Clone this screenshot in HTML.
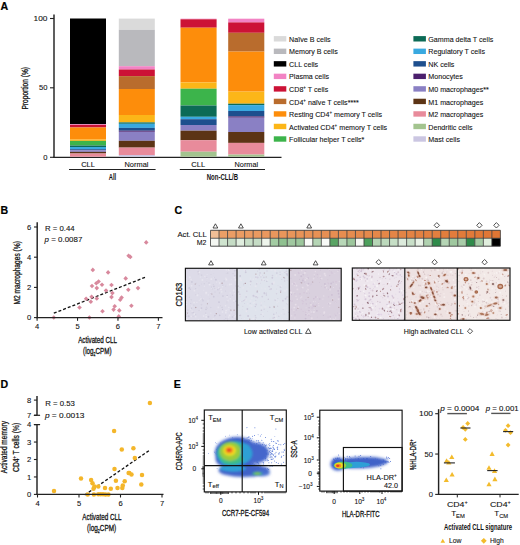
<!DOCTYPE html>
<html><head><meta charset="utf-8"><style>
html,body{margin:0;padding:0;background:#fff;width:520px;height:545px;overflow:hidden}
svg{display:block;font-family:"Liberation Sans", sans-serif}
</style></head><body>
<svg width="520" height="545" viewBox="0 0 520 545">
<rect width="520" height="545" fill="#fff"/>
<text x="0.6" y="9.6" font-size="10.6" font-weight="bold" fill="#000" stroke="#000" stroke-width="0.2">A</text><line x1="54" y1="14.4" x2="54" y2="157.8" stroke="#222" stroke-width="1.45"/><line x1="53.3" y1="157.3" x2="281.5" y2="157.3" stroke="#222" stroke-width="1.3"/><line x1="50" y1="18.5" x2="54" y2="18.5" stroke="#222" stroke-width="1.1"/><text x="47.4" y="21.1" font-size="7.6" text-anchor="end" textLength="13.9" lengthAdjust="spacingAndGlyphs" fill="#111" stroke="#111" stroke-width="0.1">100</text><line x1="50" y1="87.8" x2="54" y2="87.8" stroke="#222" stroke-width="1.1"/><text x="47.4" y="90.39999999999999" font-size="7.6" text-anchor="end" fill="#111" stroke="#111" stroke-width="0.1">50</text><line x1="50" y1="157.3" x2="54" y2="157.3" stroke="#222" stroke-width="1.1"/><text x="47.4" y="159.9" font-size="7.6" text-anchor="end" fill="#111" stroke="#111" stroke-width="0.1">0</text><text x="0" y="0" font-size="8.6" text-anchor="middle" textLength="42.6" lengthAdjust="spacingAndGlyphs" transform="translate(27.6 88.25) rotate(-90)" fill="#111" stroke="#111" stroke-width="0.28">Proportion (%)</text><rect x="70.00" y="18.50" width="36.00" height="105.70" fill="#000000"/><rect x="70.00" y="124.20" width="36.00" height="0.70" fill="#f283c4"/><rect x="70.00" y="124.90" width="36.00" height="2.60" fill="#cc1236"/><rect x="70.00" y="127.50" width="36.00" height="12.10" fill="#fd8d0b"/><rect x="70.00" y="139.60" width="36.00" height="1.30" fill="#fcb618"/><rect x="70.00" y="140.90" width="36.00" height="4.60" fill="#3cb44b"/><rect x="70.00" y="145.50" width="36.00" height="1.50" fill="#0c6b56"/><rect x="70.00" y="147.00" width="36.00" height="2.20" fill="#39a9e0"/><rect x="70.00" y="149.20" width="36.00" height="1.00" fill="#1d4f8e"/><rect x="70.00" y="150.20" width="36.00" height="1.70" fill="#8a80c4"/><rect x="70.00" y="151.90" width="36.00" height="1.60" fill="#5c3415"/><rect x="70.00" y="153.50" width="36.00" height="3.20" fill="#e88b9b"/><rect x="118.80" y="18.60" width="36.00" height="11.20" fill="#dadada"/><rect x="118.80" y="29.80" width="36.00" height="36.40" fill="#b9b9bd"/><rect x="118.80" y="66.20" width="36.00" height="3.30" fill="#f283c4"/><rect x="118.80" y="69.50" width="36.00" height="6.60" fill="#cc1236"/><rect x="118.80" y="76.10" width="36.00" height="12.90" fill="#b96c2d"/><rect x="118.80" y="89.00" width="36.00" height="26.00" fill="#fd8d0b"/><rect x="118.80" y="115.00" width="36.00" height="7.40" fill="#fcb618"/><rect x="118.80" y="122.40" width="36.00" height="1.40" fill="#0c6b56"/><rect x="118.80" y="123.80" width="36.00" height="4.10" fill="#39a9e0"/><rect x="118.80" y="127.90" width="36.00" height="2.80" fill="#1d4f8e"/><rect x="118.80" y="130.70" width="36.00" height="1.10" fill="#4b1f6d"/><rect x="118.80" y="131.80" width="36.00" height="9.00" fill="#8a80c4"/><rect x="118.80" y="140.80" width="36.00" height="6.80" fill="#5c3415"/><rect x="118.80" y="147.60" width="36.00" height="7.40" fill="#e88b9b"/><rect x="118.80" y="155.00" width="36.00" height="1.70" fill="#cbc6e2"/><rect x="180.50" y="18.70" width="36.10" height="0.60" fill="#f283c4"/><rect x="180.50" y="19.30" width="36.10" height="8.40" fill="#cc1236"/><rect x="180.50" y="27.70" width="36.10" height="54.70" fill="#fd8d0b"/><rect x="180.50" y="82.40" width="36.10" height="6.30" fill="#fcb618"/><rect x="180.50" y="88.70" width="36.10" height="16.80" fill="#3cb44b"/><rect x="180.50" y="105.50" width="36.10" height="11.30" fill="#0c6b56"/><rect x="180.50" y="116.80" width="36.10" height="2.40" fill="#39a9e0"/><rect x="180.50" y="119.20" width="36.10" height="5.80" fill="#1d4f8e"/><rect x="180.50" y="125.00" width="36.10" height="5.70" fill="#8a80c4"/><rect x="180.50" y="130.70" width="36.10" height="9.50" fill="#5c3415"/><rect x="180.50" y="140.20" width="36.10" height="11.50" fill="#e88b9b"/><rect x="180.50" y="151.70" width="36.10" height="5.00" fill="#a3c48f"/><rect x="228.20" y="18.70" width="36.10" height="3.70" fill="#f283c4"/><rect x="228.20" y="22.40" width="36.10" height="10.40" fill="#cc1236"/><rect x="228.20" y="32.80" width="36.10" height="18.80" fill="#b96c2d"/><rect x="228.20" y="51.60" width="36.10" height="40.00" fill="#fd8d0b"/><rect x="228.20" y="91.60" width="36.10" height="12.10" fill="#fcb618"/><rect x="228.20" y="103.70" width="36.10" height="1.40" fill="#0c6b56"/><rect x="228.20" y="105.10" width="36.10" height="5.90" fill="#39a9e0"/><rect x="228.20" y="111.00" width="36.10" height="5.40" fill="#1d4f8e"/><rect x="228.20" y="116.40" width="36.10" height="1.30" fill="#4b1f6d"/><rect x="228.20" y="117.70" width="36.10" height="14.30" fill="#8a80c4"/><rect x="228.20" y="132.00" width="36.10" height="10.90" fill="#5c3415"/><rect x="228.20" y="142.90" width="36.10" height="11.70" fill="#e88b9b"/><rect x="228.20" y="154.60" width="36.10" height="2.10" fill="#a3c48f"/><text x="81.2" y="166.6" font-size="7.3" textLength="13.7" lengthAdjust="spacingAndGlyphs" fill="#111" stroke="#111" stroke-width="0.1">CLL</text><text x="124.5" y="166.6" font-size="7.3" textLength="23.9" lengthAdjust="spacingAndGlyphs" fill="#111" stroke="#111" stroke-width="0.1">Normal</text><text x="191.3" y="166.6" font-size="7.3" textLength="13.9" lengthAdjust="spacingAndGlyphs" fill="#111" stroke="#111" stroke-width="0.1">CLL</text><text x="234.6" y="166.6" font-size="7.3" textLength="23.5" lengthAdjust="spacingAndGlyphs" fill="#111" stroke="#111" stroke-width="0.1">Normal</text><line x1="69" y1="169.5" x2="155.6" y2="169.5" stroke="#222" stroke-width="1.1"/><line x1="179.8" y1="169.5" x2="265" y2="169.5" stroke="#222" stroke-width="1.1"/><text x="108.8" y="179.6" font-size="8.6" font-weight="bold" textLength="7.4" lengthAdjust="spacingAndGlyphs" fill="#111">All</text><text x="206.7" y="180" font-size="8.6" font-weight="bold" textLength="31.4" lengthAdjust="spacingAndGlyphs" fill="#111">Non-CLL/B</text><rect x="273.80" y="36.10" width="12.50" height="5.40" fill="#dadada"/><text x="0" y="0" font-size="7.6" transform="translate(289.1 41.9) scale(0.937 1)" fill="#111" stroke="#111" stroke-width="0.1">Naïve B cells</text><rect x="273.80" y="48.62" width="12.50" height="5.40" fill="#b9b9bd"/><text x="0" y="0" font-size="7.6" transform="translate(289.1 54.425) scale(0.937 1)" fill="#111" stroke="#111" stroke-width="0.1">Memory B cells</text><rect x="273.80" y="61.15" width="12.50" height="5.40" fill="#000000"/><text x="0" y="0" font-size="7.6" transform="translate(289.1 66.94999999999999) scale(0.937 1)" fill="#111" stroke="#111" stroke-width="0.1">CLL cells</text><rect x="273.80" y="73.67" width="12.50" height="5.40" fill="#f283c4"/><text x="0" y="0" font-size="7.6" transform="translate(289.1 79.475) scale(0.937 1)" fill="#111" stroke="#111" stroke-width="0.1">Plasma cells</text><rect x="273.80" y="86.20" width="12.50" height="5.40" fill="#cc1236"/><text x="0" y="0" font-size="7.6" transform="translate(289.1 92.0) scale(0.937 1)" fill="#111" stroke="#111" stroke-width="0.1">CD8<tspan font-size="4.8" dy="-2.8">+</tspan><tspan dy="2.8"> T cells</tspan></text><rect x="273.80" y="98.72" width="12.50" height="5.40" fill="#b96c2d"/><text x="0" y="0" font-size="7.6" transform="translate(289.1 104.52499999999999) scale(0.937 1)" fill="#111" stroke="#111" stroke-width="0.1">CD4<tspan font-size="4.8" dy="-2.8">+</tspan><tspan dy="2.8"> naïve T cells****</tspan></text><rect x="273.80" y="111.25" width="12.50" height="5.40" fill="#fd8d0b"/><text x="0" y="0" font-size="7.6" transform="translate(289.1 117.05) scale(0.937 1)" fill="#111" stroke="#111" stroke-width="0.1">Resting CD4<tspan font-size="4.8" dy="-2.8">+</tspan><tspan dy="2.8"> memory T cells</tspan></text><rect x="273.80" y="123.77" width="12.50" height="5.40" fill="#fcb618"/><text x="0" y="0" font-size="7.6" transform="translate(289.1 129.575) scale(0.937 1)" fill="#111" stroke="#111" stroke-width="0.1">Activated CD4<tspan font-size="4.8" dy="-2.8">+</tspan><tspan dy="2.8"> memory T cells</tspan></text><rect x="273.80" y="136.30" width="12.50" height="5.40" fill="#3cb44b"/><text x="0" y="0" font-size="7.6" transform="translate(289.1 142.1) scale(0.937 1)" fill="#111" stroke="#111" stroke-width="0.1">Follicular helper T cells*</text><rect x="413.40" y="36.10" width="12.50" height="5.40" fill="#0c6b56"/><text x="0" y="0" font-size="7.6" transform="translate(428.3 41.9) scale(0.937 1)" fill="#111" stroke="#111" stroke-width="0.1">Gamma delta T cells</text><rect x="413.40" y="48.62" width="12.50" height="5.40" fill="#39a9e0"/><text x="0" y="0" font-size="7.6" transform="translate(428.3 54.425) scale(0.937 1)" fill="#111" stroke="#111" stroke-width="0.1">Regulatory T cells</text><rect x="413.40" y="61.15" width="12.50" height="5.40" fill="#1d4f8e"/><text x="0" y="0" font-size="7.6" transform="translate(428.3 66.94999999999999) scale(0.937 1)" fill="#111" stroke="#111" stroke-width="0.1">NK cells</text><rect x="413.40" y="73.67" width="12.50" height="5.40" fill="#4b1f6d"/><text x="0" y="0" font-size="7.6" transform="translate(428.3 79.475) scale(0.937 1)" fill="#111" stroke="#111" stroke-width="0.1">Monocytes</text><rect x="413.40" y="86.20" width="12.50" height="5.40" fill="#8a80c4"/><text x="0" y="0" font-size="7.6" transform="translate(428.3 92.0) scale(0.937 1)" fill="#111" stroke="#111" stroke-width="0.1">M0 macrophages**</text><rect x="413.40" y="98.72" width="12.50" height="5.40" fill="#5c3415"/><text x="0" y="0" font-size="7.6" transform="translate(428.3 104.52499999999999) scale(0.937 1)" fill="#111" stroke="#111" stroke-width="0.1">M1 macrophages</text><rect x="413.40" y="111.25" width="12.50" height="5.40" fill="#e88b9b"/><text x="0" y="0" font-size="7.6" transform="translate(428.3 117.05) scale(0.937 1)" fill="#111" stroke="#111" stroke-width="0.1">M2 macrophages</text><rect x="413.40" y="123.77" width="12.50" height="5.40" fill="#a3c48f"/><text x="0" y="0" font-size="7.6" transform="translate(428.3 129.575) scale(0.937 1)" fill="#111" stroke="#111" stroke-width="0.1">Dendritic cells</text><rect x="413.40" y="136.30" width="12.50" height="5.40" fill="#cbc6e2"/><text x="0" y="0" font-size="7.6" transform="translate(428.3 142.1) scale(0.937 1)" fill="#111" stroke="#111" stroke-width="0.1">Mast cells</text><text x="0.6" y="213.6" font-size="10.6" font-weight="bold" fill="#000" stroke="#000" stroke-width="0.2">B</text><text x="45" y="231.2" font-size="7" textLength="29.6" lengthAdjust="spacingAndGlyphs" fill="#111" stroke="#111" stroke-width="0.1">R = 0.44</text><text x="44.6" y="242" font-size="7" textLength="37.7" lengthAdjust="spacingAndGlyphs" fill="#111" stroke="#111" stroke-width="0.1"><tspan font-style="italic">p</tspan> = 0.0087</text><text x="78.2" y="342.6" font-size="8.6" textLength="38.7" lengthAdjust="spacingAndGlyphs" fill="#111" stroke="#111" stroke-width="0.28">Activated CLL</text><text x="83.1" y="354" font-size="8.6" textLength="28.4" lengthAdjust="spacingAndGlyphs" fill="#111" stroke="#111" stroke-width="0.28">(log<tspan font-size="4.8" dy="1.7">2</tspan><tspan dy="-1.7">CPM)</tspan></text><text x="0" y="0" font-size="8.6" text-anchor="middle" textLength="63.3" lengthAdjust="spacingAndGlyphs" transform="translate(20.3 272.8) rotate(-90)" fill="#111" stroke="#111" stroke-width="0.28">M2 macrophages (%)</text><line x1="53.8" y1="313.2" x2="146.2" y2="276.9" stroke="#111" stroke-width="1.3" stroke-dasharray="3 2"/><path d="M146.2 240.1L148.5 242.4L146.2 244.7L143.9 242.4Z" fill="#d8899d"/><path d="M128.6 253.5L130.9 255.8L128.6 258.1L126.3 255.8Z" fill="#d8899d"/><path d="M130.3 254.6L132.6 256.9L130.3 259.2L128.0 256.9Z" fill="#d8899d"/><path d="M92.8 267.6L95.1 269.9L92.8 272.2L90.5 269.9Z" fill="#d8899d"/><path d="M108.1 270.1L110.4 272.4L108.1 274.7L105.8 272.4Z" fill="#d8899d"/><path d="M125.7 276.1L128.0 278.4L125.7 280.7L123.4 278.4Z" fill="#d8899d"/><path d="M98.6 279.2L100.9 281.5L98.6 283.8L96.3 281.5Z" fill="#d8899d"/><path d="M96.3 281.0L98.6 283.3L96.3 285.6L94.0 283.3Z" fill="#d8899d"/><path d="M92.0 283.7L94.3 286.0L92.0 288.3L89.7 286.0Z" fill="#d8899d"/><path d="M102.0 282.4L104.3 284.7L102.0 287.0L99.7 284.7Z" fill="#d8899d"/><path d="M111.5 282.7L113.8 285.0L111.5 287.3L109.2 285.0Z" fill="#d8899d"/><path d="M96.8 285.8L99.1 288.1L96.8 290.4L94.5 288.1Z" fill="#d8899d"/><path d="M128.3 287.4L130.6 289.7L128.3 292.0L126.0 289.7Z" fill="#d8899d"/><path d="M138.0 285.8L140.3 288.1L138.0 290.4L135.7 288.1Z" fill="#d8899d"/><path d="M106.0 288.2L108.3 290.5L106.0 292.8L103.7 290.5Z" fill="#d8899d"/><path d="M112.4 290.8L114.7 293.1L112.4 295.4L110.1 293.1Z" fill="#d8899d"/><path d="M91.6 294.5L93.9 296.8L91.6 299.1L89.3 296.8Z" fill="#d8899d"/><path d="M86.1 296.5L88.4 298.8L86.1 301.1L83.8 298.8Z" fill="#d8899d"/><path d="M96.8 296.2L99.1 298.5L96.8 300.8L94.5 298.5Z" fill="#d8899d"/><path d="M111.5 294.8L113.8 297.1L111.5 299.4L109.2 297.1Z" fill="#d8899d"/><path d="M121.6 295.3L123.9 297.6L121.6 299.9L119.3 297.6Z" fill="#d8899d"/><path d="M120.2 297.4L122.5 299.7L120.2 302.0L117.9 299.7Z" fill="#d8899d"/><path d="M90.8 299.5L93.1 301.8L90.8 304.1L88.5 301.8Z" fill="#d8899d"/><path d="M79.5 305.2L81.8 307.5L79.5 309.8L77.2 307.5Z" fill="#d8899d"/><path d="M131.4 303.5L133.7 305.8L131.4 308.1L129.1 305.8Z" fill="#d8899d"/><path d="M114.7 304.0L117.0 306.3L114.7 308.6L112.4 306.3Z" fill="#d8899d"/><path d="M113.6 307.3L115.9 309.6L113.6 311.9L111.3 309.6Z" fill="#d8899d"/><path d="M119.3 308.1L121.6 310.4L119.3 312.7L117.0 310.4Z" fill="#d8899d"/><path d="M102.5 309.0L104.8 311.3L102.5 313.6L100.2 311.3Z" fill="#d8899d"/><path d="M89.4 315.2L91.7 317.5L89.4 319.8L87.1 317.5Z" fill="#d8899d"/><path d="M118.8 314.1L121.1 316.4L118.8 318.7L116.5 316.4Z" fill="#d8899d"/><path d="M53.8 315.2L56.1 317.5L53.8 319.8L51.5 317.5Z" fill="#d8899d"/><line x1="37.2" y1="222.3" x2="37.2" y2="318.2" stroke="#222" stroke-width="1.45"/><line x1="36.5" y1="317.6" x2="162.5" y2="317.6" stroke="#222" stroke-width="1.35"/><line x1="34" y1="317.6" x2="37.2" y2="317.6" stroke="#222" stroke-width="1.1"/><text x="29" y="320.3" font-size="7.6" text-anchor="middle" fill="#111" stroke="#111" stroke-width="0.1">0</text><line x1="34" y1="287.40000000000003" x2="37.2" y2="287.40000000000003" stroke="#222" stroke-width="1.1"/><text x="29" y="290.1" font-size="7.6" text-anchor="middle" fill="#111" stroke="#111" stroke-width="0.1">2</text><line x1="34" y1="257.20000000000005" x2="37.2" y2="257.20000000000005" stroke="#222" stroke-width="1.1"/><text x="29" y="259.90000000000003" font-size="7.6" text-anchor="middle" fill="#111" stroke="#111" stroke-width="0.1">4</text><line x1="34" y1="227.00000000000003" x2="37.2" y2="227.00000000000003" stroke="#222" stroke-width="1.1"/><text x="29" y="229.70000000000002" font-size="7.6" text-anchor="middle" fill="#111" stroke="#111" stroke-width="0.1">6</text><line x1="37.1" y1="317.6" x2="37.1" y2="320.8" stroke="#222" stroke-width="1.1"/><text x="37.1" y="329.1" font-size="7.6" text-anchor="middle" fill="#111" stroke="#111" stroke-width="0.1">4</text><line x1="77.53" y1="317.6" x2="77.53" y2="320.8" stroke="#222" stroke-width="1.1"/><text x="77.53" y="329.1" font-size="7.6" text-anchor="middle" fill="#111" stroke="#111" stroke-width="0.1">5</text><line x1="117.96000000000001" y1="317.6" x2="117.96000000000001" y2="320.8" stroke="#222" stroke-width="1.1"/><text x="117.96000000000001" y="329.1" font-size="7.6" text-anchor="middle" fill="#111" stroke="#111" stroke-width="0.1">6</text><line x1="158.39" y1="317.6" x2="158.39" y2="320.8" stroke="#222" stroke-width="1.1"/><text x="158.39" y="329.1" font-size="7.6" text-anchor="middle" fill="#111" stroke="#111" stroke-width="0.1">7</text><text x="174.4" y="213.5" font-size="10.6" font-weight="bold" fill="#000" stroke="#000" stroke-width="0.2">C</text><rect x="210.50" y="230.30" width="8.53" height="7.95" fill="#f0be96"/><rect x="210.50" y="238.25" width="8.53" height="7.95" fill="#f4f7f2"/><rect x="219.03" y="230.30" width="8.53" height="7.95" fill="#ec9f66"/><rect x="219.03" y="238.25" width="8.53" height="7.95" fill="#cfe4cf"/><rect x="227.55" y="230.30" width="8.53" height="7.95" fill="#eb9d65"/><rect x="227.55" y="238.25" width="8.53" height="7.95" fill="#c5dcc5"/><rect x="236.08" y="230.30" width="8.53" height="7.95" fill="#eb9c63"/><rect x="236.08" y="238.25" width="8.53" height="7.95" fill="#e0eedf"/><rect x="244.61" y="230.30" width="8.53" height="7.95" fill="#eb9b62"/><rect x="244.61" y="238.25" width="8.53" height="7.95" fill="#c8dfc8"/><rect x="253.13" y="230.30" width="8.53" height="7.95" fill="#ea9a60"/><rect x="253.13" y="238.25" width="8.53" height="7.95" fill="#c5dcc5"/><rect x="261.66" y="230.30" width="8.53" height="7.95" fill="#ea985f"/><rect x="261.66" y="238.25" width="8.53" height="7.95" fill="#eef5ec"/><rect x="270.19" y="230.30" width="8.53" height="7.95" fill="#e9975d"/><rect x="270.19" y="238.25" width="8.53" height="7.95" fill="#a3cca3"/><rect x="278.71" y="230.30" width="8.53" height="7.95" fill="#e9965b"/><rect x="278.71" y="238.25" width="8.53" height="7.95" fill="#8fc190"/><rect x="287.24" y="230.30" width="8.53" height="7.95" fill="#e9955a"/><rect x="287.24" y="238.25" width="8.53" height="7.95" fill="#a0c8a0"/><rect x="295.76" y="230.30" width="8.53" height="7.95" fill="#e89358"/><rect x="295.76" y="238.25" width="8.53" height="7.95" fill="#9cc69c"/><rect x="304.29" y="230.30" width="8.53" height="7.95" fill="#e89257"/><rect x="304.29" y="238.25" width="8.53" height="7.95" fill="#f8faf7"/><rect x="312.82" y="230.30" width="8.53" height="7.95" fill="#e89155"/><rect x="312.82" y="238.25" width="8.53" height="7.95" fill="#b5d5b5"/><rect x="321.34" y="230.30" width="8.53" height="7.95" fill="#e78f54"/><rect x="321.34" y="238.25" width="8.53" height="7.95" fill="#f8faf7"/><rect x="329.87" y="230.30" width="8.53" height="7.95" fill="#e78e52"/><rect x="329.87" y="238.25" width="8.53" height="7.95" fill="#5aa565"/><rect x="338.40" y="230.30" width="8.53" height="7.95" fill="#e78d50"/><rect x="338.40" y="238.25" width="8.53" height="7.95" fill="#b8d8b8"/><rect x="346.92" y="230.30" width="8.53" height="7.95" fill="#e68c4f"/><rect x="346.92" y="238.25" width="8.53" height="7.95" fill="#9cc69c"/><rect x="355.45" y="230.30" width="8.53" height="7.95" fill="#e68a4d"/><rect x="355.45" y="238.25" width="8.53" height="7.95" fill="#f3f6f1"/><rect x="363.98" y="230.30" width="8.53" height="7.95" fill="#e5894c"/><rect x="363.98" y="238.25" width="8.53" height="7.95" fill="#4da05c"/><rect x="372.50" y="230.30" width="8.53" height="7.95" fill="#e5884a"/><rect x="372.50" y="238.25" width="8.53" height="7.95" fill="#b5d5b5"/><rect x="381.03" y="230.30" width="8.53" height="7.95" fill="#e58748"/><rect x="381.03" y="238.25" width="8.53" height="7.95" fill="#bcd9bc"/><rect x="389.56" y="230.30" width="8.53" height="7.95" fill="#e48547"/><rect x="389.56" y="238.25" width="8.53" height="7.95" fill="#c6dfc6"/><rect x="398.08" y="230.30" width="8.53" height="7.95" fill="#e48445"/><rect x="398.08" y="238.25" width="8.53" height="7.95" fill="#dcebdc"/><rect x="406.61" y="230.30" width="8.53" height="7.95" fill="#e48344"/><rect x="406.61" y="238.25" width="8.53" height="7.95" fill="#c8dfc8"/><rect x="415.14" y="230.30" width="8.53" height="7.95" fill="#e38142"/><rect x="415.14" y="238.25" width="8.53" height="7.95" fill="#e8f2e6"/><rect x="423.66" y="230.30" width="8.53" height="7.95" fill="#e38041"/><rect x="423.66" y="238.25" width="8.53" height="7.95" fill="#b0d2b0"/><rect x="432.19" y="230.30" width="8.53" height="7.95" fill="#e37f3f"/><rect x="432.19" y="238.25" width="8.53" height="7.95" fill="#2e8b4a"/><rect x="440.71" y="230.30" width="8.53" height="7.95" fill="#e27e3d"/><rect x="440.71" y="238.25" width="8.53" height="7.95" fill="#b5d5b5"/><rect x="449.24" y="230.30" width="8.53" height="7.95" fill="#e27c3c"/><rect x="449.24" y="238.25" width="8.53" height="7.95" fill="#9fc89f"/><rect x="457.77" y="230.30" width="8.53" height="7.95" fill="#e17b3a"/><rect x="457.77" y="238.25" width="8.53" height="7.95" fill="#a8cca8"/><rect x="466.29" y="230.30" width="8.53" height="7.95" fill="#e17a39"/><rect x="466.29" y="238.25" width="8.53" height="7.95" fill="#2e8b4a"/><rect x="474.82" y="230.30" width="8.53" height="7.95" fill="#e17937"/><rect x="474.82" y="238.25" width="8.53" height="7.95" fill="#a5cba5"/><rect x="483.35" y="230.30" width="8.53" height="7.95" fill="#e07736"/><rect x="483.35" y="238.25" width="8.53" height="7.95" fill="#e0eedd"/><rect x="491.87" y="230.30" width="8.53" height="7.95" fill="#e07634"/><rect x="491.87" y="238.25" width="8.53" height="7.95" fill="#000000"/><line x1="210.50" y1="230.3" x2="210.50" y2="246.2" stroke="#3a3a3a" stroke-width="0.8"/><line x1="219.03" y1="230.3" x2="219.03" y2="246.2" stroke="#3a3a3a" stroke-width="0.8"/><line x1="227.55" y1="230.3" x2="227.55" y2="246.2" stroke="#3a3a3a" stroke-width="0.8"/><line x1="236.08" y1="230.3" x2="236.08" y2="246.2" stroke="#3a3a3a" stroke-width="0.8"/><line x1="244.61" y1="230.3" x2="244.61" y2="246.2" stroke="#3a3a3a" stroke-width="0.8"/><line x1="253.13" y1="230.3" x2="253.13" y2="246.2" stroke="#3a3a3a" stroke-width="0.8"/><line x1="261.66" y1="230.3" x2="261.66" y2="246.2" stroke="#3a3a3a" stroke-width="0.8"/><line x1="270.19" y1="230.3" x2="270.19" y2="246.2" stroke="#3a3a3a" stroke-width="0.8"/><line x1="278.71" y1="230.3" x2="278.71" y2="246.2" stroke="#3a3a3a" stroke-width="0.8"/><line x1="287.24" y1="230.3" x2="287.24" y2="246.2" stroke="#3a3a3a" stroke-width="0.8"/><line x1="295.76" y1="230.3" x2="295.76" y2="246.2" stroke="#3a3a3a" stroke-width="0.8"/><line x1="304.29" y1="230.3" x2="304.29" y2="246.2" stroke="#3a3a3a" stroke-width="0.8"/><line x1="312.82" y1="230.3" x2="312.82" y2="246.2" stroke="#3a3a3a" stroke-width="0.8"/><line x1="321.34" y1="230.3" x2="321.34" y2="246.2" stroke="#3a3a3a" stroke-width="0.8"/><line x1="329.87" y1="230.3" x2="329.87" y2="246.2" stroke="#3a3a3a" stroke-width="0.8"/><line x1="338.40" y1="230.3" x2="338.40" y2="246.2" stroke="#3a3a3a" stroke-width="0.8"/><line x1="346.92" y1="230.3" x2="346.92" y2="246.2" stroke="#3a3a3a" stroke-width="0.8"/><line x1="355.45" y1="230.3" x2="355.45" y2="246.2" stroke="#3a3a3a" stroke-width="0.8"/><line x1="363.98" y1="230.3" x2="363.98" y2="246.2" stroke="#3a3a3a" stroke-width="0.8"/><line x1="372.50" y1="230.3" x2="372.50" y2="246.2" stroke="#3a3a3a" stroke-width="0.8"/><line x1="381.03" y1="230.3" x2="381.03" y2="246.2" stroke="#3a3a3a" stroke-width="0.8"/><line x1="389.56" y1="230.3" x2="389.56" y2="246.2" stroke="#3a3a3a" stroke-width="0.8"/><line x1="398.08" y1="230.3" x2="398.08" y2="246.2" stroke="#3a3a3a" stroke-width="0.8"/><line x1="406.61" y1="230.3" x2="406.61" y2="246.2" stroke="#3a3a3a" stroke-width="0.8"/><line x1="415.14" y1="230.3" x2="415.14" y2="246.2" stroke="#3a3a3a" stroke-width="0.8"/><line x1="423.66" y1="230.3" x2="423.66" y2="246.2" stroke="#3a3a3a" stroke-width="0.8"/><line x1="432.19" y1="230.3" x2="432.19" y2="246.2" stroke="#3a3a3a" stroke-width="0.8"/><line x1="440.71" y1="230.3" x2="440.71" y2="246.2" stroke="#3a3a3a" stroke-width="0.8"/><line x1="449.24" y1="230.3" x2="449.24" y2="246.2" stroke="#3a3a3a" stroke-width="0.8"/><line x1="457.77" y1="230.3" x2="457.77" y2="246.2" stroke="#3a3a3a" stroke-width="0.8"/><line x1="466.29" y1="230.3" x2="466.29" y2="246.2" stroke="#3a3a3a" stroke-width="0.8"/><line x1="474.82" y1="230.3" x2="474.82" y2="246.2" stroke="#3a3a3a" stroke-width="0.8"/><line x1="483.35" y1="230.3" x2="483.35" y2="246.2" stroke="#3a3a3a" stroke-width="0.8"/><line x1="491.87" y1="230.3" x2="491.87" y2="246.2" stroke="#3a3a3a" stroke-width="0.8"/><line x1="500.40" y1="230.3" x2="500.40" y2="246.2" stroke="#3a3a3a" stroke-width="0.8"/><line x1="210.5" y1="230.3" x2="500.4" y2="230.3" stroke="#3a3a3a" stroke-width="0.9"/><line x1="210.5" y1="238.25" x2="500.4" y2="238.25" stroke="#3a3a3a" stroke-width="0.8"/><line x1="210.5" y1="246.2" x2="500.4" y2="246.2" stroke="#3a3a3a" stroke-width="0.9"/><path d="M215.4 223.8L217.8 228.0L213.0 228.0Z" fill="none" stroke="#333" stroke-width="0.85"/><path d="M240.9 223.8L243.3 228.0L238.5 228.0Z" fill="none" stroke="#333" stroke-width="0.85"/><path d="M309.2 223.8L311.6 228.0L306.8 228.0Z" fill="none" stroke="#333" stroke-width="0.85"/><path d="M436.8 222.6L439.5 225.3L436.8 228.0L434.1 225.3Z" fill="none" stroke="#333" stroke-width="0.85"/><path d="M479.4 222.6L482.1 225.3L479.4 228.0L476.7 225.3Z" fill="none" stroke="#333" stroke-width="0.85"/><path d="M496.4 222.6L499.1 225.3L496.4 228.0L493.7 225.3Z" fill="none" stroke="#333" stroke-width="0.85"/><text x="206.9" y="237" font-size="7" text-anchor="end" textLength="29.4" lengthAdjust="spacingAndGlyphs" fill="#111" stroke="#111" stroke-width="0.1">Act. CLL</text><text x="206.3" y="245" font-size="7" text-anchor="end" textLength="9.6" lengthAdjust="spacingAndGlyphs" fill="#111" stroke="#111" stroke-width="0.1">M2</text><defs><filter id="bl" x="-50%" y="-50%" width="200%" height="200%"><feGaussianBlur stdDeviation="0.5"/></filter><filter id="bl2" x="-50%" y="-50%" width="200%" height="200%"><feGaussianBlur stdDeviation="0.35"/></filter></defs><svg x="185.4" y="268.3" width="51.6" height="52.5" overflow="hidden"><rect width="51.6" height="52.5" fill="#dddbe8"/><g filter="url(#bl2)"><circle cx="6.9" cy="44.5" r="0.86" fill="#d5d2e1"/><circle cx="6.1" cy="40.0" r="0.68" fill="#cdcadb"/><circle cx="40.7" cy="4.9" r="0.42" fill="#cdcadb"/><circle cx="22.3" cy="40.0" r="0.40" fill="#cdcadb"/><circle cx="13.7" cy="42.1" r="0.75" fill="#d2d0df"/><circle cx="46.5" cy="1.6" r="0.42" fill="#e8e6ef"/><circle cx="0.5" cy="46.3" r="0.81" fill="#cdcadb"/><circle cx="37.5" cy="27.7" r="0.86" fill="#cdcadb"/><circle cx="28.5" cy="18.1" r="0.81" fill="#cdcadb"/><circle cx="49.1" cy="48.6" r="0.65" fill="#e8e6ef"/><circle cx="47.6" cy="5.3" r="0.78" fill="#d5d2e1"/><circle cx="6.2" cy="17.5" r="0.83" fill="#e8e6ef"/><circle cx="48.3" cy="22.2" r="0.90" fill="#e6e5ee"/><circle cx="15.7" cy="30.8" r="0.93" fill="#e8e6ef"/><circle cx="20.3" cy="44.8" r="0.69" fill="#cdcadb"/><circle cx="21.4" cy="9.1" r="0.73" fill="#d5d2e1"/><circle cx="4.5" cy="34.8" r="0.46" fill="#e6e5ee"/><circle cx="26.9" cy="20.6" r="0.69" fill="#d2d0df"/><circle cx="24.2" cy="16.2" r="0.91" fill="#e8e6ef"/><circle cx="30.6" cy="20.7" r="0.50" fill="#e8e6ef"/><circle cx="11.7" cy="0.6" r="0.52" fill="#e8e6ef"/><circle cx="12.0" cy="27.0" r="0.97" fill="#e8e6ef"/><circle cx="18.2" cy="47.8" r="0.80" fill="#e8e6ef"/><circle cx="49.4" cy="0.3" r="0.87" fill="#e8e6ef"/><circle cx="41.8" cy="27.2" r="0.74" fill="#cdcadb"/><circle cx="49.0" cy="25.3" r="0.62" fill="#e8e6ef"/><circle cx="10.3" cy="26.5" r="0.69" fill="#d5d2e1"/><circle cx="21.4" cy="0.1" r="0.72" fill="#e8e6ef"/><circle cx="17.1" cy="31.5" r="0.88" fill="#e6e5ee"/><circle cx="28.4" cy="9.5" r="0.45" fill="#e8e6ef"/><circle cx="41.1" cy="42.9" r="0.55" fill="#d2d0df"/><circle cx="4.3" cy="0.9" r="0.41" fill="#d5d2e1"/><circle cx="12.9" cy="5.7" r="0.77" fill="#d5d2e1"/><circle cx="15.0" cy="8.8" r="0.55" fill="#e6e5ee"/><circle cx="33.9" cy="34.0" r="0.58" fill="#d5d2e1"/><circle cx="25.6" cy="6.0" r="0.59" fill="#d5d2e1"/><circle cx="21.7" cy="9.9" r="0.47" fill="#e8e6ef"/><circle cx="50.4" cy="50.7" r="0.66" fill="#d2d0df"/><circle cx="11.6" cy="20.9" r="0.42" fill="#e6e5ee"/><circle cx="23.0" cy="26.6" r="0.66" fill="#e6e5ee"/><circle cx="50.4" cy="33.1" r="0.82" fill="#cdcadb"/><circle cx="11.5" cy="34.0" r="0.64" fill="#e8e6ef"/><circle cx="41.5" cy="34.6" r="0.66" fill="#d5d2e1"/><circle cx="6.5" cy="11.1" r="0.43" fill="#d2d0df"/><circle cx="44.3" cy="16.3" r="0.96" fill="#e6e5ee"/><circle cx="21.5" cy="13.2" r="0.41" fill="#d2d0df"/><circle cx="30.5" cy="11.4" r="0.94" fill="#cdcadb"/><circle cx="8.9" cy="45.6" r="0.98" fill="#e8e6ef"/><circle cx="26.3" cy="19.8" r="0.61" fill="#e6e5ee"/><circle cx="29.6" cy="47.1" r="0.75" fill="#cdcadb"/><circle cx="5.4" cy="35.0" r="0.58" fill="#cdcadb"/><circle cx="0.9" cy="32.1" r="0.64" fill="#d5d2e1"/><circle cx="0.9" cy="10.5" r="0.60" fill="#e8e6ef"/><circle cx="40.4" cy="17.8" r="0.53" fill="#d2d0df"/><circle cx="43.2" cy="48.9" r="0.61" fill="#e8e6ef"/><circle cx="25.0" cy="51.7" r="0.54" fill="#d2d0df"/><circle cx="4.4" cy="8.9" r="0.95" fill="#e6e5ee"/><circle cx="13.8" cy="17.4" r="0.70" fill="#d5d2e1"/><circle cx="19.0" cy="17.9" r="0.57" fill="#e8e6ef"/><circle cx="40.2" cy="37.5" r="0.69" fill="#e8e6ef"/><circle cx="28.4" cy="5.5" r="0.42" fill="#d2d0df"/><circle cx="19.6" cy="52.0" r="0.49" fill="#e6e5ee"/><circle cx="17.6" cy="32.3" r="0.87" fill="#cdcadb"/><circle cx="4.0" cy="28.9" r="0.74" fill="#d5d2e1"/><circle cx="18.8" cy="15.5" r="0.72" fill="#d2d0df"/><circle cx="23.6" cy="14.6" r="0.87" fill="#d5d2e1"/><circle cx="0.6" cy="35.2" r="0.46" fill="#d2d0df"/><circle cx="42.6" cy="41.5" r="0.51" fill="#e8e6ef"/><circle cx="21.7" cy="6.1" r="0.50" fill="#e6e5ee"/><circle cx="8.2" cy="44.4" r="0.66" fill="#cdcadb"/><circle cx="41.6" cy="28.5" r="0.89" fill="#e8e6ef"/><circle cx="13.1" cy="25.0" r="0.46" fill="#d5d2e1"/><circle cx="2.0" cy="0.6" r="0.99" fill="#d5d2e1"/><circle cx="37.5" cy="16.8" r="0.63" fill="#cdcadb"/><circle cx="3.2" cy="48.0" r="0.98" fill="#cdcadb"/><circle cx="5.7" cy="11.3" r="0.77" fill="#e8e6ef"/><circle cx="44.8" cy="24.6" r="0.61" fill="#e6e5ee"/><circle cx="27.9" cy="16.1" r="0.55" fill="#d2d0df"/><circle cx="42.3" cy="4.7" r="0.85" fill="#d2d0df"/><circle cx="33.6" cy="33.8" r="0.96" fill="#cdcadb"/><circle cx="49.9" cy="2.2" r="0.51" fill="#e8e6ef"/><circle cx="46.1" cy="15.9" r="0.60" fill="#e8e6ef"/><circle cx="31.5" cy="42.4" r="0.46" fill="#e6e5ee"/><circle cx="1.1" cy="12.8" r="0.44" fill="#e8e6ef"/><circle cx="44.8" cy="38.3" r="0.41" fill="#d2d0df"/><circle cx="15.0" cy="41.6" r="0.70" fill="#e6e5ee"/><circle cx="5.2" cy="40.8" r="0.60" fill="#e8e6ef"/><circle cx="49.0" cy="9.1" r="0.87" fill="#e6e5ee"/><circle cx="42.4" cy="16.8" r="0.46" fill="#e8e6ef"/><circle cx="43.1" cy="31.6" r="0.48" fill="#e6e5ee"/><circle cx="7.3" cy="47.8" r="0.42" fill="#d5d2e1"/><circle cx="42.4" cy="32.7" r="0.80" fill="#e8e6ef"/><circle cx="43.4" cy="39.2" r="0.81" fill="#e6e5ee"/><circle cx="15.4" cy="28.2" r="0.43" fill="#e6e5ee"/><circle cx="13.0" cy="3.4" r="0.98" fill="#cdcadb"/><circle cx="28.3" cy="28.4" r="0.91" fill="#cdcadb"/><circle cx="0.6" cy="43.9" r="0.50" fill="#cdcadb"/><circle cx="1.3" cy="33.9" r="0.65" fill="#e8e6ef"/><circle cx="1.0" cy="36.3" r="0.75" fill="#e8e6ef"/><circle cx="6.5" cy="13.6" r="0.90" fill="#cdcadb"/><circle cx="29.1" cy="9.0" r="0.45" fill="#cdcadb"/><circle cx="0.4" cy="27.8" r="0.70" fill="#cdcadb"/><circle cx="48.0" cy="33.6" r="0.54" fill="#d5d2e1"/><circle cx="25.5" cy="25.1" r="0.54" fill="#cdcadb"/><circle cx="17.4" cy="32.1" r="0.84" fill="#d5d2e1"/><circle cx="50.2" cy="11.5" r="0.95" fill="#e8e6ef"/><circle cx="33.3" cy="19.4" r="0.71" fill="#e6e5ee"/><circle cx="16.1" cy="36.4" r="0.91" fill="#d5d2e1"/><circle cx="8.5" cy="36.8" r="0.68" fill="#d2d0df"/><circle cx="44.2" cy="47.1" r="0.98" fill="#e8e6ef"/><circle cx="19.5" cy="8.2" r="0.66" fill="#e8e6ef"/><circle cx="37.1" cy="41.1" r="0.70" fill="#cdcadb"/><circle cx="37.0" cy="18.3" r="0.71" fill="#e6e5ee"/><circle cx="28.1" cy="52.2" r="0.71" fill="#d2d0df"/><circle cx="41.7" cy="33.0" r="0.56" fill="#d2d0df"/><circle cx="49.5" cy="7.3" r="0.87" fill="#d2d0df"/><circle cx="23.0" cy="48.5" r="0.98" fill="#cdcadb"/><circle cx="48.5" cy="47.4" r="0.64" fill="#d5d2e1"/><circle cx="22.6" cy="32.7" r="0.69" fill="#e6e5ee"/><circle cx="6.2" cy="31.5" r="0.64" fill="#d2d0df"/><circle cx="34.1" cy="14.6" r="0.63" fill="#e8e6ef"/><circle cx="0.2" cy="10.0" r="0.66" fill="#d2d0df"/><circle cx="1.6" cy="51.1" r="0.55" fill="#d5d2e1"/><circle cx="10.7" cy="15.0" r="0.73" fill="#d5d2e1"/><circle cx="16.1" cy="39.8" r="0.90" fill="#cdcadb"/><circle cx="40.8" cy="42.5" r="0.98" fill="#e8e6ef"/><circle cx="18.4" cy="22.0" r="0.47" fill="#e6e5ee"/><circle cx="29.4" cy="20.1" r="0.57" fill="#d2d0df"/><circle cx="46.6" cy="1.3" r="0.74" fill="#d2d0df"/><circle cx="28.1" cy="50.7" r="0.86" fill="#e6e5ee"/><circle cx="3.9" cy="19.6" r="0.88" fill="#cdcadb"/><circle cx="26.0" cy="18.7" r="0.72" fill="#d2d0df"/><circle cx="6.4" cy="37.7" r="0.61" fill="#e8e6ef"/><circle cx="20.6" cy="41.1" r="0.81" fill="#cdcadb"/><circle cx="5.8" cy="48.2" r="0.63" fill="#e8e6ef"/><circle cx="0.2" cy="14.6" r="0.76" fill="#e8e6ef"/><circle cx="10.3" cy="48.5" r="0.76" fill="#e8e6ef"/><circle cx="21.1" cy="39.1" r="0.99" fill="#d5d2e1"/><circle cx="36.3" cy="23.6" r="0.80" fill="#e6e5ee"/><circle cx="18.5" cy="0.2" r="0.63" fill="#cdcadb"/><circle cx="50.1" cy="17.6" r="0.77" fill="#d2d0df"/><circle cx="25.4" cy="39.2" r="0.78" fill="#d5d2e1"/><circle cx="32.5" cy="21.4" r="0.78" fill="#cdcadb"/><circle cx="40.4" cy="44.4" r="0.86" fill="#e8e6ef"/><circle cx="0.5" cy="47.9" r="0.88" fill="#cdcadb"/><circle cx="45.1" cy="28.6" r="0.49" fill="#d5d2e1"/><circle cx="25.0" cy="24.5" r="0.43" fill="#e8e6ef"/><circle cx="5.1" cy="31.0" r="0.44" fill="#d2d0df"/><circle cx="33.9" cy="1.0" r="0.70" fill="#e6e5ee"/><circle cx="35.6" cy="21.1" r="0.81" fill="#e8e6ef"/><circle cx="15.7" cy="27.7" r="0.54" fill="#d5d2e1"/><circle cx="13.9" cy="3.9" r="0.90" fill="#e8e6ef"/><circle cx="34.0" cy="24.6" r="0.73" fill="#d2d0df"/><circle cx="8.7" cy="34.3" r="0.83" fill="#e8e6ef"/><circle cx="13.9" cy="32.0" r="0.54" fill="#e8e6ef"/><circle cx="20.6" cy="25.4" r="0.56" fill="#e8e6ef"/><circle cx="17.0" cy="11.7" r="0.98" fill="#e6e5ee"/><circle cx="43.5" cy="1.6" r="0.94" fill="#e8e6ef"/><circle cx="20.8" cy="48.7" r="0.96" fill="#e6e5ee"/><circle cx="40.5" cy="10.0" r="0.78" fill="#e6e5ee"/><circle cx="44.9" cy="30.4" r="0.75" fill="#e6e5ee"/><circle cx="31.3" cy="13.8" r="0.72" fill="#e6e5ee"/><circle cx="40.2" cy="46.9" r="0.66" fill="#d5d2e1"/><circle cx="38.8" cy="12.6" r="0.83" fill="#d5d2e1"/><circle cx="3.5" cy="12.0" r="0.59" fill="#d2d0df"/><circle cx="49.3" cy="2.4" r="0.89" fill="#d2d0df"/><circle cx="45.9" cy="11.4" r="0.42" fill="#e8e6ef"/><circle cx="42.0" cy="50.6" r="0.77" fill="#d5d2e1"/><circle cx="34.2" cy="14.4" r="0.77" fill="#e6e5ee"/><circle cx="4.9" cy="21.0" r="0.70" fill="#cdcadb"/><circle cx="38.7" cy="51.1" r="0.54" fill="#d5d2e1"/><circle cx="23.9" cy="30.4" r="0.53" fill="#d5d2e1"/><circle cx="17.0" cy="31.2" r="0.95" fill="#d2d0df"/><circle cx="2.4" cy="41.9" r="0.91" fill="#d5d2e1"/><circle cx="45.9" cy="44.5" r="0.57" fill="#e6e5ee"/><circle cx="20.6" cy="46.2" r="0.86" fill="#e6e5ee"/><circle cx="41.0" cy="1.6" r="0.63" fill="#e8e6ef"/><circle cx="2.9" cy="19.9" r="0.48" fill="#cdcadb"/><circle cx="33.7" cy="15.9" r="0.41" fill="#e8e6ef"/><circle cx="3.1" cy="44.1" r="0.43" fill="#d5d2e1"/><circle cx="40.3" cy="22.7" r="0.51" fill="#cdcadb"/><circle cx="32.9" cy="39.1" r="0.81" fill="#e6e5ee"/><circle cx="34.2" cy="20.5" r="0.78" fill="#d5d2e1"/><circle cx="33.1" cy="12.8" r="0.44" fill="#e8e6ef"/><circle cx="9.0" cy="22.5" r="0.82" fill="#e8e6ef"/><circle cx="50.0" cy="47.5" r="0.73" fill="#e8e6ef"/><circle cx="10.3" cy="46.2" r="0.65" fill="#d2d0df"/><circle cx="36.8" cy="39.0" r="0.83" fill="#d2d0df"/><circle cx="13.0" cy="51.3" r="0.49" fill="#e6e5ee"/><circle cx="44.1" cy="44.7" r="0.43" fill="#d2d0df"/><circle cx="47.1" cy="26.9" r="0.70" fill="#d2d0df"/><circle cx="50.8" cy="2.1" r="0.72" fill="#cdcadb"/><circle cx="34.3" cy="47.0" r="0.86" fill="#cdcadb"/><circle cx="1.3" cy="27.5" r="0.45" fill="#d5d2e1"/><circle cx="4.4" cy="1.8" r="0.63" fill="#d5d2e1"/><circle cx="16.2" cy="6.8" r="0.88" fill="#d2d0df"/><circle cx="44.2" cy="15.9" r="0.65" fill="#e6e5ee"/><circle cx="25.9" cy="10.8" r="0.95" fill="#e8e6ef"/><circle cx="40.4" cy="50.2" r="0.75" fill="#d2d0df"/><circle cx="6.7" cy="42.8" r="0.71" fill="#e8e6ef"/><circle cx="37.1" cy="43.8" r="0.82" fill="#e8e6ef"/><circle cx="1.6" cy="51.4" r="0.99" fill="#e6e5ee"/><circle cx="10.3" cy="20.4" r="0.59" fill="#cdcadb"/><circle cx="17.8" cy="30.2" r="0.43" fill="#e8e6ef"/><circle cx="16.2" cy="15.7" r="0.61" fill="#d5d2e1"/><circle cx="38.6" cy="27.3" r="0.41" fill="#d2d0df"/><circle cx="7.7" cy="48.0" r="0.60" fill="#d5d2e1"/><circle cx="29.6" cy="23.7" r="0.57" fill="#cdcadb"/><circle cx="47.1" cy="48.7" r="0.98" fill="#d2d0df"/><circle cx="47.6" cy="42.1" r="0.48" fill="#e8e6ef"/><circle cx="25.4" cy="44.8" r="0.55" fill="#e6e5ee"/><circle cx="36.3" cy="39.2" r="0.62" fill="#d5d2e1"/><circle cx="20.8" cy="24.4" r="0.99" fill="#e8e6ef"/><circle cx="26.2" cy="1.5" r="0.55" fill="#e6e5ee"/><circle cx="29.0" cy="47.6" r="0.51" fill="#cdcadb"/><circle cx="48.5" cy="32.5" r="0.89" fill="#e8e6ef"/><circle cx="35.2" cy="37.5" r="0.52" fill="#d2d0df"/><circle cx="32.6" cy="27.6" r="0.45" fill="#d2d0df"/><circle cx="41.0" cy="11.4" r="0.90" fill="#e8e6ef"/><circle cx="44.5" cy="1.1" r="0.62" fill="#cdcadb"/></g><g filter="url(#bl)"><circle cx="36.7" cy="14.9" r="0.67" fill="#b09aa2"/><circle cx="30.9" cy="45.4" r="0.67" fill="#b09aa2"/><circle cx="22.0" cy="35.5" r="0.56" fill="#b09aa2"/><circle cx="48.7" cy="41.9" r="0.62" fill="#b09aa2"/><circle cx="42.0" cy="52.4" r="0.48" fill="#b09aa2"/><circle cx="10.4" cy="39.2" r="0.63" fill="#b09aa2"/><circle cx="26.5" cy="25.6" r="0.52" fill="#b09aa2"/><circle cx="45.5" cy="41.8" r="0.58" fill="#b09aa2"/><circle cx="2.1" cy="44.7" r="0.54" fill="#b09aa2"/><circle cx="9.8" cy="15.7" r="0.61" fill="#b09aa2"/></g></svg><svg x="237" y="268.3" width="52.3" height="52.5" overflow="hidden"><rect width="52.3" height="52.5" fill="#dfe3ec"/><g filter="url(#bl2)"><circle cx="50.0" cy="49.8" r="0.43" fill="#d2d0df"/><circle cx="18.9" cy="8.9" r="0.89" fill="#d5d2e1"/><circle cx="13.2" cy="11.1" r="0.42" fill="#e6e5ee"/><circle cx="52.3" cy="33.5" r="0.88" fill="#e8e6ef"/><circle cx="49.7" cy="28.6" r="0.67" fill="#d5d2e1"/><circle cx="47.1" cy="45.7" r="0.62" fill="#d5d2e1"/><circle cx="47.5" cy="22.2" r="0.93" fill="#e6e5ee"/><circle cx="29.3" cy="12.4" r="0.41" fill="#d5d2e1"/><circle cx="9.1" cy="26.8" r="0.62" fill="#e8e6ef"/><circle cx="35.3" cy="9.5" r="0.94" fill="#cdcadb"/><circle cx="38.4" cy="47.6" r="0.86" fill="#e8e6ef"/><circle cx="18.5" cy="51.5" r="0.98" fill="#e6e5ee"/><circle cx="49.9" cy="21.0" r="0.84" fill="#e8e6ef"/><circle cx="13.1" cy="14.7" r="0.70" fill="#e8e6ef"/><circle cx="43.5" cy="18.6" r="0.93" fill="#cdcadb"/><circle cx="18.3" cy="38.1" r="0.73" fill="#cdcadb"/><circle cx="25.4" cy="11.6" r="0.59" fill="#e6e5ee"/><circle cx="45.9" cy="32.4" r="0.86" fill="#cdcadb"/><circle cx="16.2" cy="50.3" r="0.82" fill="#e8e6ef"/><circle cx="29.4" cy="26.6" r="0.77" fill="#cdcadb"/><circle cx="16.3" cy="10.9" r="0.71" fill="#e8e6ef"/><circle cx="46.1" cy="41.2" r="0.60" fill="#d2d0df"/><circle cx="47.5" cy="10.0" r="0.85" fill="#d2d0df"/><circle cx="30.0" cy="2.6" r="0.76" fill="#d2d0df"/><circle cx="39.5" cy="7.2" r="0.56" fill="#e6e5ee"/><circle cx="49.3" cy="3.2" r="0.94" fill="#d2d0df"/><circle cx="3.0" cy="18.9" r="0.55" fill="#d2d0df"/><circle cx="4.3" cy="50.1" r="0.42" fill="#d2d0df"/><circle cx="19.5" cy="6.7" r="0.96" fill="#e6e5ee"/><circle cx="27.4" cy="0.1" r="0.75" fill="#e6e5ee"/><circle cx="7.9" cy="1.9" r="0.61" fill="#e8e6ef"/><circle cx="32.8" cy="39.3" r="0.57" fill="#cdcadb"/><circle cx="1.6" cy="23.6" r="0.86" fill="#d2d0df"/><circle cx="47.2" cy="39.7" r="0.92" fill="#e6e5ee"/><circle cx="24.7" cy="11.8" r="0.80" fill="#d5d2e1"/><circle cx="43.8" cy="1.3" r="0.87" fill="#e6e5ee"/><circle cx="27.1" cy="41.0" r="0.69" fill="#d5d2e1"/><circle cx="7.5" cy="50.4" r="0.56" fill="#e8e6ef"/><circle cx="50.8" cy="34.3" r="0.82" fill="#e6e5ee"/><circle cx="35.1" cy="13.3" r="0.48" fill="#e6e5ee"/><circle cx="5.0" cy="33.3" r="0.70" fill="#d2d0df"/><circle cx="52.0" cy="12.2" r="0.67" fill="#d5d2e1"/><circle cx="4.2" cy="12.0" r="0.87" fill="#e8e6ef"/><circle cx="37.1" cy="13.5" r="0.65" fill="#e8e6ef"/><circle cx="39.3" cy="7.9" r="0.63" fill="#e6e5ee"/><circle cx="5.8" cy="38.0" r="0.54" fill="#d2d0df"/><circle cx="1.0" cy="39.4" r="0.46" fill="#d2d0df"/><circle cx="27.2" cy="24.4" r="0.59" fill="#cdcadb"/><circle cx="11.1" cy="47.6" r="0.98" fill="#cdcadb"/><circle cx="22.3" cy="1.1" r="0.75" fill="#cdcadb"/><circle cx="48.6" cy="30.5" r="0.95" fill="#cdcadb"/><circle cx="19.2" cy="27.3" r="0.95" fill="#e8e6ef"/><circle cx="19.2" cy="36.2" r="0.96" fill="#d5d2e1"/><circle cx="1.0" cy="36.0" r="0.46" fill="#d5d2e1"/><circle cx="10.4" cy="40.7" r="0.90" fill="#cdcadb"/><circle cx="3.1" cy="33.5" r="0.68" fill="#e8e6ef"/><circle cx="32.1" cy="0.3" r="0.41" fill="#d5d2e1"/><circle cx="48.9" cy="4.0" r="0.85" fill="#e6e5ee"/><circle cx="6.1" cy="19.6" r="0.83" fill="#e6e5ee"/><circle cx="39.4" cy="20.7" r="0.47" fill="#d2d0df"/><circle cx="6.4" cy="32.4" r="0.60" fill="#cdcadb"/><circle cx="50.2" cy="36.4" r="0.41" fill="#cdcadb"/><circle cx="40.6" cy="38.0" r="0.70" fill="#d5d2e1"/><circle cx="50.2" cy="7.4" r="0.62" fill="#cdcadb"/><circle cx="27.5" cy="25.1" r="0.97" fill="#cdcadb"/><circle cx="48.7" cy="43.9" r="0.58" fill="#e6e5ee"/><circle cx="8.2" cy="31.3" r="0.73" fill="#d2d0df"/><circle cx="30.6" cy="42.9" r="0.46" fill="#d5d2e1"/><circle cx="9.2" cy="28.6" r="0.88" fill="#d2d0df"/><circle cx="41.8" cy="47.8" r="0.81" fill="#d2d0df"/><circle cx="6.7" cy="15.6" r="0.54" fill="#d5d2e1"/><circle cx="23.0" cy="27.5" r="0.47" fill="#e8e6ef"/><circle cx="51.6" cy="50.9" r="0.65" fill="#d5d2e1"/><circle cx="27.0" cy="37.6" r="0.55" fill="#e6e5ee"/><circle cx="24.1" cy="36.9" r="0.64" fill="#d5d2e1"/><circle cx="40.9" cy="30.1" r="0.49" fill="#cdcadb"/><circle cx="37.6" cy="42.5" r="0.63" fill="#e6e5ee"/><circle cx="20.5" cy="2.8" r="0.56" fill="#d5d2e1"/><circle cx="37.2" cy="49.2" r="0.82" fill="#cdcadb"/><circle cx="18.8" cy="28.7" r="0.83" fill="#d2d0df"/><circle cx="39.8" cy="44.7" r="0.53" fill="#e8e6ef"/><circle cx="9.8" cy="42.9" r="0.63" fill="#d2d0df"/><circle cx="16.4" cy="27.5" r="0.94" fill="#cdcadb"/><circle cx="34.0" cy="42.8" r="0.41" fill="#e6e5ee"/><circle cx="38.2" cy="31.8" r="0.94" fill="#d2d0df"/><circle cx="20.4" cy="29.3" r="0.88" fill="#d5d2e1"/><circle cx="38.9" cy="30.8" r="0.51" fill="#e8e6ef"/><circle cx="7.2" cy="32.1" r="0.66" fill="#d5d2e1"/><circle cx="26.9" cy="9.1" r="0.83" fill="#d2d0df"/><circle cx="18.3" cy="47.5" r="0.72" fill="#d2d0df"/><circle cx="39.5" cy="25.5" r="0.80" fill="#d5d2e1"/><circle cx="24.0" cy="46.1" r="0.68" fill="#d2d0df"/><circle cx="32.1" cy="18.3" r="0.86" fill="#cdcadb"/><circle cx="13.4" cy="32.8" r="0.90" fill="#e6e5ee"/><circle cx="2.8" cy="26.2" r="1.00" fill="#d5d2e1"/><circle cx="8.2" cy="14.8" r="0.68" fill="#d2d0df"/><circle cx="19.2" cy="28.2" r="0.63" fill="#cdcadb"/><circle cx="10.7" cy="35.5" r="0.70" fill="#e6e5ee"/><circle cx="25.3" cy="28.3" r="0.95" fill="#d2d0df"/><circle cx="13.5" cy="16.4" r="0.60" fill="#d5d2e1"/><circle cx="34.2" cy="20.6" r="0.90" fill="#d2d0df"/><circle cx="26.6" cy="11.1" r="0.76" fill="#e6e5ee"/><circle cx="41.7" cy="33.0" r="0.58" fill="#e6e5ee"/><circle cx="49.7" cy="29.5" r="0.71" fill="#d2d0df"/><circle cx="50.1" cy="5.9" r="0.89" fill="#cdcadb"/><circle cx="44.8" cy="11.2" r="0.61" fill="#d5d2e1"/><circle cx="23.9" cy="8.7" r="0.67" fill="#d5d2e1"/><circle cx="24.1" cy="7.0" r="0.83" fill="#e6e5ee"/><circle cx="48.6" cy="17.1" r="0.46" fill="#e6e5ee"/><circle cx="24.5" cy="39.5" r="0.91" fill="#e6e5ee"/><circle cx="18.6" cy="41.7" r="0.54" fill="#e8e6ef"/><circle cx="33.1" cy="21.0" r="0.89" fill="#d5d2e1"/><circle cx="14.7" cy="37.8" r="0.76" fill="#e8e6ef"/><circle cx="36.1" cy="49.8" r="0.85" fill="#d5d2e1"/><circle cx="27.8" cy="33.4" r="0.44" fill="#d5d2e1"/><circle cx="20.7" cy="9.2" r="0.97" fill="#d5d2e1"/><circle cx="23.1" cy="4.6" r="0.95" fill="#d5d2e1"/><circle cx="50.2" cy="6.7" r="0.42" fill="#d5d2e1"/><circle cx="8.7" cy="4.0" r="0.93" fill="#cdcadb"/><circle cx="0.4" cy="16.8" r="0.90" fill="#e8e6ef"/><circle cx="20.4" cy="14.9" r="0.78" fill="#e6e5ee"/><circle cx="18.8" cy="10.6" r="0.70" fill="#e6e5ee"/><circle cx="41.0" cy="17.4" r="0.48" fill="#d5d2e1"/><circle cx="13.1" cy="18.0" r="0.55" fill="#e6e5ee"/><circle cx="38.1" cy="2.5" r="0.96" fill="#e8e6ef"/><circle cx="3.2" cy="7.6" r="0.91" fill="#cdcadb"/><circle cx="23.2" cy="14.3" r="0.59" fill="#e8e6ef"/><circle cx="44.2" cy="17.7" r="0.86" fill="#e8e6ef"/><circle cx="50.1" cy="12.0" r="0.43" fill="#cdcadb"/><circle cx="25.6" cy="45.7" r="0.73" fill="#e8e6ef"/><circle cx="31.3" cy="30.9" r="0.72" fill="#cdcadb"/><circle cx="51.7" cy="44.1" r="0.67" fill="#cdcadb"/><circle cx="20.2" cy="23.8" r="0.93" fill="#cdcadb"/><circle cx="52.1" cy="6.7" r="0.96" fill="#e8e6ef"/><circle cx="47.9" cy="4.1" r="0.58" fill="#d2d0df"/><circle cx="13.2" cy="35.1" r="0.53" fill="#d2d0df"/><circle cx="7.7" cy="35.2" r="0.46" fill="#cdcadb"/><circle cx="2.6" cy="47.2" r="0.54" fill="#cdcadb"/><circle cx="7.3" cy="1.6" r="0.82" fill="#e8e6ef"/><circle cx="3.2" cy="10.5" r="0.95" fill="#e8e6ef"/><circle cx="17.7" cy="27.7" r="0.54" fill="#d5d2e1"/><circle cx="25.7" cy="6.9" r="0.47" fill="#d2d0df"/><circle cx="24.4" cy="41.9" r="0.77" fill="#cdcadb"/><circle cx="17.6" cy="34.0" r="0.64" fill="#e8e6ef"/><circle cx="26.5" cy="48.1" r="0.50" fill="#d2d0df"/><circle cx="43.6" cy="7.9" r="0.97" fill="#e6e5ee"/><circle cx="19.7" cy="15.6" r="0.66" fill="#cdcadb"/><circle cx="6.8" cy="16.5" r="0.58" fill="#d2d0df"/><circle cx="29.4" cy="24.8" r="0.57" fill="#cdcadb"/><circle cx="51.6" cy="12.0" r="0.82" fill="#e8e6ef"/><circle cx="34.4" cy="1.6" r="0.73" fill="#e6e5ee"/><circle cx="11.1" cy="20.6" r="0.42" fill="#e6e5ee"/><circle cx="32.7" cy="39.0" r="0.82" fill="#cdcadb"/><circle cx="28.2" cy="38.7" r="0.92" fill="#e6e5ee"/><circle cx="43.7" cy="31.4" r="0.42" fill="#e6e5ee"/><circle cx="52.2" cy="7.4" r="0.82" fill="#e6e5ee"/><circle cx="39.9" cy="4.8" r="0.81" fill="#cdcadb"/><circle cx="32.9" cy="50.6" r="0.49" fill="#d5d2e1"/><circle cx="36.7" cy="14.6" r="0.94" fill="#e8e6ef"/><circle cx="3.5" cy="47.1" r="0.80" fill="#d2d0df"/><circle cx="23.8" cy="34.6" r="0.47" fill="#d5d2e1"/><circle cx="49.4" cy="0.8" r="0.65" fill="#d5d2e1"/><circle cx="28.1" cy="20.6" r="0.72" fill="#e6e5ee"/><circle cx="22.5" cy="6.8" r="0.50" fill="#cdcadb"/><circle cx="45.6" cy="51.0" r="0.63" fill="#e8e6ef"/><circle cx="13.3" cy="10.0" r="0.69" fill="#e6e5ee"/><circle cx="39.5" cy="44.6" r="0.60" fill="#d2d0df"/><circle cx="8.9" cy="31.8" r="0.92" fill="#e6e5ee"/><circle cx="40.2" cy="34.3" r="0.75" fill="#e6e5ee"/><circle cx="35.7" cy="16.2" r="0.52" fill="#d5d2e1"/><circle cx="5.1" cy="41.4" r="0.42" fill="#d5d2e1"/><circle cx="3.1" cy="28.0" r="0.88" fill="#d5d2e1"/><circle cx="43.0" cy="3.8" r="0.68" fill="#d2d0df"/><circle cx="14.8" cy="30.1" r="0.53" fill="#e6e5ee"/><circle cx="31.7" cy="19.7" r="0.44" fill="#e8e6ef"/><circle cx="23.4" cy="14.7" r="0.45" fill="#cdcadb"/><circle cx="41.9" cy="48.1" r="0.49" fill="#d5d2e1"/><circle cx="44.4" cy="45.0" r="0.54" fill="#e8e6ef"/><circle cx="36.8" cy="45.9" r="0.75" fill="#cdcadb"/><circle cx="27.4" cy="12.3" r="0.53" fill="#d2d0df"/><circle cx="13.7" cy="13.1" r="0.97" fill="#cdcadb"/><circle cx="43.1" cy="6.3" r="0.67" fill="#cdcadb"/><circle cx="24.8" cy="19.9" r="0.53" fill="#e6e5ee"/><circle cx="2.9" cy="27.6" r="0.93" fill="#e8e6ef"/><circle cx="49.5" cy="35.4" r="0.43" fill="#cdcadb"/><circle cx="21.0" cy="27.0" r="0.46" fill="#e8e6ef"/><circle cx="18.9" cy="49.5" r="0.70" fill="#d2d0df"/><circle cx="36.9" cy="38.6" r="0.53" fill="#d2d0df"/><circle cx="1.5" cy="2.2" r="0.79" fill="#e6e5ee"/><circle cx="16.8" cy="28.2" r="0.77" fill="#d5d2e1"/><circle cx="49.3" cy="5.4" r="0.73" fill="#d2d0df"/><circle cx="35.5" cy="7.2" r="0.82" fill="#d2d0df"/><circle cx="16.2" cy="34.7" r="0.68" fill="#e8e6ef"/><circle cx="18.6" cy="17.9" r="0.95" fill="#e8e6ef"/><circle cx="18.8" cy="32.0" r="0.61" fill="#d5d2e1"/><circle cx="42.1" cy="47.0" r="0.71" fill="#e6e5ee"/><circle cx="1.3" cy="17.9" r="0.90" fill="#d2d0df"/><circle cx="18.3" cy="51.2" r="0.72" fill="#d2d0df"/><circle cx="45.1" cy="4.0" r="0.72" fill="#e8e6ef"/><circle cx="40.3" cy="22.5" r="0.54" fill="#e6e5ee"/><circle cx="8.5" cy="2.4" r="0.76" fill="#d5d2e1"/><circle cx="35.2" cy="15.5" r="0.94" fill="#d2d0df"/><circle cx="50.6" cy="29.7" r="0.96" fill="#e6e5ee"/><circle cx="21.1" cy="47.7" r="0.47" fill="#e8e6ef"/><circle cx="47.7" cy="12.7" r="0.73" fill="#d2d0df"/><circle cx="0.3" cy="21.3" r="0.70" fill="#d5d2e1"/><circle cx="30.4" cy="11.6" r="0.72" fill="#e8e6ef"/><circle cx="48.2" cy="22.4" r="0.87" fill="#e6e5ee"/><circle cx="22.3" cy="24.1" r="0.62" fill="#e8e6ef"/><circle cx="9.6" cy="42.9" r="0.97" fill="#e8e6ef"/><circle cx="49.7" cy="42.0" r="0.79" fill="#e6e5ee"/><circle cx="25.9" cy="52.0" r="0.91" fill="#e6e5ee"/><circle cx="1.2" cy="37.0" r="0.99" fill="#cdcadb"/><circle cx="29.8" cy="13.1" r="0.67" fill="#cdcadb"/><circle cx="9.8" cy="22.9" r="0.86" fill="#d5d2e1"/><circle cx="39.3" cy="50.0" r="0.89" fill="#e8e6ef"/><circle cx="43.7" cy="22.4" r="0.96" fill="#d2d0df"/><circle cx="50.9" cy="28.8" r="0.74" fill="#d5d2e1"/><circle cx="12.9" cy="37.4" r="0.62" fill="#e8e6ef"/><circle cx="24.1" cy="34.8" r="0.73" fill="#e8e6ef"/></g><g filter="url(#bl)"><circle cx="8.3" cy="15.1" r="0.68" fill="#b09aa2"/><circle cx="18.9" cy="5.8" r="0.61" fill="#b09aa2"/><circle cx="12.8" cy="50.9" r="0.60" fill="#b09aa2"/><circle cx="20.2" cy="22.7" r="0.54" fill="#b09aa2"/><circle cx="27.3" cy="4.7" r="0.62" fill="#b09aa2"/><circle cx="43.6" cy="23.8" r="0.68" fill="#b09aa2"/><circle cx="37.2" cy="38.8" r="0.67" fill="#b09aa2"/><circle cx="29.1" cy="8.7" r="0.47" fill="#b09aa2"/><circle cx="46.9" cy="9.1" r="0.54" fill="#b09aa2"/><circle cx="37.0" cy="37.9" r="0.45" fill="#b09aa2"/></g></svg><svg x="289.3" y="268.3" width="51.9" height="52.5" overflow="hidden"><rect width="51.9" height="52.5" fill="#d9d0de"/><g filter="url(#bl2)"><circle cx="12.4" cy="28.6" r="0.62" fill="#e6dee8"/><circle cx="24.6" cy="30.5" r="0.76" fill="#ccbfd3"/><circle cx="13.5" cy="12.3" r="1.00" fill="#ccbfd3"/><circle cx="28.1" cy="28.9" r="0.64" fill="#e4dbe6"/><circle cx="12.0" cy="8.0" r="0.96" fill="#ccbfd3"/><circle cx="38.5" cy="35.2" r="0.44" fill="#e6dee8"/><circle cx="2.2" cy="41.0" r="0.89" fill="#d5c8da"/><circle cx="24.5" cy="37.7" r="0.93" fill="#ccbfd3"/><circle cx="20.5" cy="42.0" r="0.67" fill="#e4dbe6"/><circle cx="45.6" cy="5.1" r="0.48" fill="#e4dbe6"/><circle cx="13.4" cy="35.3" r="0.87" fill="#d5c8da"/><circle cx="21.9" cy="43.8" r="0.74" fill="#e6dee8"/><circle cx="30.4" cy="30.7" r="0.94" fill="#d2c6d8"/><circle cx="44.4" cy="52.0" r="0.80" fill="#e4dbe6"/><circle cx="36.3" cy="17.1" r="0.73" fill="#e6dee8"/><circle cx="29.5" cy="37.5" r="0.53" fill="#e6dee8"/><circle cx="13.9" cy="6.5" r="0.69" fill="#ccbfd3"/><circle cx="4.6" cy="42.0" r="0.65" fill="#e4dbe6"/><circle cx="1.0" cy="22.4" r="0.65" fill="#d2c6d8"/><circle cx="2.3" cy="32.3" r="0.43" fill="#e6dee8"/><circle cx="17.2" cy="46.2" r="0.99" fill="#e6dee8"/><circle cx="12.2" cy="1.9" r="0.40" fill="#d2c6d8"/><circle cx="31.1" cy="1.6" r="0.52" fill="#ccbfd3"/><circle cx="15.1" cy="13.8" r="0.81" fill="#d5c8da"/><circle cx="16.3" cy="50.3" r="0.94" fill="#ccbfd3"/><circle cx="19.6" cy="45.7" r="0.63" fill="#e6dee8"/><circle cx="35.3" cy="5.4" r="0.98" fill="#e6dee8"/><circle cx="14.1" cy="33.3" r="0.83" fill="#d5c8da"/><circle cx="22.7" cy="13.6" r="0.58" fill="#d5c8da"/><circle cx="0.6" cy="21.8" r="0.75" fill="#d2c6d8"/><circle cx="19.5" cy="30.9" r="0.48" fill="#d5c8da"/><circle cx="24.2" cy="35.7" r="0.61" fill="#d5c8da"/><circle cx="38.3" cy="1.2" r="0.44" fill="#d2c6d8"/><circle cx="50.0" cy="13.2" r="0.67" fill="#e6dee8"/><circle cx="31.2" cy="9.3" r="0.51" fill="#d5c8da"/><circle cx="43.8" cy="13.9" r="0.87" fill="#d2c6d8"/><circle cx="40.1" cy="1.4" r="0.74" fill="#e4dbe6"/><circle cx="16.1" cy="11.7" r="0.88" fill="#e4dbe6"/><circle cx="17.0" cy="35.6" r="0.79" fill="#d2c6d8"/><circle cx="5.3" cy="16.9" r="0.60" fill="#e4dbe6"/><circle cx="22.8" cy="44.9" r="0.50" fill="#d5c8da"/><circle cx="38.5" cy="11.4" r="0.74" fill="#d5c8da"/><circle cx="11.7" cy="6.3" r="0.72" fill="#e4dbe6"/><circle cx="16.4" cy="43.9" r="0.74" fill="#d5c8da"/><circle cx="17.7" cy="43.5" r="0.45" fill="#e6dee8"/><circle cx="17.9" cy="6.8" r="0.58" fill="#d5c8da"/><circle cx="24.1" cy="33.3" r="0.57" fill="#e6dee8"/><circle cx="21.3" cy="48.3" r="0.49" fill="#d2c6d8"/><circle cx="24.8" cy="43.7" r="0.77" fill="#e6dee8"/><circle cx="22.5" cy="49.9" r="0.96" fill="#e4dbe6"/><circle cx="1.7" cy="24.0" r="0.85" fill="#e6dee8"/><circle cx="50.0" cy="28.6" r="0.93" fill="#d2c6d8"/><circle cx="44.5" cy="51.0" r="0.47" fill="#e4dbe6"/><circle cx="2.3" cy="47.4" r="0.82" fill="#e4dbe6"/><circle cx="46.5" cy="47.2" r="0.75" fill="#d2c6d8"/><circle cx="25.0" cy="6.3" r="0.70" fill="#e4dbe6"/><circle cx="34.4" cy="27.6" r="0.65" fill="#e6dee8"/><circle cx="5.9" cy="6.6" r="0.98" fill="#e6dee8"/><circle cx="24.8" cy="41.1" r="0.61" fill="#e4dbe6"/><circle cx="6.3" cy="46.6" r="0.47" fill="#e4dbe6"/><circle cx="41.1" cy="48.4" r="0.88" fill="#d2c6d8"/><circle cx="25.3" cy="30.0" r="0.64" fill="#d5c8da"/><circle cx="12.9" cy="32.4" r="0.71" fill="#d2c6d8"/><circle cx="24.5" cy="40.8" r="0.40" fill="#d2c6d8"/><circle cx="40.2" cy="2.4" r="0.43" fill="#ccbfd3"/><circle cx="50.6" cy="44.9" r="0.45" fill="#e6dee8"/><circle cx="25.4" cy="8.2" r="0.44" fill="#ccbfd3"/><circle cx="33.6" cy="30.8" r="0.62" fill="#e4dbe6"/><circle cx="51.3" cy="22.5" r="0.48" fill="#d2c6d8"/><circle cx="37.2" cy="20.0" r="0.45" fill="#e4dbe6"/><circle cx="2.2" cy="24.2" r="0.79" fill="#e6dee8"/><circle cx="19.7" cy="42.1" r="0.77" fill="#ccbfd3"/><circle cx="2.8" cy="32.9" r="0.86" fill="#d5c8da"/><circle cx="21.8" cy="36.4" r="0.68" fill="#e4dbe6"/><circle cx="11.3" cy="14.2" r="0.75" fill="#ccbfd3"/><circle cx="11.6" cy="6.8" r="0.42" fill="#d5c8da"/><circle cx="19.4" cy="47.1" r="0.87" fill="#d5c8da"/><circle cx="6.3" cy="36.3" r="0.96" fill="#e6dee8"/><circle cx="41.1" cy="35.0" r="0.84" fill="#e6dee8"/><circle cx="27.6" cy="42.6" r="0.83" fill="#ccbfd3"/><circle cx="7.4" cy="40.7" r="0.43" fill="#d2c6d8"/><circle cx="29.3" cy="34.6" r="0.63" fill="#d2c6d8"/><circle cx="17.7" cy="44.7" r="0.42" fill="#d2c6d8"/><circle cx="35.0" cy="43.9" r="0.97" fill="#e6dee8"/><circle cx="15.5" cy="4.7" r="1.00" fill="#e6dee8"/><circle cx="26.5" cy="37.5" r="0.46" fill="#d2c6d8"/><circle cx="48.5" cy="3.2" r="0.59" fill="#e6dee8"/><circle cx="9.4" cy="4.1" r="1.00" fill="#e4dbe6"/><circle cx="23.6" cy="36.8" r="0.97" fill="#d5c8da"/><circle cx="19.1" cy="20.8" r="0.61" fill="#ccbfd3"/><circle cx="50.2" cy="19.7" r="0.54" fill="#ccbfd3"/><circle cx="43.8" cy="50.8" r="0.65" fill="#e6dee8"/><circle cx="39.2" cy="35.4" r="0.71" fill="#ccbfd3"/><circle cx="8.1" cy="21.1" r="0.93" fill="#e4dbe6"/><circle cx="5.0" cy="39.3" r="0.95" fill="#e6dee8"/><circle cx="49.3" cy="30.8" r="0.91" fill="#e4dbe6"/><circle cx="13.9" cy="10.5" r="0.75" fill="#d5c8da"/><circle cx="48.5" cy="44.7" r="0.72" fill="#d5c8da"/><circle cx="34.8" cy="44.9" r="0.76" fill="#e6dee8"/><circle cx="30.3" cy="14.0" r="0.53" fill="#d2c6d8"/><circle cx="13.9" cy="42.2" r="0.52" fill="#e6dee8"/><circle cx="18.7" cy="16.9" r="0.86" fill="#e4dbe6"/><circle cx="21.7" cy="36.6" r="0.82" fill="#e4dbe6"/><circle cx="24.3" cy="43.8" r="0.89" fill="#e6dee8"/><circle cx="1.4" cy="52.1" r="0.44" fill="#ccbfd3"/><circle cx="40.6" cy="46.3" r="0.43" fill="#e4dbe6"/><circle cx="46.2" cy="34.0" r="0.87" fill="#d2c6d8"/><circle cx="49.8" cy="44.8" r="0.55" fill="#e4dbe6"/><circle cx="40.3" cy="7.2" r="0.77" fill="#d2c6d8"/><circle cx="46.7" cy="13.4" r="0.92" fill="#d5c8da"/><circle cx="9.5" cy="4.8" r="0.88" fill="#d2c6d8"/><circle cx="4.8" cy="43.8" r="0.58" fill="#d5c8da"/><circle cx="23.5" cy="38.5" r="0.60" fill="#d2c6d8"/><circle cx="17.4" cy="22.9" r="0.69" fill="#e4dbe6"/><circle cx="33.4" cy="39.0" r="0.69" fill="#e4dbe6"/><circle cx="28.3" cy="6.3" r="0.56" fill="#ccbfd3"/><circle cx="5.8" cy="46.6" r="0.95" fill="#d2c6d8"/><circle cx="27.4" cy="36.8" r="0.81" fill="#d5c8da"/><circle cx="39.3" cy="15.5" r="0.81" fill="#d5c8da"/><circle cx="5.6" cy="49.6" r="0.60" fill="#e6dee8"/><circle cx="27.8" cy="5.9" r="0.70" fill="#d5c8da"/><circle cx="3.1" cy="15.5" r="0.84" fill="#e4dbe6"/><circle cx="33.5" cy="38.3" r="0.49" fill="#d5c8da"/><circle cx="46.2" cy="34.4" r="0.47" fill="#e6dee8"/><circle cx="7.3" cy="17.4" r="0.83" fill="#e6dee8"/><circle cx="21.8" cy="15.8" r="0.51" fill="#ccbfd3"/><circle cx="16.2" cy="9.3" r="0.44" fill="#e4dbe6"/><circle cx="39.2" cy="28.5" r="0.84" fill="#d5c8da"/><circle cx="5.2" cy="14.2" r="0.43" fill="#e4dbe6"/><circle cx="2.2" cy="26.5" r="0.55" fill="#e6dee8"/><circle cx="18.4" cy="17.5" r="0.64" fill="#e6dee8"/><circle cx="42.0" cy="3.6" r="0.70" fill="#d2c6d8"/><circle cx="7.9" cy="31.0" r="0.81" fill="#e6dee8"/><circle cx="40.4" cy="38.2" r="0.51" fill="#e4dbe6"/><circle cx="29.4" cy="35.2" r="0.63" fill="#e4dbe6"/><circle cx="30.7" cy="7.7" r="0.64" fill="#e4dbe6"/><circle cx="28.3" cy="8.9" r="0.51" fill="#d5c8da"/><circle cx="19.2" cy="15.4" r="0.91" fill="#ccbfd3"/><circle cx="46.3" cy="49.8" r="0.63" fill="#e6dee8"/><circle cx="47.0" cy="16.3" r="0.70" fill="#e6dee8"/><circle cx="35.6" cy="15.7" r="0.92" fill="#ccbfd3"/><circle cx="1.6" cy="10.0" r="0.78" fill="#d2c6d8"/><circle cx="40.0" cy="34.8" r="0.70" fill="#e6dee8"/><circle cx="32.4" cy="10.4" r="0.87" fill="#e4dbe6"/><circle cx="1.9" cy="26.3" r="0.79" fill="#ccbfd3"/><circle cx="5.8" cy="14.9" r="0.79" fill="#e4dbe6"/><circle cx="7.0" cy="41.6" r="0.77" fill="#d2c6d8"/><circle cx="1.3" cy="32.5" r="0.70" fill="#ccbfd3"/><circle cx="28.0" cy="48.8" r="0.59" fill="#d5c8da"/><circle cx="36.1" cy="7.1" r="0.91" fill="#e6dee8"/><circle cx="40.2" cy="1.8" r="0.45" fill="#d5c8da"/><circle cx="51.8" cy="10.8" r="0.44" fill="#e4dbe6"/><circle cx="22.7" cy="39.7" r="0.69" fill="#d2c6d8"/><circle cx="40.8" cy="21.4" r="0.91" fill="#e4dbe6"/><circle cx="20.3" cy="24.8" r="0.44" fill="#ccbfd3"/><circle cx="10.8" cy="25.7" r="0.41" fill="#ccbfd3"/><circle cx="39.3" cy="21.1" r="0.51" fill="#d2c6d8"/><circle cx="37.4" cy="19.3" r="0.62" fill="#e6dee8"/><circle cx="18.8" cy="21.1" r="0.98" fill="#e4dbe6"/><circle cx="13.4" cy="19.4" r="0.91" fill="#e6dee8"/><circle cx="10.1" cy="11.0" r="0.50" fill="#ccbfd3"/><circle cx="26.1" cy="33.4" r="0.48" fill="#e6dee8"/><circle cx="8.7" cy="25.7" r="0.44" fill="#d2c6d8"/><circle cx="20.9" cy="16.7" r="0.42" fill="#d2c6d8"/><circle cx="12.4" cy="2.1" r="0.70" fill="#e4dbe6"/><circle cx="12.5" cy="20.4" r="0.51" fill="#d5c8da"/><circle cx="32.3" cy="18.2" r="0.47" fill="#d2c6d8"/><circle cx="41.9" cy="15.3" r="0.99" fill="#ccbfd3"/><circle cx="41.0" cy="50.5" r="0.69" fill="#e6dee8"/><circle cx="13.8" cy="42.8" r="0.78" fill="#d5c8da"/><circle cx="16.5" cy="3.0" r="0.66" fill="#d2c6d8"/><circle cx="30.7" cy="0.2" r="0.42" fill="#d2c6d8"/><circle cx="1.0" cy="26.4" r="0.69" fill="#e4dbe6"/><circle cx="34.0" cy="47.3" r="0.52" fill="#ccbfd3"/><circle cx="17.6" cy="25.1" r="0.61" fill="#d2c6d8"/><circle cx="19.8" cy="39.5" r="0.78" fill="#ccbfd3"/><circle cx="4.6" cy="15.4" r="0.91" fill="#d2c6d8"/><circle cx="26.3" cy="28.7" r="0.72" fill="#ccbfd3"/><circle cx="9.1" cy="38.8" r="0.84" fill="#e6dee8"/><circle cx="18.6" cy="9.7" r="0.88" fill="#ccbfd3"/><circle cx="11.9" cy="40.9" r="0.69" fill="#d5c8da"/><circle cx="42.6" cy="26.6" r="0.85" fill="#ccbfd3"/><circle cx="49.3" cy="2.2" r="0.50" fill="#d2c6d8"/><circle cx="42.7" cy="4.8" r="0.82" fill="#d2c6d8"/><circle cx="16.6" cy="31.5" r="0.88" fill="#d2c6d8"/><circle cx="45.6" cy="45.8" r="0.67" fill="#d5c8da"/><circle cx="51.7" cy="0.1" r="0.52" fill="#d2c6d8"/><circle cx="17.6" cy="16.3" r="0.67" fill="#e4dbe6"/><circle cx="12.5" cy="2.6" r="0.49" fill="#e4dbe6"/><circle cx="30.4" cy="0.6" r="0.54" fill="#e4dbe6"/><circle cx="11.4" cy="29.5" r="0.65" fill="#e6dee8"/><circle cx="16.6" cy="46.4" r="0.87" fill="#ccbfd3"/><circle cx="9.2" cy="4.2" r="0.90" fill="#d2c6d8"/><circle cx="31.0" cy="45.1" r="0.46" fill="#d5c8da"/><circle cx="4.5" cy="24.4" r="0.53" fill="#e6dee8"/><circle cx="5.6" cy="25.5" r="0.80" fill="#d5c8da"/><circle cx="20.9" cy="34.7" r="0.87" fill="#d5c8da"/><circle cx="43.4" cy="31.2" r="0.89" fill="#e4dbe6"/><circle cx="6.1" cy="0.4" r="0.58" fill="#d2c6d8"/><circle cx="17.7" cy="10.1" r="0.85" fill="#e6dee8"/><circle cx="35.6" cy="19.1" r="0.87" fill="#d2c6d8"/><circle cx="31.4" cy="11.2" r="0.61" fill="#d2c6d8"/><circle cx="17.4" cy="22.6" r="0.45" fill="#e4dbe6"/><circle cx="16.8" cy="39.4" r="0.52" fill="#e4dbe6"/><circle cx="45.4" cy="51.8" r="0.77" fill="#e6dee8"/><circle cx="44.2" cy="19.3" r="0.51" fill="#e6dee8"/><circle cx="49.3" cy="25.4" r="0.86" fill="#ccbfd3"/><circle cx="24.4" cy="30.8" r="0.42" fill="#d2c6d8"/><circle cx="9.6" cy="5.0" r="0.83" fill="#d5c8da"/><circle cx="26.1" cy="3.2" r="0.68" fill="#e4dbe6"/><circle cx="38.7" cy="14.5" r="0.66" fill="#d5c8da"/><circle cx="24.3" cy="10.3" r="0.87" fill="#e4dbe6"/><circle cx="5.4" cy="15.7" r="0.65" fill="#d2c6d8"/><circle cx="10.7" cy="25.6" r="0.89" fill="#d5c8da"/><circle cx="50.7" cy="51.4" r="0.93" fill="#d5c8da"/><circle cx="48.9" cy="22.6" r="0.96" fill="#ccbfd3"/><circle cx="27.3" cy="28.5" r="0.62" fill="#d5c8da"/><circle cx="14.8" cy="24.3" r="0.93" fill="#d5c8da"/><circle cx="38.8" cy="48.8" r="0.71" fill="#d2c6d8"/><circle cx="6.8" cy="27.9" r="0.72" fill="#e4dbe6"/></g><g filter="url(#bl)"><circle cx="49.3" cy="0.1" r="0.70" fill="#b09aa2"/><circle cx="41.2" cy="18.6" r="0.69" fill="#b09aa2"/><circle cx="18.8" cy="29.0" r="0.55" fill="#b09aa2"/><circle cx="12.4" cy="14.5" r="0.67" fill="#b09aa2"/><circle cx="43.4" cy="31.7" r="0.64" fill="#b09aa2"/><circle cx="23.4" cy="13.7" r="0.60" fill="#b09aa2"/><circle cx="25.9" cy="38.0" r="0.50" fill="#b09aa2"/><circle cx="1.5" cy="2.0" r="0.70" fill="#b09aa2"/><circle cx="8.6" cy="40.0" r="0.57" fill="#b09aa2"/><circle cx="49.5" cy="39.0" r="0.65" fill="#b09aa2"/></g></svg><svg x="352.3" y="268" width="52.5" height="52.3" overflow="hidden"><rect width="52.5" height="52.3" fill="#ede6ed"/><g filter="url(#bl2)"><circle cx="12.4" cy="5.4" r="0.64" fill="#f6f2f6"/><circle cx="4.7" cy="1.0" r="0.73" fill="#d4c6d8"/><circle cx="42.0" cy="40.0" r="0.53" fill="#d8c8d4"/><circle cx="18.9" cy="40.8" r="0.90" fill="#d4c6d8"/><circle cx="11.3" cy="48.5" r="0.90" fill="#d4c6d8"/><circle cx="42.0" cy="10.1" r="0.59" fill="#e2d6e6"/><circle cx="45.5" cy="50.3" r="0.91" fill="#d4c6d8"/><circle cx="4.6" cy="31.7" r="0.80" fill="#d8c8d4"/><circle cx="13.1" cy="12.9" r="0.57" fill="#d8c8d4"/><circle cx="44.1" cy="0.4" r="0.58" fill="#e2d6e6"/><circle cx="46.3" cy="44.4" r="0.71" fill="#f8f5f8"/><circle cx="22.2" cy="15.1" r="0.67" fill="#f6f2f6"/><circle cx="16.0" cy="42.5" r="0.43" fill="#dccfe0"/><circle cx="24.3" cy="52.2" r="0.71" fill="#e2d6e6"/><circle cx="24.7" cy="17.9" r="1.00" fill="#f6f2f6"/><circle cx="3.5" cy="47.8" r="0.78" fill="#f8f5f8"/><circle cx="14.5" cy="18.6" r="0.85" fill="#d4c6d8"/><circle cx="33.3" cy="10.4" r="0.59" fill="#dccfe0"/><circle cx="37.2" cy="14.5" r="0.75" fill="#f6f2f6"/><circle cx="6.4" cy="48.9" r="0.57" fill="#dccfe0"/><circle cx="2.2" cy="36.5" r="0.94" fill="#d4c6d8"/><circle cx="38.6" cy="50.2" r="0.41" fill="#d4c6d8"/><circle cx="16.9" cy="8.0" r="0.79" fill="#d8c8d4"/><circle cx="35.7" cy="4.1" r="0.77" fill="#f8f5f8"/><circle cx="15.3" cy="13.1" r="0.76" fill="#f6f2f6"/><circle cx="17.4" cy="0.5" r="0.43" fill="#f6f2f6"/><circle cx="19.2" cy="42.1" r="1.00" fill="#d8c8d4"/><circle cx="5.1" cy="51.3" r="0.65" fill="#f6f2f6"/><circle cx="6.0" cy="3.3" r="0.84" fill="#d8c8d4"/><circle cx="35.5" cy="7.8" r="0.42" fill="#f8f5f8"/><circle cx="30.6" cy="16.8" r="0.42" fill="#d8c8d4"/><circle cx="15.4" cy="52.1" r="0.79" fill="#f6f2f6"/><circle cx="25.1" cy="12.6" r="0.65" fill="#dccfe0"/><circle cx="11.5" cy="23.2" r="0.79" fill="#f8f5f8"/><circle cx="43.6" cy="26.1" r="0.42" fill="#d4c6d8"/><circle cx="13.3" cy="27.5" r="0.86" fill="#f8f5f8"/><circle cx="45.7" cy="7.4" r="0.43" fill="#d4c6d8"/><circle cx="29.7" cy="51.8" r="0.64" fill="#e2d6e6"/><circle cx="34.3" cy="41.4" r="0.85" fill="#f8f5f8"/><circle cx="20.3" cy="22.5" r="0.96" fill="#d8c8d4"/><circle cx="47.2" cy="48.4" r="0.60" fill="#e2d6e6"/><circle cx="24.7" cy="47.1" r="0.59" fill="#f8f5f8"/><circle cx="27.7" cy="34.2" r="0.81" fill="#d4c6d8"/><circle cx="17.8" cy="20.5" r="0.70" fill="#d4c6d8"/><circle cx="50.5" cy="35.0" r="0.43" fill="#d8c8d4"/><circle cx="6.7" cy="50.7" r="0.80" fill="#dccfe0"/><circle cx="45.7" cy="36.0" r="0.68" fill="#f8f5f8"/><circle cx="39.2" cy="48.5" r="0.53" fill="#dccfe0"/><circle cx="11.1" cy="8.2" r="0.77" fill="#d4c6d8"/><circle cx="6.1" cy="42.4" r="0.87" fill="#f6f2f6"/><circle cx="28.9" cy="46.0" r="0.52" fill="#e2d6e6"/><circle cx="31.9" cy="42.8" r="0.74" fill="#f8f5f8"/><circle cx="48.0" cy="23.0" r="0.45" fill="#e2d6e6"/><circle cx="31.2" cy="25.6" r="0.92" fill="#d8c8d4"/><circle cx="40.6" cy="2.2" r="0.45" fill="#d8c8d4"/><circle cx="47.5" cy="15.5" r="0.61" fill="#dccfe0"/><circle cx="4.5" cy="28.4" r="0.63" fill="#d4c6d8"/><circle cx="20.4" cy="39.7" r="0.91" fill="#f8f5f8"/><circle cx="5.0" cy="6.0" r="0.77" fill="#d4c6d8"/><circle cx="26.9" cy="22.7" r="0.91" fill="#f8f5f8"/><circle cx="3.5" cy="46.1" r="0.52" fill="#d4c6d8"/><circle cx="48.8" cy="25.0" r="0.47" fill="#d8c8d4"/><circle cx="8.8" cy="45.7" r="0.51" fill="#f6f2f6"/><circle cx="17.1" cy="45.0" r="0.56" fill="#dccfe0"/><circle cx="37.3" cy="0.3" r="0.59" fill="#d8c8d4"/><circle cx="5.8" cy="41.1" r="0.76" fill="#d8c8d4"/><circle cx="4.0" cy="12.8" r="0.91" fill="#d4c6d8"/><circle cx="12.0" cy="9.4" r="0.92" fill="#dccfe0"/><circle cx="35.5" cy="31.9" r="0.59" fill="#f8f5f8"/><circle cx="41.1" cy="29.7" r="0.96" fill="#d8c8d4"/><circle cx="41.3" cy="32.1" r="0.67" fill="#f6f2f6"/><circle cx="13.2" cy="31.2" r="0.99" fill="#d4c6d8"/><circle cx="7.0" cy="4.3" r="0.49" fill="#d8c8d4"/><circle cx="9.3" cy="47.2" r="0.62" fill="#d8c8d4"/><circle cx="41.7" cy="35.3" r="0.93" fill="#dccfe0"/><circle cx="21.1" cy="49.0" r="0.51" fill="#e2d6e6"/><circle cx="19.5" cy="9.1" r="0.93" fill="#d8c8d4"/><circle cx="1.1" cy="49.7" r="0.90" fill="#d4c6d8"/><circle cx="42.4" cy="49.9" r="0.50" fill="#d8c8d4"/><circle cx="51.8" cy="34.6" r="1.00" fill="#dccfe0"/><circle cx="39.9" cy="50.7" r="0.47" fill="#e2d6e6"/><circle cx="25.2" cy="46.4" r="0.53" fill="#e2d6e6"/><circle cx="15.9" cy="48.5" r="0.64" fill="#d8c8d4"/><circle cx="12.5" cy="25.6" r="0.53" fill="#d4c6d8"/><circle cx="12.1" cy="17.1" r="0.78" fill="#f8f5f8"/><circle cx="47.2" cy="20.9" r="0.64" fill="#d4c6d8"/><circle cx="14.9" cy="21.5" r="0.41" fill="#f6f2f6"/><circle cx="47.1" cy="24.0" r="0.74" fill="#d4c6d8"/><circle cx="21.2" cy="20.3" r="0.42" fill="#d8c8d4"/><circle cx="3.6" cy="50.9" r="0.99" fill="#d4c6d8"/><circle cx="31.7" cy="16.3" r="0.45" fill="#d4c6d8"/><circle cx="25.4" cy="33.5" r="0.69" fill="#d8c8d4"/><circle cx="40.8" cy="7.8" r="0.54" fill="#d4c6d8"/><circle cx="7.0" cy="2.5" r="0.64" fill="#d8c8d4"/><circle cx="35.7" cy="28.6" r="0.98" fill="#d4c6d8"/><circle cx="1.0" cy="12.8" r="0.85" fill="#f6f2f6"/><circle cx="1.7" cy="16.6" r="0.47" fill="#dccfe0"/><circle cx="46.1" cy="33.6" r="0.77" fill="#e2d6e6"/><circle cx="36.9" cy="38.2" r="0.79" fill="#f6f2f6"/><circle cx="46.1" cy="37.6" r="0.74" fill="#e2d6e6"/><circle cx="0.1" cy="46.1" r="0.49" fill="#f8f5f8"/><circle cx="8.1" cy="44.2" r="0.69" fill="#dccfe0"/><circle cx="19.7" cy="8.5" r="0.93" fill="#d8c8d4"/><circle cx="20.5" cy="35.7" r="0.92" fill="#d4c6d8"/><circle cx="8.9" cy="3.2" r="0.99" fill="#d4c6d8"/><circle cx="46.0" cy="1.0" r="0.98" fill="#f6f2f6"/><circle cx="4.5" cy="6.1" r="0.77" fill="#dccfe0"/><circle cx="12.2" cy="28.9" r="0.69" fill="#e2d6e6"/><circle cx="27.9" cy="46.3" r="0.67" fill="#e2d6e6"/><circle cx="37.1" cy="48.2" r="0.96" fill="#f8f5f8"/><circle cx="17.7" cy="9.0" r="0.72" fill="#f6f2f6"/><circle cx="5.6" cy="32.4" r="0.95" fill="#d4c6d8"/><circle cx="48.8" cy="43.5" r="0.65" fill="#e2d6e6"/><circle cx="2.0" cy="33.1" r="0.55" fill="#e2d6e6"/><circle cx="31.0" cy="41.0" r="0.69" fill="#d4c6d8"/><circle cx="42.4" cy="4.4" r="0.54" fill="#d4c6d8"/><circle cx="46.4" cy="34.4" r="0.82" fill="#d8c8d4"/><circle cx="16.9" cy="24.9" r="0.97" fill="#dccfe0"/><circle cx="9.3" cy="2.3" r="0.71" fill="#d8c8d4"/><circle cx="37.3" cy="2.0" r="0.81" fill="#d4c6d8"/><circle cx="41.0" cy="47.5" r="0.82" fill="#dccfe0"/><circle cx="26.6" cy="46.5" r="0.89" fill="#dccfe0"/><circle cx="3.8" cy="11.8" r="0.56" fill="#dccfe0"/><circle cx="46.8" cy="50.9" r="0.41" fill="#e2d6e6"/><circle cx="7.6" cy="18.8" r="0.93" fill="#e2d6e6"/><circle cx="18.1" cy="51.4" r="0.91" fill="#e2d6e6"/><circle cx="31.8" cy="1.8" r="0.65" fill="#dccfe0"/><circle cx="39.6" cy="45.1" r="0.58" fill="#e2d6e6"/><circle cx="14.9" cy="10.9" r="0.82" fill="#d4c6d8"/><circle cx="9.2" cy="0.9" r="0.93" fill="#d4c6d8"/><circle cx="17.4" cy="47.5" r="0.97" fill="#f8f5f8"/><circle cx="16.9" cy="32.4" r="0.55" fill="#d8c8d4"/><circle cx="4.5" cy="21.1" r="0.77" fill="#e2d6e6"/><circle cx="48.0" cy="6.9" r="0.85" fill="#dccfe0"/><circle cx="49.1" cy="40.9" r="0.77" fill="#e2d6e6"/><circle cx="11.1" cy="48.8" r="0.80" fill="#e2d6e6"/><circle cx="26.2" cy="6.0" r="0.60" fill="#f8f5f8"/><circle cx="29.9" cy="10.7" r="0.46" fill="#d8c8d4"/><circle cx="44.3" cy="6.0" r="0.98" fill="#d4c6d8"/><circle cx="45.6" cy="30.4" r="0.49" fill="#e2d6e6"/><circle cx="4.0" cy="44.3" r="0.51" fill="#e2d6e6"/><circle cx="39.2" cy="39.5" r="0.88" fill="#e2d6e6"/><circle cx="10.8" cy="1.8" r="0.59" fill="#d4c6d8"/><circle cx="38.6" cy="40.3" r="0.91" fill="#f6f2f6"/><circle cx="9.0" cy="11.2" r="0.97" fill="#f6f2f6"/><circle cx="35.9" cy="51.2" r="0.43" fill="#d4c6d8"/><circle cx="37.0" cy="34.9" r="0.91" fill="#dccfe0"/><circle cx="44.5" cy="41.7" r="0.64" fill="#d8c8d4"/><circle cx="28.7" cy="28.3" r="0.62" fill="#e2d6e6"/><circle cx="21.3" cy="1.9" r="0.95" fill="#f6f2f6"/><circle cx="8.0" cy="11.5" r="0.54" fill="#d8c8d4"/><circle cx="45.4" cy="49.1" r="0.81" fill="#f8f5f8"/><circle cx="19.1" cy="37.0" r="0.97" fill="#f6f2f6"/><circle cx="52.3" cy="9.7" r="0.72" fill="#dccfe0"/><circle cx="1.4" cy="10.0" r="0.90" fill="#e2d6e6"/><circle cx="16.9" cy="28.3" r="0.96" fill="#d4c6d8"/><circle cx="42.0" cy="42.0" r="0.50" fill="#f8f5f8"/><circle cx="32.4" cy="18.3" r="0.40" fill="#e2d6e6"/><circle cx="7.2" cy="1.6" r="0.87" fill="#e2d6e6"/><circle cx="37.6" cy="11.1" r="0.60" fill="#d8c8d4"/><circle cx="29.3" cy="46.8" r="0.69" fill="#e2d6e6"/><circle cx="27.7" cy="9.5" r="0.77" fill="#d8c8d4"/><circle cx="17.5" cy="1.0" r="0.80" fill="#f8f5f8"/><circle cx="22.9" cy="41.9" r="0.48" fill="#dccfe0"/><circle cx="7.0" cy="31.6" r="0.54" fill="#e2d6e6"/><circle cx="16.5" cy="33.2" r="0.50" fill="#d4c6d8"/><circle cx="48.7" cy="43.8" r="0.80" fill="#d8c8d4"/><circle cx="49.2" cy="13.5" r="0.60" fill="#d8c8d4"/><circle cx="1.7" cy="8.0" r="0.74" fill="#f6f2f6"/><circle cx="26.0" cy="43.3" r="0.44" fill="#e2d6e6"/><circle cx="31.3" cy="51.7" r="0.49" fill="#e2d6e6"/><circle cx="7.3" cy="43.8" r="0.72" fill="#d4c6d8"/><circle cx="45.9" cy="4.2" r="0.97" fill="#d8c8d4"/><circle cx="7.8" cy="9.2" r="0.77" fill="#d4c6d8"/><circle cx="25.0" cy="45.3" r="0.53" fill="#f8f5f8"/><circle cx="39.9" cy="27.7" r="0.85" fill="#dccfe0"/><circle cx="46.6" cy="15.1" r="0.65" fill="#dccfe0"/><circle cx="18.2" cy="31.6" r="0.95" fill="#d4c6d8"/><circle cx="3.8" cy="22.7" r="0.45" fill="#f8f5f8"/><circle cx="41.4" cy="1.7" r="0.52" fill="#e2d6e6"/><circle cx="50.2" cy="42.8" r="0.52" fill="#e2d6e6"/><circle cx="48.4" cy="52.2" r="0.41" fill="#dccfe0"/><circle cx="50.2" cy="27.2" r="0.72" fill="#dccfe0"/><circle cx="4.9" cy="33.5" r="0.80" fill="#e2d6e6"/><circle cx="10.5" cy="36.2" r="0.44" fill="#dccfe0"/><circle cx="3.4" cy="22.8" r="0.48" fill="#dccfe0"/><circle cx="50.7" cy="27.0" r="0.71" fill="#e2d6e6"/><circle cx="14.5" cy="30.7" r="0.47" fill="#e2d6e6"/><circle cx="32.7" cy="31.5" r="0.40" fill="#dccfe0"/><circle cx="40.3" cy="28.5" r="0.65" fill="#d4c6d8"/><circle cx="31.1" cy="50.4" r="0.49" fill="#d4c6d8"/><circle cx="28.2" cy="12.9" r="0.77" fill="#f6f2f6"/><circle cx="51.5" cy="52.2" r="0.75" fill="#dccfe0"/><circle cx="30.5" cy="29.8" r="0.52" fill="#d8c8d4"/><circle cx="35.9" cy="37.9" r="0.97" fill="#f8f5f8"/><circle cx="49.5" cy="8.5" r="0.50" fill="#d4c6d8"/><circle cx="44.6" cy="36.9" r="0.72" fill="#d8c8d4"/><circle cx="15.3" cy="19.3" r="0.80" fill="#d4c6d8"/><circle cx="5.1" cy="12.2" r="0.94" fill="#e2d6e6"/><circle cx="43.8" cy="9.2" r="0.46" fill="#d4c6d8"/><circle cx="1.7" cy="0.3" r="0.92" fill="#dccfe0"/><circle cx="46.0" cy="35.8" r="0.51" fill="#f6f2f6"/><circle cx="19.6" cy="33.7" r="0.63" fill="#e2d6e6"/><circle cx="23.2" cy="38.3" r="0.57" fill="#dccfe0"/><circle cx="18.0" cy="2.3" r="0.51" fill="#f8f5f8"/><circle cx="0.2" cy="52.0" r="0.66" fill="#e2d6e6"/><circle cx="2.3" cy="11.6" r="0.62" fill="#d8c8d4"/><circle cx="18.3" cy="35.7" r="0.40" fill="#d4c6d8"/><circle cx="5.1" cy="19.8" r="0.53" fill="#d4c6d8"/><circle cx="49.2" cy="22.6" r="0.84" fill="#f8f5f8"/><circle cx="8.3" cy="23.5" r="0.71" fill="#dccfe0"/><circle cx="4.8" cy="5.3" r="0.48" fill="#f8f5f8"/><circle cx="38.7" cy="39.6" r="0.93" fill="#d4c6d8"/><circle cx="21.1" cy="16.2" r="0.87" fill="#e2d6e6"/><circle cx="5.4" cy="48.2" r="0.93" fill="#d8c8d4"/><circle cx="43.6" cy="37.2" r="0.66" fill="#e2d6e6"/><circle cx="19.3" cy="11.9" r="0.91" fill="#f6f2f6"/><circle cx="48.5" cy="14.9" r="0.60" fill="#dccfe0"/><circle cx="27.3" cy="40.6" r="0.89" fill="#e2d6e6"/><circle cx="12.5" cy="9.7" r="0.69" fill="#d8c8d4"/><circle cx="18.6" cy="22.1" r="0.65" fill="#e2d6e6"/><circle cx="6.5" cy="45.3" r="0.41" fill="#e2d6e6"/><circle cx="22.6" cy="18.7" r="0.93" fill="#e2d6e6"/><circle cx="14.7" cy="7.4" r="0.62" fill="#d4c6d8"/><circle cx="28.4" cy="49.6" r="0.95" fill="#f8f5f8"/><circle cx="40.6" cy="41.4" r="0.98" fill="#f8f5f8"/><circle cx="38.9" cy="18.2" r="0.70" fill="#dccfe0"/><circle cx="39.0" cy="35.0" r="0.55" fill="#d8c8d4"/><circle cx="36.4" cy="46.2" r="0.72" fill="#dccfe0"/><circle cx="24.1" cy="35.9" r="0.74" fill="#f6f2f6"/><circle cx="2.4" cy="42.8" r="0.86" fill="#f6f2f6"/><circle cx="16.6" cy="17.2" r="0.67" fill="#f6f2f6"/><circle cx="14.4" cy="3.0" r="0.44" fill="#f8f5f8"/><circle cx="5.8" cy="38.5" r="0.55" fill="#f8f5f8"/><circle cx="41.9" cy="3.3" r="0.77" fill="#f6f2f6"/><circle cx="10.3" cy="44.6" r="0.71" fill="#f6f2f6"/><circle cx="11.5" cy="0.7" r="0.69" fill="#d4c6d8"/><circle cx="13.9" cy="21.2" r="0.48" fill="#d4c6d8"/><circle cx="34.7" cy="36.6" r="0.77" fill="#d4c6d8"/><circle cx="5.0" cy="45.1" r="0.60" fill="#e2d6e6"/></g><g filter="url(#bl)"><ellipse cx="3.0" cy="40.8" rx="0.66" ry="0.70" transform="rotate(88 3.0 40.8)" fill="#a88890"/><ellipse cx="20.3" cy="3.7" rx="1.37" ry="0.67" transform="rotate(152 20.3 3.7)" fill="#a88890"/><ellipse cx="38.1" cy="43.1" rx="1.23" ry="0.60" transform="rotate(165 38.1 43.1)" fill="#94727e"/><ellipse cx="5.6" cy="7.5" rx="0.75" ry="0.61" transform="rotate(85 5.6 7.5)" fill="#b08a88"/><ellipse cx="23.2" cy="49.5" rx="0.99" ry="0.75" transform="rotate(49 23.2 49.5)" fill="#b4969e"/><ellipse cx="0.4" cy="20.8" rx="1.11" ry="0.76" transform="rotate(141 0.4 20.8)" fill="#b4969e"/><ellipse cx="37.0" cy="6.2" rx="1.06" ry="0.52" transform="rotate(125 37.0 6.2)" fill="#9c7c88"/><ellipse cx="20.5" cy="28.4" rx="1.19" ry="0.66" transform="rotate(101 20.5 28.4)" fill="#9c7c88"/><ellipse cx="3.8" cy="38.9" rx="1.33" ry="0.46" transform="rotate(83 3.8 38.9)" fill="#b08a88"/><ellipse cx="4.9" cy="27.7" rx="0.85" ry="0.74" transform="rotate(21 4.9 27.7)" fill="#9c7c88"/><ellipse cx="13.4" cy="20.9" rx="1.08" ry="0.55" transform="rotate(72 13.4 20.9)" fill="#a88890"/><ellipse cx="31.4" cy="8.5" rx="1.04" ry="0.76" transform="rotate(171 31.4 8.5)" fill="#b4969e"/><ellipse cx="39.3" cy="44.4" rx="1.04" ry="0.54" transform="rotate(60 39.3 44.4)" fill="#9c7c88"/><ellipse cx="1.7" cy="11.0" rx="1.26" ry="0.61" transform="rotate(58 1.7 11.0)" fill="#b08a88"/><ellipse cx="32.0" cy="42.6" rx="1.12" ry="0.60" transform="rotate(66 32.0 42.6)" fill="#94727e"/><ellipse cx="52.0" cy="51.7" rx="1.28" ry="0.48" transform="rotate(87 52.0 51.7)" fill="#94727e"/><ellipse cx="13.7" cy="5.9" rx="1.19" ry="0.71" transform="rotate(91 13.7 5.9)" fill="#b08a88"/><ellipse cx="25.7" cy="50.5" rx="0.68" ry="0.58" transform="rotate(18 25.7 50.5)" fill="#b08a88"/><ellipse cx="15.9" cy="0.5" rx="0.94" ry="0.76" transform="rotate(87 15.9 0.5)" fill="#94727e"/><ellipse cx="1.7" cy="11.5" rx="0.82" ry="0.64" transform="rotate(84 1.7 11.5)" fill="#9c7c88"/><ellipse cx="35.2" cy="15.8" rx="0.84" ry="0.60" transform="rotate(133 35.2 15.8)" fill="#a88890"/><ellipse cx="30.1" cy="40.7" rx="1.10" ry="0.71" transform="rotate(96 30.1 40.7)" fill="#a88890"/><ellipse cx="17.5" cy="39.7" rx="1.49" ry="0.47" transform="rotate(9 17.5 39.7)" fill="#b4969e"/><ellipse cx="38.3" cy="21.9" rx="0.94" ry="0.57" transform="rotate(72 38.3 21.9)" fill="#b4969e"/><ellipse cx="1.4" cy="38.6" rx="0.72" ry="0.59" transform="rotate(138 1.4 38.6)" fill="#b4969e"/><ellipse cx="37.7" cy="48.5" rx="1.00" ry="0.58" transform="rotate(18 37.7 48.5)" fill="#b08a88"/><ellipse cx="40.2" cy="7.7" rx="1.16" ry="0.63" transform="rotate(11 40.2 7.7)" fill="#9c7c88"/><ellipse cx="35.3" cy="43.3" rx="0.63" ry="0.69" transform="rotate(112 35.3 43.3)" fill="#b4969e"/><ellipse cx="10.6" cy="40.1" rx="0.99" ry="0.54" transform="rotate(177 10.6 40.1)" fill="#9c7c88"/><ellipse cx="48.5" cy="1.5" rx="0.72" ry="0.59" transform="rotate(100 48.5 1.5)" fill="#b4969e"/><ellipse cx="48.4" cy="42.9" rx="1.39" ry="0.67" transform="rotate(97 48.4 42.9)" fill="#b4969e"/><ellipse cx="46.9" cy="47.3" rx="1.00" ry="0.76" transform="rotate(46 46.9 47.3)" fill="#b4969e"/><ellipse cx="13.7" cy="17.9" rx="1.11" ry="0.51" transform="rotate(101 13.7 17.9)" fill="#b4969e"/><ellipse cx="12.5" cy="5.4" rx="1.05" ry="0.66" transform="rotate(162 12.5 5.4)" fill="#94727e"/><ellipse cx="6.5" cy="20.4" rx="1.30" ry="0.63" transform="rotate(104 6.5 20.4)" fill="#94727e"/><ellipse cx="49.4" cy="35.2" rx="1.03" ry="0.51" transform="rotate(158 49.4 35.2)" fill="#b4969e"/><ellipse cx="35.6" cy="3.7" rx="1.22" ry="0.66" transform="rotate(126 35.6 3.7)" fill="#b08a88"/><ellipse cx="15.5" cy="34.8" rx="1.22" ry="0.77" transform="rotate(47 15.5 34.8)" fill="#94727e"/><ellipse cx="24.6" cy="27.4" rx="0.66" ry="0.72" transform="rotate(67 24.6 27.4)" fill="#94727e"/><ellipse cx="44.5" cy="18.2" rx="0.80" ry="0.66" transform="rotate(14 44.5 18.2)" fill="#b08a88"/><ellipse cx="13.6" cy="47.1" rx="1.37" ry="0.55" transform="rotate(91 13.6 47.1)" fill="#94727e"/><ellipse cx="30.8" cy="21.0" rx="1.37" ry="0.76" transform="rotate(135 30.8 21.0)" fill="#b4969e"/><ellipse cx="46.6" cy="13.4" rx="1.45" ry="0.52" transform="rotate(116 46.6 13.4)" fill="#a88890"/><ellipse cx="31.1" cy="3.3" rx="1.47" ry="0.46" transform="rotate(72 31.1 3.3)" fill="#b4969e"/><ellipse cx="19.2" cy="49.3" rx="0.67" ry="0.63" transform="rotate(67 19.2 49.3)" fill="#94727e"/><ellipse cx="37.8" cy="39.1" rx="0.68" ry="0.63" transform="rotate(100 37.8 39.1)" fill="#a88890"/><ellipse cx="24.5" cy="23.0" rx="1.15" ry="0.62" transform="rotate(134 24.5 23.0)" fill="#9c7c88"/><ellipse cx="16.7" cy="45.3" rx="1.31" ry="0.74" transform="rotate(84 16.7 45.3)" fill="#b4969e"/><ellipse cx="41.8" cy="37.1" rx="1.35" ry="0.51" transform="rotate(41 41.8 37.1)" fill="#9c7c88"/><ellipse cx="52.3" cy="23.0" rx="1.17" ry="0.50" transform="rotate(56 52.3 23.0)" fill="#a88890"/><ellipse cx="48.5" cy="41.7" rx="1.14" ry="0.57" transform="rotate(119 48.5 41.7)" fill="#b08a88"/><ellipse cx="47.3" cy="36.2" rx="1.43" ry="0.74" transform="rotate(7 47.3 36.2)" fill="#a88890"/><ellipse cx="26.8" cy="15.6" rx="0.99" ry="0.70" transform="rotate(113 26.8 15.6)" fill="#9c7c88"/><ellipse cx="32.0" cy="27.8" rx="1.22" ry="0.56" transform="rotate(25 32.0 27.8)" fill="#a88890"/><ellipse cx="7.2" cy="51.8" rx="0.66" ry="0.65" transform="rotate(9 7.2 51.8)" fill="#9c7c88"/><ellipse cx="45.8" cy="16.5" rx="0.85" ry="0.62" transform="rotate(90 45.8 16.5)" fill="#a88890"/><ellipse cx="51.6" cy="31.1" rx="1.46" ry="0.68" transform="rotate(94 51.6 31.1)" fill="#a88890"/><ellipse cx="28.0" cy="23.2" rx="0.83" ry="0.45" transform="rotate(65 28.0 23.2)" fill="#b08a88"/><ellipse cx="37.0" cy="33.9" rx="0.65" ry="0.64" transform="rotate(80 37.0 33.9)" fill="#b08a88"/><ellipse cx="35.2" cy="25.3" rx="1.02" ry="0.62" transform="rotate(58 35.2 25.3)" fill="#94727e"/></g></svg><svg x="404.8" y="268" width="52.5" height="52.3" overflow="hidden"><rect width="52.5" height="52.3" fill="#eee2e2"/><g filter="url(#bl2)"><circle cx="32.7" cy="38.8" r="0.88" fill="#dccaca"/><circle cx="1.5" cy="24.4" r="0.97" fill="#e6d8da"/><circle cx="47.3" cy="5.9" r="0.68" fill="#f7f1f1"/><circle cx="20.0" cy="5.3" r="0.55" fill="#f7f1f1"/><circle cx="21.4" cy="9.5" r="0.92" fill="#f8f3f2"/><circle cx="8.4" cy="41.7" r="0.48" fill="#dccaca"/><circle cx="23.4" cy="6.9" r="0.98" fill="#e6d8da"/><circle cx="11.0" cy="11.3" r="0.99" fill="#f7f1f1"/><circle cx="15.2" cy="50.3" r="0.72" fill="#f7f1f1"/><circle cx="9.5" cy="50.7" r="0.52" fill="#f8f3f2"/><circle cx="15.7" cy="18.9" r="0.50" fill="#f7f1f1"/><circle cx="13.9" cy="17.4" r="0.89" fill="#dccaca"/><circle cx="0.2" cy="35.5" r="0.60" fill="#e0d0d2"/><circle cx="18.7" cy="16.0" r="0.82" fill="#f7f1f1"/><circle cx="25.3" cy="36.9" r="0.43" fill="#e6d8da"/><circle cx="49.8" cy="18.7" r="0.64" fill="#dccaca"/><circle cx="41.4" cy="19.2" r="0.75" fill="#e6d8da"/><circle cx="23.8" cy="37.0" r="0.77" fill="#f7f1f1"/><circle cx="6.2" cy="12.9" r="0.89" fill="#f8f3f2"/><circle cx="18.1" cy="18.6" r="0.71" fill="#f8f3f2"/><circle cx="5.7" cy="39.1" r="0.88" fill="#e0d0d2"/><circle cx="1.9" cy="49.5" r="0.45" fill="#e0d0d2"/><circle cx="26.9" cy="19.0" r="0.49" fill="#e0d0d2"/><circle cx="48.5" cy="28.5" r="0.59" fill="#e0d0d2"/><circle cx="16.1" cy="41.8" r="0.78" fill="#e0d0d2"/><circle cx="52.3" cy="8.4" r="0.43" fill="#dccaca"/><circle cx="28.0" cy="21.2" r="0.54" fill="#dccaca"/><circle cx="18.1" cy="13.1" r="0.79" fill="#f7f1f1"/><circle cx="2.9" cy="47.9" r="0.42" fill="#f8f3f2"/><circle cx="17.5" cy="10.8" r="0.99" fill="#dccaca"/><circle cx="49.9" cy="33.0" r="0.87" fill="#e6d8da"/><circle cx="8.9" cy="19.5" r="0.44" fill="#f8f3f2"/><circle cx="15.5" cy="23.7" r="1.00" fill="#f7f1f1"/><circle cx="51.2" cy="23.7" r="0.69" fill="#e0d0d2"/><circle cx="25.1" cy="15.2" r="0.64" fill="#f7f1f1"/><circle cx="5.9" cy="43.0" r="0.72" fill="#f7f1f1"/><circle cx="32.9" cy="26.1" r="0.60" fill="#e6d8da"/><circle cx="25.8" cy="26.9" r="0.73" fill="#dccaca"/><circle cx="19.0" cy="41.1" r="0.86" fill="#dccaca"/><circle cx="34.9" cy="39.7" r="0.62" fill="#e0d0d2"/><circle cx="43.8" cy="13.9" r="0.99" fill="#e0d0d2"/><circle cx="50.2" cy="17.8" r="0.51" fill="#e6d8da"/><circle cx="24.9" cy="40.5" r="0.60" fill="#e0d0d2"/><circle cx="24.3" cy="42.7" r="0.79" fill="#e0d0d2"/><circle cx="18.3" cy="33.7" r="0.84" fill="#f8f3f2"/><circle cx="18.4" cy="44.1" r="0.92" fill="#f8f3f2"/><circle cx="51.2" cy="50.0" r="0.71" fill="#dccaca"/><circle cx="51.5" cy="10.4" r="0.62" fill="#f8f3f2"/><circle cx="14.9" cy="4.1" r="0.80" fill="#f8f3f2"/><circle cx="9.0" cy="40.8" r="0.75" fill="#f8f3f2"/><circle cx="15.9" cy="28.9" r="0.92" fill="#e0d0d2"/><circle cx="37.8" cy="1.4" r="0.50" fill="#f8f3f2"/><circle cx="32.8" cy="9.5" r="0.86" fill="#f7f1f1"/><circle cx="33.1" cy="2.2" r="0.68" fill="#f7f1f1"/><circle cx="8.7" cy="46.6" r="0.47" fill="#f7f1f1"/><circle cx="25.3" cy="28.7" r="0.65" fill="#e0d0d2"/><circle cx="20.0" cy="32.0" r="0.75" fill="#f7f1f1"/><circle cx="37.7" cy="19.6" r="0.61" fill="#e0d0d2"/><circle cx="44.9" cy="45.3" r="0.81" fill="#dccaca"/><circle cx="19.6" cy="1.9" r="0.77" fill="#e6d8da"/><circle cx="15.5" cy="26.8" r="0.97" fill="#e0d0d2"/><circle cx="50.3" cy="42.8" r="0.65" fill="#dccaca"/><circle cx="33.7" cy="19.3" r="0.49" fill="#dccaca"/><circle cx="20.1" cy="24.9" r="0.52" fill="#f7f1f1"/><circle cx="32.0" cy="18.4" r="0.94" fill="#e6d8da"/><circle cx="20.0" cy="17.1" r="0.95" fill="#dccaca"/><circle cx="7.4" cy="32.9" r="0.93" fill="#f8f3f2"/><circle cx="22.5" cy="51.1" r="0.70" fill="#f8f3f2"/><circle cx="51.1" cy="19.9" r="0.98" fill="#f7f1f1"/><circle cx="31.3" cy="13.6" r="0.99" fill="#f8f3f2"/><circle cx="13.2" cy="1.0" r="0.97" fill="#e0d0d2"/><circle cx="25.8" cy="15.0" r="0.69" fill="#e6d8da"/><circle cx="34.7" cy="50.3" r="0.55" fill="#e6d8da"/><circle cx="41.0" cy="43.2" r="0.41" fill="#dccaca"/><circle cx="29.4" cy="12.7" r="0.68" fill="#e6d8da"/><circle cx="12.9" cy="14.0" r="0.49" fill="#e0d0d2"/><circle cx="15.4" cy="31.8" r="0.68" fill="#dccaca"/><circle cx="46.2" cy="46.8" r="0.41" fill="#f7f1f1"/><circle cx="15.8" cy="27.9" r="0.60" fill="#e0d0d2"/><circle cx="38.4" cy="1.4" r="0.61" fill="#dccaca"/><circle cx="7.0" cy="0.1" r="0.73" fill="#e6d8da"/><circle cx="46.6" cy="28.5" r="0.41" fill="#f8f3f2"/><circle cx="31.2" cy="36.0" r="0.97" fill="#f8f3f2"/><circle cx="45.1" cy="44.0" r="0.69" fill="#f7f1f1"/><circle cx="47.2" cy="24.3" r="0.85" fill="#e0d0d2"/><circle cx="43.9" cy="36.3" r="0.66" fill="#e0d0d2"/><circle cx="34.0" cy="24.7" r="0.59" fill="#f7f1f1"/><circle cx="25.1" cy="28.7" r="0.70" fill="#e0d0d2"/><circle cx="28.2" cy="22.3" r="0.72" fill="#e6d8da"/><circle cx="3.6" cy="12.0" r="0.89" fill="#e6d8da"/><circle cx="34.8" cy="1.3" r="0.83" fill="#e6d8da"/><circle cx="52.4" cy="36.7" r="0.43" fill="#e6d8da"/><circle cx="11.5" cy="33.8" r="0.97" fill="#f7f1f1"/><circle cx="52.2" cy="36.9" r="0.66" fill="#f7f1f1"/><circle cx="32.1" cy="21.6" r="0.50" fill="#dccaca"/><circle cx="11.2" cy="29.1" r="0.80" fill="#e6d8da"/><circle cx="14.7" cy="29.9" r="0.47" fill="#f8f3f2"/><circle cx="46.1" cy="7.0" r="0.66" fill="#e0d0d2"/><circle cx="36.0" cy="25.6" r="0.61" fill="#e0d0d2"/><circle cx="48.0" cy="7.2" r="0.58" fill="#dccaca"/><circle cx="33.1" cy="26.5" r="0.95" fill="#dccaca"/><circle cx="28.9" cy="11.5" r="0.44" fill="#f7f1f1"/><circle cx="13.3" cy="39.3" r="0.71" fill="#f7f1f1"/><circle cx="42.4" cy="45.2" r="0.67" fill="#f8f3f2"/><circle cx="9.4" cy="37.3" r="0.79" fill="#e6d8da"/><circle cx="30.1" cy="1.9" r="0.92" fill="#dccaca"/><circle cx="31.2" cy="12.5" r="0.93" fill="#f8f3f2"/><circle cx="50.6" cy="5.6" r="0.72" fill="#dccaca"/><circle cx="38.1" cy="2.8" r="0.49" fill="#f8f3f2"/><circle cx="35.8" cy="11.7" r="0.47" fill="#f8f3f2"/><circle cx="43.1" cy="7.3" r="0.77" fill="#e0d0d2"/><circle cx="43.9" cy="15.2" r="0.96" fill="#e0d0d2"/><circle cx="41.8" cy="19.8" r="0.83" fill="#e0d0d2"/><circle cx="34.0" cy="42.1" r="0.66" fill="#e0d0d2"/><circle cx="27.2" cy="31.0" r="0.74" fill="#f7f1f1"/><circle cx="20.8" cy="5.1" r="0.42" fill="#f7f1f1"/><circle cx="10.3" cy="25.6" r="0.96" fill="#e0d0d2"/><circle cx="0.0" cy="24.6" r="0.93" fill="#dccaca"/><circle cx="48.4" cy="16.9" r="0.68" fill="#f7f1f1"/><circle cx="8.1" cy="8.3" r="0.62" fill="#f8f3f2"/><circle cx="45.6" cy="24.6" r="0.73" fill="#e6d8da"/><circle cx="14.6" cy="8.4" r="0.57" fill="#f7f1f1"/><circle cx="1.7" cy="46.9" r="0.61" fill="#e0d0d2"/><circle cx="16.6" cy="3.1" r="0.41" fill="#f8f3f2"/><circle cx="24.8" cy="49.4" r="0.47" fill="#e0d0d2"/><circle cx="15.3" cy="35.3" r="0.84" fill="#f7f1f1"/><circle cx="1.8" cy="37.4" r="0.74" fill="#e6d8da"/><circle cx="32.4" cy="47.7" r="0.82" fill="#e0d0d2"/><circle cx="9.7" cy="18.9" r="0.44" fill="#f8f3f2"/><circle cx="8.6" cy="12.6" r="0.80" fill="#e6d8da"/><circle cx="33.9" cy="22.5" r="0.99" fill="#e6d8da"/><circle cx="24.3" cy="23.7" r="0.81" fill="#f7f1f1"/><circle cx="2.4" cy="28.7" r="0.99" fill="#dccaca"/><circle cx="29.7" cy="49.1" r="0.83" fill="#f7f1f1"/><circle cx="47.2" cy="25.7" r="0.96" fill="#e6d8da"/><circle cx="35.8" cy="33.7" r="0.70" fill="#e6d8da"/><circle cx="2.5" cy="43.6" r="0.67" fill="#e6d8da"/><circle cx="45.9" cy="49.7" r="0.52" fill="#dccaca"/><circle cx="33.6" cy="9.8" r="0.54" fill="#e0d0d2"/><circle cx="41.5" cy="4.5" r="0.99" fill="#f7f1f1"/><circle cx="31.4" cy="44.8" r="0.53" fill="#e6d8da"/><circle cx="23.2" cy="18.7" r="0.65" fill="#f8f3f2"/><circle cx="27.4" cy="6.9" r="0.41" fill="#e0d0d2"/><circle cx="36.2" cy="46.6" r="1.00" fill="#dccaca"/><circle cx="6.1" cy="16.3" r="0.45" fill="#e0d0d2"/><circle cx="43.0" cy="16.4" r="0.48" fill="#e6d8da"/><circle cx="24.8" cy="36.5" r="0.88" fill="#dccaca"/><circle cx="35.0" cy="14.4" r="0.70" fill="#f7f1f1"/><circle cx="2.5" cy="10.5" r="0.57" fill="#e0d0d2"/><circle cx="46.5" cy="3.8" r="0.86" fill="#f8f3f2"/><circle cx="39.5" cy="29.1" r="0.94" fill="#f7f1f1"/><circle cx="30.2" cy="23.1" r="0.89" fill="#e6d8da"/><circle cx="38.2" cy="36.7" r="0.56" fill="#f8f3f2"/><circle cx="29.5" cy="16.8" r="0.58" fill="#f7f1f1"/><circle cx="13.8" cy="35.3" r="0.57" fill="#e6d8da"/><circle cx="28.5" cy="38.6" r="0.42" fill="#e6d8da"/><circle cx="2.7" cy="6.8" r="0.61" fill="#e0d0d2"/><circle cx="49.8" cy="32.0" r="0.54" fill="#f8f3f2"/><circle cx="6.6" cy="10.5" r="0.61" fill="#f7f1f1"/><circle cx="30.7" cy="43.2" r="0.84" fill="#e6d8da"/><circle cx="14.1" cy="31.7" r="0.78" fill="#f7f1f1"/><circle cx="23.4" cy="49.1" r="0.88" fill="#e6d8da"/><circle cx="17.5" cy="23.3" r="0.54" fill="#dccaca"/><circle cx="22.8" cy="23.1" r="0.86" fill="#f7f1f1"/><circle cx="28.0" cy="50.7" r="0.76" fill="#e6d8da"/><circle cx="6.7" cy="44.5" r="0.81" fill="#f7f1f1"/><circle cx="51.3" cy="1.7" r="0.75" fill="#f8f3f2"/><circle cx="37.0" cy="18.5" r="0.68" fill="#f7f1f1"/><circle cx="14.5" cy="10.5" r="0.74" fill="#e0d0d2"/><circle cx="40.1" cy="41.1" r="0.62" fill="#f7f1f1"/><circle cx="42.7" cy="34.7" r="0.95" fill="#e6d8da"/><circle cx="32.5" cy="21.0" r="0.49" fill="#f7f1f1"/><circle cx="25.7" cy="2.0" r="0.50" fill="#e6d8da"/><circle cx="39.6" cy="14.7" r="0.95" fill="#e0d0d2"/><circle cx="25.1" cy="24.6" r="0.72" fill="#e6d8da"/><circle cx="42.0" cy="19.7" r="0.41" fill="#dccaca"/><circle cx="31.8" cy="32.5" r="0.89" fill="#e6d8da"/><circle cx="16.7" cy="1.4" r="0.59" fill="#f8f3f2"/><circle cx="26.3" cy="28.5" r="0.81" fill="#f8f3f2"/><circle cx="51.6" cy="42.7" r="0.95" fill="#dccaca"/><circle cx="35.2" cy="28.1" r="0.88" fill="#e0d0d2"/><circle cx="50.3" cy="1.1" r="0.86" fill="#f7f1f1"/><circle cx="14.9" cy="4.1" r="0.45" fill="#e0d0d2"/><circle cx="32.1" cy="45.1" r="0.96" fill="#f8f3f2"/><circle cx="16.1" cy="48.6" r="0.56" fill="#f7f1f1"/><circle cx="3.8" cy="39.4" r="0.80" fill="#e0d0d2"/><circle cx="47.1" cy="36.0" r="0.90" fill="#dccaca"/><circle cx="32.1" cy="10.9" r="0.71" fill="#e6d8da"/><circle cx="12.6" cy="51.0" r="0.73" fill="#f8f3f2"/><circle cx="50.9" cy="35.1" r="0.63" fill="#dccaca"/><circle cx="47.2" cy="47.6" r="0.77" fill="#f8f3f2"/><circle cx="17.0" cy="44.1" r="0.93" fill="#e0d0d2"/><circle cx="13.1" cy="5.2" r="0.58" fill="#e0d0d2"/><circle cx="41.9" cy="4.1" r="0.97" fill="#e6d8da"/><circle cx="33.2" cy="40.1" r="0.53" fill="#e6d8da"/><circle cx="29.9" cy="32.8" r="0.78" fill="#dccaca"/><circle cx="38.2" cy="21.8" r="0.66" fill="#dccaca"/><circle cx="31.3" cy="12.8" r="0.65" fill="#e6d8da"/><circle cx="31.8" cy="50.6" r="0.51" fill="#e6d8da"/><circle cx="7.8" cy="15.5" r="0.73" fill="#dccaca"/><circle cx="9.7" cy="10.0" r="0.76" fill="#e0d0d2"/><circle cx="38.3" cy="3.2" r="0.69" fill="#dccaca"/><circle cx="50.3" cy="16.7" r="0.91" fill="#f8f3f2"/><circle cx="48.7" cy="12.0" r="0.82" fill="#f8f3f2"/><circle cx="44.1" cy="0.1" r="0.80" fill="#e6d8da"/><circle cx="4.9" cy="7.9" r="0.77" fill="#e6d8da"/><circle cx="30.2" cy="23.1" r="0.59" fill="#f7f1f1"/><circle cx="37.4" cy="48.3" r="0.97" fill="#e6d8da"/><circle cx="19.2" cy="42.6" r="0.52" fill="#e0d0d2"/><circle cx="19.7" cy="24.0" r="0.81" fill="#e6d8da"/><circle cx="12.9" cy="49.2" r="0.68" fill="#e6d8da"/><circle cx="6.2" cy="31.2" r="0.62" fill="#e6d8da"/><circle cx="26.0" cy="50.3" r="0.97" fill="#e6d8da"/><circle cx="25.8" cy="49.0" r="0.83" fill="#e6d8da"/><circle cx="6.1" cy="25.1" r="0.61" fill="#f7f1f1"/><circle cx="48.2" cy="20.0" r="0.57" fill="#f8f3f2"/><circle cx="33.7" cy="40.1" r="0.45" fill="#e6d8da"/><circle cx="15.5" cy="17.6" r="0.91" fill="#dccaca"/><circle cx="22.7" cy="11.5" r="0.99" fill="#e0d0d2"/><circle cx="35.0" cy="3.8" r="0.56" fill="#e6d8da"/><circle cx="29.1" cy="22.6" r="0.51" fill="#f8f3f2"/><circle cx="44.9" cy="12.8" r="0.67" fill="#f7f1f1"/><circle cx="42.6" cy="0.3" r="0.86" fill="#e0d0d2"/><circle cx="42.6" cy="1.1" r="0.74" fill="#f8f3f2"/><circle cx="45.6" cy="4.1" r="0.98" fill="#f7f1f1"/><circle cx="51.2" cy="23.2" r="0.68" fill="#e6d8da"/><circle cx="50.2" cy="31.3" r="0.90" fill="#f8f3f2"/><circle cx="26.7" cy="2.8" r="0.64" fill="#dccaca"/><circle cx="22.8" cy="31.0" r="0.94" fill="#dccaca"/><circle cx="33.4" cy="1.9" r="0.41" fill="#f8f3f2"/><circle cx="42.7" cy="43.1" r="0.66" fill="#f8f3f2"/><circle cx="0.8" cy="42.7" r="0.50" fill="#e0d0d2"/><circle cx="7.8" cy="40.8" r="0.65" fill="#e6d8da"/><circle cx="52.2" cy="11.3" r="0.65" fill="#e0d0d2"/><circle cx="7.3" cy="19.0" r="0.40" fill="#e6d8da"/><circle cx="40.4" cy="39.6" r="0.45" fill="#f8f3f2"/><circle cx="1.9" cy="21.4" r="0.49" fill="#e6d8da"/><circle cx="39.2" cy="25.8" r="0.59" fill="#f8f3f2"/><circle cx="7.2" cy="12.4" r="0.95" fill="#dccaca"/><circle cx="1.6" cy="9.7" r="0.66" fill="#e0d0d2"/></g><g filter="url(#bl)"><ellipse cx="3.6" cy="4.6" rx="2.60" ry="1.44" transform="rotate(30 3.6 4.6)" fill="#ddb8aa" opacity="0.45"/><ellipse cx="4.0" cy="7.5" rx="2.40" ry="1.44" transform="rotate(80 4.0 7.5)" fill="#ddb8aa" opacity="0.45"/><ellipse cx="6.5" cy="17.5" rx="4.40" ry="1.62" transform="rotate(-50 6.5 17.5)" fill="#ddb8aa" opacity="0.45"/><ellipse cx="8.5" cy="14.5" rx="2.40" ry="1.26" transform="rotate(-50 8.5 14.5)" fill="#ddb8aa" opacity="0.45"/><ellipse cx="13.5" cy="5.0" rx="3.60" ry="1.44" transform="rotate(70 13.5 5.0)" fill="#ddb8aa" opacity="0.45"/><ellipse cx="14.8" cy="8.0" rx="2.40" ry="1.44" transform="rotate(60 14.8 8.0)" fill="#ddb8aa" opacity="0.45"/><ellipse cx="24.0" cy="15.0" rx="2.80" ry="1.80" transform="rotate(40 24.0 15.0)" fill="#ddb8aa" opacity="0.45"/><ellipse cx="26.5" cy="21.0" rx="3.60" ry="1.44" transform="rotate(65 26.5 21.0)" fill="#ddb8aa" opacity="0.45"/><ellipse cx="28.0" cy="25.0" rx="3.60" ry="1.62" transform="rotate(70 28.0 25.0)" fill="#ddb8aa" opacity="0.45"/><ellipse cx="29.5" cy="29.0" rx="3.20" ry="1.62" transform="rotate(60 29.5 29.0)" fill="#ddb8aa" opacity="0.45"/><ellipse cx="30.5" cy="32.3" rx="2.40" ry="1.44" transform="rotate(40 30.5 32.3)" fill="#ddb8aa" opacity="0.45"/><ellipse cx="17.8" cy="29.6" rx="4.00" ry="2.16" transform="rotate(20 17.8 29.6)" fill="#ddb8aa" opacity="0.45"/><ellipse cx="15.3" cy="32.6" rx="3.20" ry="1.80" transform="rotate(-30 15.3 32.6)" fill="#ddb8aa" opacity="0.45"/><ellipse cx="11.5" cy="39.5" rx="3.20" ry="1.80" transform="rotate(60 11.5 39.5)" fill="#ddb8aa" opacity="0.45"/><ellipse cx="13.0" cy="42.5" rx="4.00" ry="2.16" transform="rotate(70 13.0 42.5)" fill="#ddb8aa" opacity="0.45"/><ellipse cx="14.5" cy="45.5" rx="3.60" ry="1.80" transform="rotate(50 14.5 45.5)" fill="#ddb8aa" opacity="0.45"/><ellipse cx="12.0" cy="46.0" rx="2.40" ry="1.44" transform="rotate(0 12.0 46.0)" fill="#ddb8aa" opacity="0.45"/><ellipse cx="6.0" cy="45.0" rx="2.40" ry="1.62" transform="rotate(0 6.0 45.0)" fill="#ddb8aa" opacity="0.45"/><ellipse cx="38.7" cy="36.7" rx="2.80" ry="1.80" transform="rotate(0 38.7 36.7)" fill="#ddb8aa" opacity="0.45"/><ellipse cx="41.8" cy="13.3" rx="3.20" ry="1.80" transform="rotate(30 41.8 13.3)" fill="#ddb8aa" opacity="0.45"/><ellipse cx="50.0" cy="27.5" rx="2.40" ry="1.80" transform="rotate(0 50.0 27.5)" fill="#ddb8aa" opacity="0.45"/><ellipse cx="39.8" cy="7.0" rx="2.80" ry="1.62" transform="rotate(-30 39.8 7.0)" fill="#ddb8aa" opacity="0.45"/><ellipse cx="30.6" cy="46.4" rx="2.40" ry="1.44" transform="rotate(0 30.6 46.4)" fill="#ddb8aa" opacity="0.45"/><ellipse cx="8.0" cy="25.5" rx="2.60" ry="1.62" transform="rotate(70 8.0 25.5)" fill="#ddb8aa" opacity="0.45"/><ellipse cx="21.4" cy="19.4" rx="2.40" ry="1.62" transform="rotate(0 21.4 19.4)" fill="#ddb8aa" opacity="0.45"/><ellipse cx="10.0" cy="35.0" rx="2.00" ry="1.26" transform="rotate(0 10.0 35.0)" fill="#ddb8aa" opacity="0.45"/><ellipse cx="34.0" cy="8.0" rx="1.80" ry="1.44" transform="rotate(0 34.0 8.0)" fill="#ddb8aa" opacity="0.45"/><ellipse cx="45.0" cy="45.0" rx="2.00" ry="1.44" transform="rotate(0 45.0 45.0)" fill="#ddb8aa" opacity="0.45"/><ellipse cx="22.0" cy="38.0" rx="2.00" ry="1.26" transform="rotate(0 22.0 38.0)" fill="#ddb8aa" opacity="0.45"/><ellipse cx="47.0" cy="20.0" rx="1.80" ry="1.44" transform="rotate(0 47.0 20.0)" fill="#ddb8aa" opacity="0.45"/><ellipse cx="35.0" cy="41.0" rx="1.80" ry="1.44" transform="rotate(0 35.0 41.0)" fill="#ddb8aa" opacity="0.45"/><ellipse cx="6.9" cy="34.2" rx="0.97" ry="0.59" transform="rotate(53 6.9 34.2)" fill="#c09080"/><ellipse cx="47.1" cy="46.7" rx="1.15" ry="0.61" transform="rotate(19 47.1 46.7)" fill="#c09080"/><ellipse cx="21.0" cy="15.9" rx="1.43" ry="0.72" transform="rotate(80 21.0 15.9)" fill="#c09080"/><ellipse cx="45.7" cy="50.5" rx="0.81" ry="0.51" transform="rotate(2 45.7 50.5)" fill="#c09080"/><ellipse cx="20.2" cy="12.4" rx="1.23" ry="0.52" transform="rotate(3 20.2 12.4)" fill="#c09080"/><ellipse cx="11.1" cy="12.2" rx="1.27" ry="0.59" transform="rotate(55 11.1 12.2)" fill="#c09080"/><ellipse cx="42.2" cy="12.5" rx="1.25" ry="0.85" transform="rotate(140 42.2 12.5)" fill="#c09080"/><ellipse cx="29.3" cy="23.0" rx="0.78" ry="0.55" transform="rotate(163 29.3 23.0)" fill="#c09080"/><ellipse cx="29.9" cy="14.4" rx="1.17" ry="0.74" transform="rotate(70 29.9 14.4)" fill="#c09080"/><ellipse cx="19.8" cy="44.3" rx="1.17" ry="0.77" transform="rotate(116 19.8 44.3)" fill="#c09080"/><ellipse cx="2.9" cy="11.1" rx="1.20" ry="0.54" transform="rotate(92 2.9 11.1)" fill="#c09080"/><ellipse cx="42.9" cy="19.5" rx="1.03" ry="0.68" transform="rotate(11 42.9 19.5)" fill="#c09080"/><ellipse cx="0.2" cy="29.5" rx="1.15" ry="0.52" transform="rotate(134 0.2 29.5)" fill="#c09080"/><ellipse cx="6.1" cy="46.3" rx="1.00" ry="0.64" transform="rotate(147 6.1 46.3)" fill="#c09080"/><ellipse cx="25.4" cy="7.5" rx="0.80" ry="0.60" transform="rotate(4 25.4 7.5)" fill="#c09080"/><ellipse cx="13.2" cy="8.7" rx="1.33" ry="0.78" transform="rotate(107 13.2 8.7)" fill="#c09080"/><ellipse cx="45.9" cy="47.9" rx="1.37" ry="0.74" transform="rotate(102 45.9 47.9)" fill="#c09080"/><ellipse cx="47.3" cy="18.6" rx="0.80" ry="0.68" transform="rotate(125 47.3 18.6)" fill="#c09080"/><ellipse cx="32.1" cy="35.3" rx="1.22" ry="0.51" transform="rotate(74 32.1 35.3)" fill="#c09080"/><ellipse cx="21.7" cy="27.8" rx="1.05" ry="0.73" transform="rotate(97 21.7 27.8)" fill="#c09080"/><ellipse cx="36.5" cy="36.9" rx="1.28" ry="0.74" transform="rotate(8 36.5 36.9)" fill="#c09080"/><ellipse cx="37.6" cy="15.9" rx="1.12" ry="0.72" transform="rotate(151 37.6 15.9)" fill="#c09080"/><ellipse cx="50.2" cy="35.6" rx="0.92" ry="0.66" transform="rotate(55 50.2 35.6)" fill="#c09080"/><ellipse cx="23.8" cy="15.6" rx="1.40" ry="0.63" transform="rotate(118 23.8 15.6)" fill="#c09080"/><ellipse cx="26.1" cy="19.9" rx="1.22" ry="0.88" transform="rotate(57 26.1 19.9)" fill="#c09080"/><ellipse cx="32.1" cy="23.9" rx="0.82" ry="0.90" transform="rotate(115 32.1 23.9)" fill="#c09080"/><ellipse cx="23.0" cy="27.1" rx="1.02" ry="0.58" transform="rotate(165 23.0 27.1)" fill="#c09080"/><ellipse cx="8.9" cy="26.3" rx="1.45" ry="0.64" transform="rotate(3 8.9 26.3)" fill="#c09080"/><ellipse cx="22.8" cy="29.5" rx="1.10" ry="0.88" transform="rotate(39 22.8 29.5)" fill="#c09080"/><ellipse cx="12.6" cy="8.8" rx="1.14" ry="0.60" transform="rotate(56 12.6 8.8)" fill="#c09080"/><ellipse cx="3.6" cy="4.6" rx="1.37" ry="0.80" transform="rotate(30 3.6 4.6)" fill="#8e5440"/><ellipse cx="4.0" cy="7.5" rx="1.26" ry="0.80" transform="rotate(80 4.0 7.5)" fill="#9a5e46"/><ellipse cx="6.5" cy="17.5" rx="2.31" ry="0.90" transform="rotate(-50 6.5 17.5)" fill="#84503e"/><ellipse cx="8.5" cy="14.5" rx="1.26" ry="0.70" transform="rotate(-50 8.5 14.5)" fill="#a46a50"/><ellipse cx="13.5" cy="5.0" rx="1.89" ry="0.80" transform="rotate(70 13.5 5.0)" fill="#84503e"/><ellipse cx="14.8" cy="8.0" rx="1.26" ry="0.80" transform="rotate(60 14.8 8.0)" fill="#84503e"/><ellipse cx="24.0" cy="15.0" rx="1.47" ry="1.00" transform="rotate(40 24.0 15.0)" fill="#a46a50"/><ellipse cx="26.5" cy="21.0" rx="1.89" ry="0.80" transform="rotate(65 26.5 21.0)" fill="#8e5440"/><ellipse cx="28.0" cy="25.0" rx="1.89" ry="0.90" transform="rotate(70 28.0 25.0)" fill="#8e5440"/><ellipse cx="29.5" cy="29.0" rx="1.68" ry="0.90" transform="rotate(60 29.5 29.0)" fill="#8e5440"/><ellipse cx="30.5" cy="32.3" rx="1.26" ry="0.80" transform="rotate(40 30.5 32.3)" fill="#84503e"/><ellipse cx="17.8" cy="29.6" rx="2.10" ry="1.20" transform="rotate(20 17.8 29.6)" fill="#8e5440"/><ellipse cx="15.3" cy="32.6" rx="1.68" ry="1.00" transform="rotate(-30 15.3 32.6)" fill="#8e5440"/><ellipse cx="11.5" cy="39.5" rx="1.68" ry="1.00" transform="rotate(60 11.5 39.5)" fill="#84503e"/><ellipse cx="13.0" cy="42.5" rx="2.10" ry="1.20" transform="rotate(70 13.0 42.5)" fill="#9a5e46"/><ellipse cx="14.5" cy="45.5" rx="1.89" ry="1.00" transform="rotate(50 14.5 45.5)" fill="#8e5440"/><ellipse cx="12.0" cy="46.0" rx="1.26" ry="0.80" transform="rotate(0 12.0 46.0)" fill="#a46a50"/><ellipse cx="6.0" cy="45.0" rx="1.26" ry="0.90" transform="rotate(0 6.0 45.0)" fill="#9a5e46"/><ellipse cx="38.7" cy="36.7" rx="1.47" ry="1.00" transform="rotate(0 38.7 36.7)" fill="#84503e"/><ellipse cx="41.8" cy="13.3" rx="1.68" ry="1.00" transform="rotate(30 41.8 13.3)" fill="#84503e"/><ellipse cx="50.0" cy="27.5" rx="1.26" ry="1.00" transform="rotate(0 50.0 27.5)" fill="#8e5440"/><ellipse cx="39.8" cy="7.0" rx="1.47" ry="0.90" transform="rotate(-30 39.8 7.0)" fill="#a46a50"/><ellipse cx="30.6" cy="46.4" rx="1.26" ry="0.80" transform="rotate(0 30.6 46.4)" fill="#84503e"/><ellipse cx="8.0" cy="25.5" rx="1.37" ry="0.90" transform="rotate(70 8.0 25.5)" fill="#8e5440"/><ellipse cx="21.4" cy="19.4" rx="1.26" ry="0.90" transform="rotate(0 21.4 19.4)" fill="#84503e"/><ellipse cx="10.0" cy="35.0" rx="1.05" ry="0.70" transform="rotate(0 10.0 35.0)" fill="#8e5440"/><ellipse cx="34.0" cy="8.0" rx="0.95" ry="0.80" transform="rotate(0 34.0 8.0)" fill="#84503e"/><ellipse cx="45.0" cy="45.0" rx="1.05" ry="0.80" transform="rotate(0 45.0 45.0)" fill="#84503e"/><ellipse cx="22.0" cy="38.0" rx="1.05" ry="0.70" transform="rotate(0 22.0 38.0)" fill="#a46a50"/><ellipse cx="47.0" cy="20.0" rx="0.95" ry="0.80" transform="rotate(0 47.0 20.0)" fill="#a46a50"/><ellipse cx="35.0" cy="41.0" rx="0.95" ry="0.80" transform="rotate(0 35.0 41.0)" fill="#8e5440"/><circle cx="3.5" cy="3.6" r="0.36" fill="#9a7a7e"/><circle cx="5.0" cy="38.6" r="0.59" fill="#9a7a7e"/><circle cx="21.3" cy="24.2" r="0.37" fill="#9a7a7e"/><circle cx="22.1" cy="49.1" r="0.49" fill="#9a7a7e"/><circle cx="34.2" cy="35.6" r="0.43" fill="#9a7a7e"/><circle cx="19.0" cy="4.0" r="0.45" fill="#9a7a7e"/><circle cx="8.9" cy="12.9" r="0.50" fill="#9a7a7e"/><circle cx="5.0" cy="34.2" r="0.52" fill="#9a7a7e"/><circle cx="20.0" cy="6.0" r="0.43" fill="#9a7a7e"/><circle cx="23.8" cy="42.9" r="0.36" fill="#9a7a7e"/><circle cx="46.3" cy="51.3" r="0.38" fill="#9a7a7e"/><circle cx="34.5" cy="9.5" r="0.40" fill="#9a7a7e"/><circle cx="46.3" cy="37.2" r="0.37" fill="#9a7a7e"/><circle cx="16.1" cy="44.8" r="0.51" fill="#9a7a7e"/><circle cx="16.1" cy="28.9" r="0.55" fill="#9a7a7e"/><circle cx="33.4" cy="13.4" r="0.39" fill="#9a7a7e"/><circle cx="33.0" cy="23.9" r="0.45" fill="#9a7a7e"/><circle cx="37.3" cy="5.1" r="0.50" fill="#9a7a7e"/><circle cx="24.0" cy="49.7" r="0.54" fill="#9a7a7e"/><circle cx="23.4" cy="12.2" r="0.41" fill="#9a7a7e"/><circle cx="33.7" cy="37.6" r="0.41" fill="#9a7a7e"/><circle cx="24.4" cy="35.4" r="0.55" fill="#9a7a7e"/></g></svg><svg x="457.3" y="268" width="52.7" height="52.3" overflow="hidden"><rect width="52.7" height="52.3" fill="#f2e9e7"/><g filter="url(#bl2)"><circle cx="41.8" cy="43.0" r="0.69" fill="#e0d0d2"/><circle cx="1.9" cy="7.6" r="0.75" fill="#e0d0d2"/><circle cx="16.8" cy="1.1" r="0.69" fill="#f7f1f1"/><circle cx="38.5" cy="21.7" r="0.72" fill="#e6d8da"/><circle cx="10.2" cy="29.0" r="0.88" fill="#e0d0d2"/><circle cx="34.9" cy="31.9" r="0.45" fill="#f8f3f2"/><circle cx="17.7" cy="4.9" r="0.88" fill="#e0d0d2"/><circle cx="23.5" cy="4.9" r="0.52" fill="#e0d0d2"/><circle cx="5.1" cy="2.4" r="0.94" fill="#e0d0d2"/><circle cx="25.6" cy="43.6" r="0.52" fill="#dccaca"/><circle cx="34.0" cy="36.5" r="0.88" fill="#e6d8da"/><circle cx="33.4" cy="12.8" r="0.66" fill="#e0d0d2"/><circle cx="31.0" cy="4.7" r="0.93" fill="#dccaca"/><circle cx="10.5" cy="31.8" r="0.56" fill="#f7f1f1"/><circle cx="20.0" cy="11.6" r="0.76" fill="#dccaca"/><circle cx="0.7" cy="40.7" r="0.41" fill="#e0d0d2"/><circle cx="29.4" cy="35.1" r="0.77" fill="#e0d0d2"/><circle cx="19.9" cy="20.4" r="0.48" fill="#f8f3f2"/><circle cx="2.8" cy="22.1" r="0.85" fill="#f8f3f2"/><circle cx="5.1" cy="23.1" r="0.88" fill="#e6d8da"/><circle cx="47.0" cy="35.1" r="0.93" fill="#f8f3f2"/><circle cx="41.3" cy="19.9" r="0.45" fill="#f8f3f2"/><circle cx="24.8" cy="36.9" r="0.65" fill="#e6d8da"/><circle cx="10.1" cy="35.6" r="0.67" fill="#f7f1f1"/><circle cx="1.0" cy="28.1" r="0.55" fill="#e0d0d2"/><circle cx="9.9" cy="26.3" r="0.60" fill="#dccaca"/><circle cx="13.4" cy="21.5" r="0.93" fill="#dccaca"/><circle cx="25.6" cy="31.5" r="0.79" fill="#f8f3f2"/><circle cx="7.5" cy="19.7" r="0.58" fill="#f8f3f2"/><circle cx="17.0" cy="34.5" r="0.98" fill="#dccaca"/><circle cx="19.8" cy="31.5" r="0.59" fill="#f8f3f2"/><circle cx="51.4" cy="38.1" r="0.49" fill="#e0d0d2"/><circle cx="29.5" cy="32.6" r="0.98" fill="#f7f1f1"/><circle cx="1.6" cy="40.5" r="0.47" fill="#e0d0d2"/><circle cx="19.1" cy="49.1" r="0.91" fill="#e6d8da"/><circle cx="48.4" cy="8.1" r="0.56" fill="#e6d8da"/><circle cx="22.2" cy="40.9" r="0.89" fill="#f8f3f2"/><circle cx="4.0" cy="12.1" r="0.62" fill="#f7f1f1"/><circle cx="35.9" cy="12.7" r="0.59" fill="#e6d8da"/><circle cx="33.1" cy="5.1" r="0.46" fill="#f8f3f2"/><circle cx="24.4" cy="47.0" r="0.78" fill="#dccaca"/><circle cx="6.7" cy="43.5" r="0.45" fill="#dccaca"/><circle cx="33.3" cy="13.9" r="0.90" fill="#f8f3f2"/><circle cx="26.3" cy="1.1" r="0.78" fill="#f7f1f1"/><circle cx="47.9" cy="23.1" r="0.87" fill="#f8f3f2"/><circle cx="29.4" cy="25.0" r="0.75" fill="#e0d0d2"/><circle cx="51.5" cy="15.0" r="0.96" fill="#e6d8da"/><circle cx="26.5" cy="14.4" r="0.56" fill="#f8f3f2"/><circle cx="22.7" cy="48.2" r="0.42" fill="#e6d8da"/><circle cx="13.2" cy="31.6" r="0.54" fill="#e6d8da"/><circle cx="38.9" cy="17.6" r="0.42" fill="#f7f1f1"/><circle cx="36.9" cy="18.0" r="0.45" fill="#e6d8da"/><circle cx="21.1" cy="7.1" r="0.85" fill="#e6d8da"/><circle cx="6.7" cy="18.3" r="0.99" fill="#f7f1f1"/><circle cx="27.7" cy="7.9" r="0.57" fill="#f7f1f1"/><circle cx="26.7" cy="44.5" r="0.88" fill="#f7f1f1"/><circle cx="36.7" cy="37.4" r="0.48" fill="#f7f1f1"/><circle cx="39.9" cy="52.0" r="0.74" fill="#e6d8da"/><circle cx="41.4" cy="29.8" r="0.51" fill="#e0d0d2"/><circle cx="45.1" cy="27.5" r="0.41" fill="#dccaca"/><circle cx="29.0" cy="34.6" r="0.83" fill="#dccaca"/><circle cx="42.4" cy="19.5" r="0.80" fill="#f7f1f1"/><circle cx="8.6" cy="32.7" r="0.63" fill="#e6d8da"/><circle cx="0.6" cy="24.7" r="0.44" fill="#dccaca"/><circle cx="5.3" cy="19.2" r="0.42" fill="#dccaca"/><circle cx="11.8" cy="21.3" r="0.86" fill="#e0d0d2"/><circle cx="4.9" cy="4.0" r="0.74" fill="#e6d8da"/><circle cx="8.9" cy="34.6" r="0.47" fill="#e6d8da"/><circle cx="37.0" cy="9.3" r="0.81" fill="#e6d8da"/><circle cx="39.5" cy="35.4" r="0.84" fill="#e0d0d2"/><circle cx="13.5" cy="12.1" r="0.89" fill="#dccaca"/><circle cx="41.5" cy="11.2" r="0.76" fill="#e0d0d2"/><circle cx="27.8" cy="38.3" r="0.98" fill="#e0d0d2"/><circle cx="40.9" cy="4.9" r="0.76" fill="#e6d8da"/><circle cx="19.1" cy="36.2" r="0.54" fill="#e6d8da"/><circle cx="19.0" cy="36.2" r="0.60" fill="#e6d8da"/><circle cx="18.1" cy="1.6" r="0.60" fill="#f8f3f2"/><circle cx="0.1" cy="43.3" r="0.45" fill="#dccaca"/><circle cx="32.5" cy="12.0" r="0.48" fill="#dccaca"/><circle cx="9.6" cy="51.1" r="0.63" fill="#dccaca"/><circle cx="22.6" cy="27.1" r="0.90" fill="#e0d0d2"/><circle cx="13.3" cy="15.6" r="0.42" fill="#f8f3f2"/><circle cx="5.5" cy="9.2" r="0.47" fill="#e6d8da"/><circle cx="27.1" cy="6.3" r="0.76" fill="#f8f3f2"/><circle cx="25.6" cy="45.5" r="0.86" fill="#dccaca"/><circle cx="42.8" cy="24.6" r="0.91" fill="#f8f3f2"/><circle cx="8.1" cy="48.1" r="0.92" fill="#e6d8da"/><circle cx="17.8" cy="13.2" r="0.48" fill="#e0d0d2"/><circle cx="31.0" cy="35.5" r="0.53" fill="#e0d0d2"/><circle cx="9.3" cy="21.3" r="0.77" fill="#f7f1f1"/><circle cx="48.8" cy="4.7" r="0.63" fill="#f7f1f1"/><circle cx="39.7" cy="47.8" r="0.49" fill="#e6d8da"/><circle cx="27.4" cy="40.6" r="0.69" fill="#e0d0d2"/><circle cx="46.5" cy="17.2" r="0.83" fill="#f8f3f2"/><circle cx="45.7" cy="34.0" r="0.88" fill="#e6d8da"/><circle cx="13.8" cy="2.2" r="0.75" fill="#dccaca"/><circle cx="37.9" cy="8.1" r="0.70" fill="#e6d8da"/><circle cx="41.2" cy="40.0" r="0.98" fill="#e6d8da"/><circle cx="51.6" cy="34.8" r="0.47" fill="#e0d0d2"/><circle cx="17.8" cy="50.9" r="0.89" fill="#f7f1f1"/><circle cx="9.2" cy="9.6" r="0.78" fill="#f8f3f2"/><circle cx="38.9" cy="23.9" r="0.47" fill="#dccaca"/><circle cx="7.2" cy="50.8" r="0.52" fill="#e0d0d2"/><circle cx="38.7" cy="50.8" r="0.78" fill="#e6d8da"/><circle cx="14.4" cy="0.1" r="0.93" fill="#e6d8da"/><circle cx="25.3" cy="33.0" r="0.59" fill="#e6d8da"/><circle cx="14.5" cy="37.7" r="0.63" fill="#dccaca"/><circle cx="17.7" cy="38.6" r="0.92" fill="#f7f1f1"/><circle cx="43.9" cy="7.7" r="0.80" fill="#f8f3f2"/><circle cx="39.2" cy="41.2" r="0.97" fill="#f7f1f1"/><circle cx="5.5" cy="23.3" r="0.41" fill="#f7f1f1"/><circle cx="35.8" cy="25.1" r="0.44" fill="#e6d8da"/><circle cx="21.0" cy="10.4" r="0.73" fill="#f7f1f1"/><circle cx="23.1" cy="13.4" r="0.73" fill="#e0d0d2"/><circle cx="15.5" cy="36.0" r="0.56" fill="#dccaca"/><circle cx="51.7" cy="37.6" r="0.43" fill="#f7f1f1"/><circle cx="34.9" cy="32.5" r="0.40" fill="#f8f3f2"/><circle cx="29.3" cy="13.3" r="0.91" fill="#e0d0d2"/><circle cx="0.7" cy="11.0" r="0.58" fill="#f7f1f1"/><circle cx="14.7" cy="14.3" r="0.58" fill="#e0d0d2"/><circle cx="11.5" cy="38.1" r="0.76" fill="#e6d8da"/><circle cx="43.0" cy="43.3" r="0.75" fill="#e0d0d2"/><circle cx="9.7" cy="48.3" r="0.53" fill="#f8f3f2"/><circle cx="46.9" cy="32.5" r="0.47" fill="#e6d8da"/><circle cx="51.2" cy="2.8" r="0.93" fill="#f7f1f1"/><circle cx="32.1" cy="14.1" r="0.78" fill="#e6d8da"/><circle cx="25.4" cy="33.7" r="0.90" fill="#e0d0d2"/><circle cx="27.5" cy="33.5" r="0.62" fill="#f8f3f2"/><circle cx="39.5" cy="4.9" r="0.86" fill="#f8f3f2"/><circle cx="47.2" cy="8.5" r="0.57" fill="#dccaca"/><circle cx="16.8" cy="34.7" r="0.70" fill="#e6d8da"/><circle cx="35.0" cy="3.2" r="0.66" fill="#e6d8da"/><circle cx="9.3" cy="13.8" r="0.40" fill="#e0d0d2"/><circle cx="37.7" cy="18.1" r="0.64" fill="#e6d8da"/><circle cx="39.0" cy="14.8" r="0.70" fill="#e0d0d2"/><circle cx="47.1" cy="12.6" r="0.41" fill="#e6d8da"/><circle cx="40.8" cy="28.3" r="0.63" fill="#f7f1f1"/><circle cx="41.3" cy="33.5" r="0.92" fill="#e6d8da"/><circle cx="5.7" cy="41.5" r="0.48" fill="#e6d8da"/><circle cx="1.6" cy="13.5" r="0.53" fill="#e0d0d2"/><circle cx="40.3" cy="46.6" r="0.49" fill="#e6d8da"/><circle cx="41.8" cy="31.1" r="0.94" fill="#f8f3f2"/><circle cx="32.3" cy="25.5" r="0.59" fill="#dccaca"/><circle cx="23.9" cy="41.9" r="0.72" fill="#f7f1f1"/><circle cx="35.3" cy="7.3" r="0.53" fill="#e0d0d2"/><circle cx="24.5" cy="40.3" r="0.56" fill="#dccaca"/><circle cx="45.0" cy="29.8" r="0.54" fill="#e6d8da"/><circle cx="21.4" cy="20.7" r="0.75" fill="#e6d8da"/><circle cx="48.4" cy="1.8" r="0.59" fill="#f8f3f2"/><circle cx="34.0" cy="52.2" r="0.66" fill="#e0d0d2"/><circle cx="19.0" cy="37.3" r="0.62" fill="#e6d8da"/><circle cx="21.7" cy="30.8" r="0.58" fill="#dccaca"/><circle cx="35.0" cy="12.6" r="0.68" fill="#dccaca"/><circle cx="8.5" cy="30.1" r="0.81" fill="#f8f3f2"/><circle cx="42.2" cy="3.7" r="0.66" fill="#f8f3f2"/><circle cx="0.6" cy="46.3" r="0.76" fill="#f8f3f2"/><circle cx="22.9" cy="3.1" r="0.42" fill="#dccaca"/><circle cx="27.8" cy="52.2" r="0.50" fill="#f7f1f1"/><circle cx="25.3" cy="3.7" r="0.75" fill="#e6d8da"/><circle cx="1.6" cy="42.7" r="0.54" fill="#dccaca"/><circle cx="13.3" cy="48.3" r="0.71" fill="#e0d0d2"/><circle cx="43.8" cy="20.2" r="0.83" fill="#e6d8da"/><circle cx="32.6" cy="21.9" r="0.51" fill="#e0d0d2"/><circle cx="2.0" cy="28.4" r="0.52" fill="#e6d8da"/><circle cx="43.3" cy="24.9" r="0.46" fill="#f8f3f2"/><circle cx="25.5" cy="48.9" r="0.68" fill="#f7f1f1"/><circle cx="19.7" cy="7.5" r="0.53" fill="#f7f1f1"/><circle cx="45.7" cy="14.1" r="0.53" fill="#f8f3f2"/><circle cx="19.5" cy="19.4" r="0.85" fill="#e0d0d2"/><circle cx="44.3" cy="38.8" r="0.94" fill="#e6d8da"/><circle cx="26.4" cy="10.5" r="0.99" fill="#dccaca"/><circle cx="49.1" cy="2.4" r="0.65" fill="#e6d8da"/><circle cx="48.5" cy="49.3" r="0.78" fill="#e6d8da"/><circle cx="6.3" cy="31.7" r="0.87" fill="#dccaca"/><circle cx="52.2" cy="5.2" r="0.74" fill="#f8f3f2"/><circle cx="51.3" cy="46.3" r="0.51" fill="#f7f1f1"/><circle cx="40.4" cy="40.3" r="0.41" fill="#e0d0d2"/><circle cx="11.3" cy="29.7" r="0.49" fill="#e6d8da"/><circle cx="1.5" cy="5.5" r="0.71" fill="#f7f1f1"/><circle cx="35.0" cy="38.1" r="0.73" fill="#dccaca"/><circle cx="34.5" cy="31.3" r="0.70" fill="#f8f3f2"/><circle cx="45.7" cy="31.1" r="0.72" fill="#f7f1f1"/><circle cx="49.7" cy="35.1" r="0.52" fill="#e0d0d2"/><circle cx="22.2" cy="36.5" r="0.80" fill="#f8f3f2"/><circle cx="11.3" cy="15.6" r="0.84" fill="#e0d0d2"/><circle cx="39.8" cy="34.1" r="0.59" fill="#e0d0d2"/><circle cx="21.4" cy="18.7" r="0.65" fill="#e0d0d2"/><circle cx="41.2" cy="31.6" r="0.79" fill="#e0d0d2"/><circle cx="34.6" cy="31.9" r="0.70" fill="#dccaca"/><circle cx="0.4" cy="3.4" r="0.72" fill="#f8f3f2"/><circle cx="31.8" cy="50.6" r="0.73" fill="#e6d8da"/><circle cx="51.0" cy="43.8" r="0.42" fill="#f8f3f2"/><circle cx="6.6" cy="17.0" r="0.92" fill="#dccaca"/><circle cx="52.1" cy="48.0" r="0.56" fill="#f7f1f1"/><circle cx="14.2" cy="16.8" r="0.85" fill="#dccaca"/><circle cx="31.5" cy="52.0" r="0.75" fill="#e6d8da"/><circle cx="12.8" cy="32.7" r="0.53" fill="#e6d8da"/><circle cx="22.7" cy="47.0" r="0.77" fill="#e0d0d2"/><circle cx="47.9" cy="48.4" r="0.75" fill="#f8f3f2"/><circle cx="20.2" cy="29.5" r="0.90" fill="#e6d8da"/><circle cx="9.8" cy="29.3" r="0.99" fill="#f7f1f1"/><circle cx="27.6" cy="13.0" r="0.50" fill="#f7f1f1"/><circle cx="32.0" cy="18.5" r="0.74" fill="#f7f1f1"/><circle cx="8.4" cy="6.6" r="0.88" fill="#f8f3f2"/><circle cx="2.9" cy="4.2" r="0.73" fill="#e0d0d2"/><circle cx="19.7" cy="21.2" r="0.71" fill="#f7f1f1"/><circle cx="21.9" cy="30.9" r="0.65" fill="#f8f3f2"/><circle cx="20.1" cy="29.3" r="0.76" fill="#f7f1f1"/><circle cx="2.6" cy="38.3" r="0.92" fill="#f8f3f2"/><circle cx="34.9" cy="20.5" r="0.77" fill="#f8f3f2"/><circle cx="17.5" cy="32.0" r="0.81" fill="#e6d8da"/><circle cx="37.2" cy="5.2" r="0.51" fill="#f8f3f2"/><circle cx="35.7" cy="38.2" r="0.87" fill="#e6d8da"/><circle cx="18.9" cy="9.8" r="0.43" fill="#f8f3f2"/><circle cx="0.4" cy="46.3" r="0.82" fill="#dccaca"/><circle cx="6.2" cy="25.1" r="0.40" fill="#f8f3f2"/><circle cx="34.7" cy="34.7" r="0.99" fill="#f7f1f1"/><circle cx="48.1" cy="23.1" r="0.65" fill="#dccaca"/><circle cx="12.5" cy="46.1" r="0.78" fill="#e6d8da"/><circle cx="48.8" cy="33.1" r="0.68" fill="#e6d8da"/><circle cx="11.4" cy="29.6" r="0.78" fill="#dccaca"/><circle cx="38.6" cy="29.7" r="0.54" fill="#e0d0d2"/><circle cx="40.7" cy="31.2" r="0.92" fill="#e0d0d2"/><circle cx="21.1" cy="33.4" r="0.59" fill="#e0d0d2"/><circle cx="10.5" cy="30.6" r="0.92" fill="#e0d0d2"/><circle cx="4.3" cy="18.3" r="0.90" fill="#e6d8da"/><circle cx="4.1" cy="48.1" r="0.49" fill="#e6d8da"/><circle cx="43.2" cy="17.8" r="0.65" fill="#f7f1f1"/><circle cx="10.2" cy="51.4" r="0.57" fill="#f7f1f1"/><circle cx="11.7" cy="5.5" r="0.53" fill="#e6d8da"/><circle cx="36.4" cy="16.9" r="0.87" fill="#e6d8da"/><circle cx="48.7" cy="37.9" r="0.73" fill="#f7f1f1"/><circle cx="44.6" cy="49.5" r="0.94" fill="#dccaca"/><circle cx="40.6" cy="14.5" r="0.74" fill="#f8f3f2"/><circle cx="48.3" cy="41.2" r="0.68" fill="#dccaca"/><circle cx="40.6" cy="52.0" r="0.83" fill="#dccaca"/><circle cx="31.9" cy="50.4" r="0.98" fill="#e0d0d2"/><circle cx="15.4" cy="0.1" r="0.58" fill="#f7f1f1"/><circle cx="33.1" cy="29.7" r="0.84" fill="#e0d0d2"/><circle cx="6.0" cy="37.8" r="0.52" fill="#e0d0d2"/></g><g filter="url(#bl)"><ellipse cx="16.0" cy="5.0" rx="2.40" ry="1.80" transform="rotate(0 16.0 5.0)" fill="#ddb8aa" opacity="0.45"/><ellipse cx="21.0" cy="10.0" rx="2.20" ry="1.80" transform="rotate(0 21.0 10.0)" fill="#ddb8aa" opacity="0.45"/><ellipse cx="16.0" cy="28.5" rx="2.00" ry="1.80" transform="rotate(0 16.0 28.5)" fill="#ddb8aa" opacity="0.45"/><ellipse cx="13.0" cy="20.0" rx="2.80" ry="1.44" transform="rotate(70 13.0 20.0)" fill="#ddb8aa" opacity="0.45"/><ellipse cx="39.0" cy="29.5" rx="2.80" ry="1.80" transform="rotate(0 39.0 29.5)" fill="#ddb8aa" opacity="0.45"/><ellipse cx="32.0" cy="37.5" rx="5.20" ry="1.62" transform="rotate(-20 32.0 37.5)" fill="#ddb8aa" opacity="0.45"/><ellipse cx="38.0" cy="35.5" rx="4.00" ry="1.62" transform="rotate(-10 38.0 35.5)" fill="#ddb8aa" opacity="0.45"/><ellipse cx="43.0" cy="40.0" rx="2.40" ry="1.80" transform="rotate(0 43.0 40.0)" fill="#ddb8aa" opacity="0.45"/><ellipse cx="23.5" cy="40.0" rx="1.80" ry="1.62" transform="rotate(0 23.5 40.0)" fill="#ddb8aa" opacity="0.45"/><ellipse cx="24.5" cy="46.0" rx="4.40" ry="1.80" transform="rotate(10 24.5 46.0)" fill="#ddb8aa" opacity="0.45"/><ellipse cx="29.5" cy="46.8" rx="3.60" ry="1.62" transform="rotate(-10 29.5 46.8)" fill="#ddb8aa" opacity="0.45"/><ellipse cx="29.5" cy="16.0" rx="1.80" ry="1.62" transform="rotate(0 29.5 16.0)" fill="#ddb8aa" opacity="0.45"/><ellipse cx="35.7" cy="16.0" rx="1.80" ry="1.62" transform="rotate(0 35.7 16.0)" fill="#ddb8aa" opacity="0.45"/><ellipse cx="48.0" cy="2.0" rx="4.00" ry="1.80" transform="rotate(0 48.0 2.0)" fill="#ddb8aa" opacity="0.45"/><ellipse cx="6.0" cy="51.0" rx="2.40" ry="1.62" transform="rotate(0 6.0 51.0)" fill="#ddb8aa" opacity="0.45"/><ellipse cx="15.0" cy="33.6" rx="1.80" ry="1.62" transform="rotate(0 15.0 33.6)" fill="#ddb8aa" opacity="0.45"/><ellipse cx="30.0" cy="24.0" rx="1.60" ry="1.44" transform="rotate(0 30.0 24.0)" fill="#ddb8aa" opacity="0.45"/><ellipse cx="8.0" cy="40.0" rx="1.60" ry="1.44" transform="rotate(0 8.0 40.0)" fill="#ddb8aa" opacity="0.45"/><ellipse cx="46.0" cy="32.0" rx="1.80" ry="1.44" transform="rotate(0 46.0 32.0)" fill="#ddb8aa" opacity="0.45"/><ellipse cx="36.0" cy="45.0" rx="1.60" ry="1.44" transform="rotate(0 36.0 45.0)" fill="#ddb8aa" opacity="0.45"/><ellipse cx="33.5" cy="43.2" rx="1.31" ry="0.54" transform="rotate(45 33.5 43.2)" fill="#c09080"/><ellipse cx="6.3" cy="30.4" rx="0.79" ry="0.65" transform="rotate(120 6.3 30.4)" fill="#c09080"/><ellipse cx="0.7" cy="45.8" rx="1.26" ry="0.57" transform="rotate(6 0.7 45.8)" fill="#c09080"/><ellipse cx="0.8" cy="0.7" rx="0.76" ry="0.88" transform="rotate(180 0.8 0.7)" fill="#c09080"/><ellipse cx="8.1" cy="14.5" rx="0.94" ry="0.59" transform="rotate(59 8.1 14.5)" fill="#c09080"/><ellipse cx="30.3" cy="50.2" rx="1.48" ry="0.81" transform="rotate(169 30.3 50.2)" fill="#c09080"/><ellipse cx="4.7" cy="24.4" rx="1.48" ry="0.66" transform="rotate(88 4.7 24.4)" fill="#c09080"/><ellipse cx="51.9" cy="17.4" rx="1.12" ry="0.53" transform="rotate(50 51.9 17.4)" fill="#c09080"/><ellipse cx="2.2" cy="37.8" rx="0.95" ry="0.51" transform="rotate(63 2.2 37.8)" fill="#c09080"/><ellipse cx="17.7" cy="9.2" rx="0.87" ry="0.55" transform="rotate(152 17.7 9.2)" fill="#c09080"/><ellipse cx="41.4" cy="36.5" rx="0.85" ry="0.53" transform="rotate(87 41.4 36.5)" fill="#c09080"/><ellipse cx="30.7" cy="21.5" rx="1.10" ry="0.68" transform="rotate(82 30.7 21.5)" fill="#c09080"/><ellipse cx="29.4" cy="44.8" rx="1.42" ry="0.84" transform="rotate(120 29.4 44.8)" fill="#c09080"/><ellipse cx="48.0" cy="17.5" rx="1.14" ry="0.84" transform="rotate(127 48.0 17.5)" fill="#c09080"/><ellipse cx="24.7" cy="13.0" rx="1.04" ry="0.66" transform="rotate(84 24.7 13.0)" fill="#c09080"/><ellipse cx="51.1" cy="7.5" rx="1.07" ry="0.50" transform="rotate(147 51.1 7.5)" fill="#c09080"/><ellipse cx="3.7" cy="51.0" rx="0.86" ry="0.58" transform="rotate(114 3.7 51.0)" fill="#c09080"/><ellipse cx="4.8" cy="4.9" rx="1.35" ry="0.80" transform="rotate(103 4.8 4.9)" fill="#c09080"/><ellipse cx="34.3" cy="42.0" rx="1.23" ry="0.55" transform="rotate(20 34.3 42.0)" fill="#c09080"/><ellipse cx="24.8" cy="45.5" rx="1.21" ry="0.59" transform="rotate(33 24.8 45.5)" fill="#c09080"/><ellipse cx="5.8" cy="29.2" rx="1.27" ry="0.69" transform="rotate(134 5.8 29.2)" fill="#c09080"/><ellipse cx="49.4" cy="46.9" rx="1.28" ry="0.74" transform="rotate(155 49.4 46.9)" fill="#c09080"/><ellipse cx="17.2" cy="5.2" rx="1.05" ry="0.63" transform="rotate(165 17.2 5.2)" fill="#c09080"/><ellipse cx="45.5" cy="6.4" rx="0.98" ry="0.54" transform="rotate(68 45.5 6.4)" fill="#c09080"/><ellipse cx="16.0" cy="5.0" rx="1.26" ry="1.00" transform="rotate(0 16.0 5.0)" fill="#a66e54"/><ellipse cx="21.0" cy="10.0" rx="1.16" ry="1.00" transform="rotate(0 21.0 10.0)" fill="#9a6650"/><ellipse cx="16.0" cy="28.5" rx="1.05" ry="1.00" transform="rotate(0 16.0 28.5)" fill="#b07a5e"/><ellipse cx="13.0" cy="20.0" rx="1.47" ry="0.80" transform="rotate(70 13.0 20.0)" fill="#7a5a5a"/><ellipse cx="39.0" cy="29.5" rx="1.47" ry="1.00" transform="rotate(0 39.0 29.5)" fill="#9a6650"/><ellipse cx="32.0" cy="37.5" rx="2.73" ry="0.90" transform="rotate(-20 32.0 37.5)" fill="#b07a5e"/><ellipse cx="38.0" cy="35.5" rx="2.10" ry="0.90" transform="rotate(-10 38.0 35.5)" fill="#a66e54"/><ellipse cx="43.0" cy="40.0" rx="1.26" ry="1.00" transform="rotate(0 43.0 40.0)" fill="#b07a5e"/><ellipse cx="23.5" cy="40.0" rx="0.95" ry="0.90" transform="rotate(0 23.5 40.0)" fill="#a66e54"/><ellipse cx="24.5" cy="46.0" rx="2.31" ry="1.00" transform="rotate(10 24.5 46.0)" fill="#b07a5e"/><ellipse cx="29.5" cy="46.8" rx="1.89" ry="0.90" transform="rotate(-10 29.5 46.8)" fill="#a66e54"/><ellipse cx="29.5" cy="16.0" rx="0.95" ry="0.90" transform="rotate(0 29.5 16.0)" fill="#b07a5e"/><ellipse cx="35.7" cy="16.0" rx="0.95" ry="0.90" transform="rotate(0 35.7 16.0)" fill="#7a5a5a"/><ellipse cx="48.0" cy="2.0" rx="2.10" ry="1.00" transform="rotate(0 48.0 2.0)" fill="#9a6650"/><ellipse cx="6.0" cy="51.0" rx="1.26" ry="0.90" transform="rotate(0 6.0 51.0)" fill="#9a6650"/><ellipse cx="15.0" cy="33.6" rx="0.95" ry="0.90" transform="rotate(0 15.0 33.6)" fill="#a66e54"/><ellipse cx="30.0" cy="24.0" rx="0.84" ry="0.80" transform="rotate(0 30.0 24.0)" fill="#7a5a5a"/><ellipse cx="8.0" cy="40.0" rx="0.84" ry="0.80" transform="rotate(0 8.0 40.0)" fill="#a66e54"/><ellipse cx="46.0" cy="32.0" rx="0.95" ry="0.80" transform="rotate(0 46.0 32.0)" fill="#7a5a5a"/><ellipse cx="36.0" cy="45.0" rx="0.84" ry="0.80" transform="rotate(0 36.0 45.0)" fill="#b07a5e"/><ellipse cx="8.7" cy="11.2" rx="1.9" ry="1.6" fill="#d8b0a0" stroke="#a86a4c" stroke-width="1.3"/><ellipse cx="43" cy="18.5" rx="2.3" ry="2.0" fill="#d8b0a0" stroke="#a86a4c" stroke-width="1.3"/><ellipse cx="19" cy="24" rx="1.2" ry="1.0" fill="#d8b0a0" stroke="#a86a4c" stroke-width="1.3"/><circle cx="14.5" cy="37.1" r="0.40" fill="#9a7a7e"/><circle cx="36.5" cy="38.4" r="0.54" fill="#9a7a7e"/><circle cx="43.8" cy="46.5" r="0.38" fill="#9a7a7e"/><circle cx="20.3" cy="47.1" r="0.60" fill="#9a7a7e"/><circle cx="50.7" cy="8.5" r="0.58" fill="#9a7a7e"/><circle cx="21.5" cy="9.2" r="0.45" fill="#9a7a7e"/><circle cx="14.9" cy="22.2" r="0.42" fill="#9a7a7e"/><circle cx="11.3" cy="43.0" r="0.42" fill="#9a7a7e"/><circle cx="11.9" cy="0.0" r="0.36" fill="#9a7a7e"/><circle cx="39.3" cy="9.6" r="0.41" fill="#9a7a7e"/><circle cx="29.4" cy="25.4" r="0.40" fill="#9a7a7e"/><circle cx="48.9" cy="28.0" r="0.38" fill="#9a7a7e"/><circle cx="26.8" cy="33.5" r="0.46" fill="#9a7a7e"/><circle cx="11.2" cy="46.9" r="0.51" fill="#9a7a7e"/><circle cx="19.4" cy="14.5" r="0.50" fill="#9a7a7e"/><circle cx="38.1" cy="24.7" r="0.41" fill="#9a7a7e"/><circle cx="4.5" cy="46.8" r="0.42" fill="#9a7a7e"/><circle cx="16.4" cy="49.3" r="0.40" fill="#9a7a7e"/><circle cx="31.8" cy="43.6" r="0.56" fill="#9a7a7e"/><circle cx="5.1" cy="46.9" r="0.55" fill="#9a7a7e"/><circle cx="50.4" cy="14.0" r="0.57" fill="#9a7a7e"/><circle cx="11.4" cy="11.8" r="0.36" fill="#9a7a7e"/></g></svg><rect x="185.4" y="268.3" width="155.8" height="52.5" fill="none" stroke="#111" stroke-width="1.15"/><line x1="237" y1="268.3" x2="237" y2="320.8" stroke="#111" stroke-width="1.15"/><line x1="289.3" y1="268.3" x2="289.3" y2="320.8" stroke="#111" stroke-width="1.15"/><rect x="352.3" y="268" width="157.7" height="52.3" fill="none" stroke="#111" stroke-width="1.15"/><line x1="404.8" y1="268" x2="404.8" y2="320.3" stroke="#111" stroke-width="1.15"/><line x1="457.3" y1="268" x2="457.3" y2="320.3" stroke="#111" stroke-width="1.15"/><path d="M211.0 260.7L213.4 264.9L208.6 264.9Z" fill="none" stroke="#333" stroke-width="0.85"/><path d="M263.7 260.7L266.1 264.9L261.3 264.9Z" fill="none" stroke="#333" stroke-width="0.85"/><path d="M315.6 260.7L318.0 264.9L313.2 264.9Z" fill="none" stroke="#333" stroke-width="0.85"/><path d="M378.7 259.5L381.4 262.2L378.7 264.9L376.0 262.2Z" fill="none" stroke="#333" stroke-width="0.85"/><path d="M434.6 259.5L437.3 262.2L434.6 264.9L431.9 262.2Z" fill="none" stroke="#333" stroke-width="0.85"/><path d="M484.6 259.5L487.3 262.2L484.6 264.9L481.9 262.2Z" fill="none" stroke="#333" stroke-width="0.85"/><text x="0" y="0" font-size="8.6" text-anchor="middle" textLength="23.9" lengthAdjust="spacingAndGlyphs" transform="translate(181.9 294.6) rotate(-90)" fill="#111" stroke="#111" stroke-width="0.28">CD163</text><text x="243.9" y="333.7" font-size="7.2" textLength="58.5" lengthAdjust="spacingAndGlyphs" fill="#111" stroke="#111" stroke-width="0.1">Low activated CLL</text><path d="M308.3 328.6L311.1 333.4L305.5 333.4Z" fill="none" stroke="#333" stroke-width="0.85"/><text x="403.8" y="333.5" font-size="7.2" textLength="59.8" lengthAdjust="spacingAndGlyphs" fill="#111" stroke="#111" stroke-width="0.1">High activated CLL</text><path d="M470.0 328.6L472.6 331.2L470.0 333.8L467.4 331.2Z" fill="none" stroke="#333" stroke-width="0.85"/><text x="0.6" y="387.9" font-size="10.6" font-weight="bold" fill="#000" stroke="#000" stroke-width="0.2">D</text><text x="45.3" y="406.3" font-size="7" textLength="29.6" lengthAdjust="spacingAndGlyphs" fill="#111" stroke="#111" stroke-width="0.1">R = 0.53</text><text x="44.9" y="417.9" font-size="7" textLength="39.6" lengthAdjust="spacingAndGlyphs" fill="#111" stroke="#111" stroke-width="0.1"><tspan font-style="italic">p</tspan> = 0.0013</text><text x="82.3" y="519.5" font-size="8.6" textLength="39.2" lengthAdjust="spacingAndGlyphs" fill="#111" stroke="#111" stroke-width="0.28">Activated CLL</text><text x="87.1" y="531.0" font-size="8.6" textLength="29.1" lengthAdjust="spacingAndGlyphs" fill="#111" stroke="#111" stroke-width="0.28">(log<tspan font-size="4.8" dy="1.7">2</tspan><tspan dy="-1.7">CPM)</tspan></text><text x="0" y="0" font-size="8.6" text-anchor="middle" textLength="52.3" lengthAdjust="spacingAndGlyphs" transform="translate(7.0 447.2) rotate(-90)" fill="#111" stroke="#111" stroke-width="0.28">Activated memory</text><text x="0" y="0" font-size="8.6" text-anchor="middle" textLength="49.2" lengthAdjust="spacingAndGlyphs" transform="translate(18.8 447.3) rotate(-90)" fill="#111" stroke="#111" stroke-width="0.28">CD4<tspan font-size="5" dy="-3">+</tspan><tspan dy="3"> T cells (%)</tspan></text><line x1="84.7" y1="495" x2="149.9" y2="450" stroke="#111" stroke-width="1.3" stroke-dasharray="3 2"/><circle cx="149.9" cy="403.1" r="2.25" fill="#f4b62a"/><circle cx="114.1" cy="430.9" r="2.25" fill="#f4b62a"/><circle cx="121.8" cy="449.6" r="2.25" fill="#f4b62a"/><circle cx="133.4" cy="448.3" r="2.25" fill="#f4b62a"/><circle cx="134.8" cy="458" r="2.25" fill="#f4b62a"/><circle cx="114.5" cy="468.9" r="2.25" fill="#f4b62a"/><circle cx="129.3" cy="473.1" r="2.25" fill="#f4b62a"/><circle cx="131.5" cy="474.4" r="2.25" fill="#f4b62a"/><circle cx="142" cy="475" r="2.25" fill="#f4b62a"/><circle cx="81" cy="478.6" r="2.25" fill="#f4b62a"/><circle cx="91.1" cy="480" r="2.25" fill="#f4b62a"/><circle cx="115.9" cy="480.8" r="2.25" fill="#f4b62a"/><circle cx="124.7" cy="481.2" r="2.25" fill="#f4b62a"/><circle cx="92.5" cy="483.3" r="2.25" fill="#f4b62a"/><circle cx="141.3" cy="484.5" r="2.25" fill="#f4b62a"/><circle cx="94.4" cy="486.4" r="2.25" fill="#f4b62a"/><circle cx="98.3" cy="486.4" r="2.25" fill="#f4b62a"/><circle cx="93.5" cy="488.8" r="2.25" fill="#f4b62a"/><circle cx="105" cy="488" r="2.25" fill="#f4b62a"/><circle cx="110.8" cy="488.8" r="2.25" fill="#f4b62a"/><circle cx="117.5" cy="487.9" r="2.25" fill="#f4b62a"/><circle cx="122.3" cy="487.9" r="2.25" fill="#f4b62a"/><circle cx="122.8" cy="485.5" r="2.25" fill="#f4b62a"/><circle cx="128.6" cy="473" r="2.25" fill="#f4b62a"/><circle cx="54" cy="490.9" r="2.25" fill="#f4b62a"/><circle cx="87.7" cy="494.4" r="2.25" fill="#f4b62a"/><circle cx="93.9" cy="494.4" r="2.25" fill="#f4b62a"/><circle cx="98.3" cy="494.2" r="2.25" fill="#f4b62a"/><circle cx="100.7" cy="494.2" r="2.25" fill="#f4b62a"/><circle cx="103" cy="494.2" r="2.25" fill="#f4b62a"/><circle cx="105.5" cy="494.4" r="2.25" fill="#f4b62a"/><circle cx="108.4" cy="494.4" r="2.25" fill="#f4b62a"/><line x1="37" y1="396" x2="37" y2="415.3" stroke="#222" stroke-width="1.45"/><line x1="33.9" y1="415.3" x2="40.1" y2="415.3" stroke="#222" stroke-width="1.2"/><line x1="33.9" y1="424.6" x2="40.1" y2="424.6" stroke="#222" stroke-width="1.2"/><line x1="37" y1="424.6" x2="37" y2="495" stroke="#222" stroke-width="1.45"/><line x1="36.5" y1="494.4" x2="163.5" y2="494.4" stroke="#222" stroke-width="1.35"/><line x1="33.9" y1="400.1" x2="37" y2="400.1" stroke="#222" stroke-width="1.1"/><text x="29.1" y="402.8" font-size="7.6" text-anchor="middle" fill="#111" stroke="#111" stroke-width="0.1">8</text><line x1="33.9" y1="415.3" x2="37" y2="415.3" stroke="#222" stroke-width="1.1"/><text x="29.1" y="418.0" font-size="7.6" text-anchor="middle" fill="#111" stroke="#111" stroke-width="0.1">7</text><line x1="33.9" y1="494.4" x2="37" y2="494.4" stroke="#222" stroke-width="1.1"/><text x="29.1" y="497.09999999999997" font-size="7.6" text-anchor="middle" fill="#111" stroke="#111" stroke-width="0.1">0</text><line x1="33.9" y1="476.95" x2="37" y2="476.95" stroke="#222" stroke-width="1.1"/><text x="29.1" y="479.65" font-size="7.6" text-anchor="middle" fill="#111" stroke="#111" stroke-width="0.1">1</text><line x1="33.9" y1="459.5" x2="37" y2="459.5" stroke="#222" stroke-width="1.1"/><text x="29.1" y="462.2" font-size="7.6" text-anchor="middle" fill="#111" stroke="#111" stroke-width="0.1">2</text><line x1="33.9" y1="442.04999999999995" x2="37" y2="442.04999999999995" stroke="#222" stroke-width="1.1"/><text x="29.1" y="444.74999999999994" font-size="7.6" text-anchor="middle" fill="#111" stroke="#111" stroke-width="0.1">3</text><line x1="33.9" y1="424.59999999999997" x2="37" y2="424.59999999999997" stroke="#222" stroke-width="1.1"/><text x="29.1" y="427.29999999999995" font-size="7.6" text-anchor="middle" fill="#111" stroke="#111" stroke-width="0.1">4</text><line x1="37.5" y1="494.4" x2="37.5" y2="497.5" stroke="#222" stroke-width="1.1"/><text x="37.5" y="506.4" font-size="7.6" text-anchor="middle" fill="#111" stroke="#111" stroke-width="0.1">4</text><line x1="79.0" y1="494.4" x2="79.0" y2="497.5" stroke="#222" stroke-width="1.1"/><text x="79.0" y="506.4" font-size="7.6" text-anchor="middle" fill="#111" stroke="#111" stroke-width="0.1">5</text><line x1="120.5" y1="494.4" x2="120.5" y2="497.5" stroke="#222" stroke-width="1.1"/><text x="120.5" y="506.4" font-size="7.6" text-anchor="middle" fill="#111" stroke="#111" stroke-width="0.1">6</text><line x1="162.0" y1="494.4" x2="162.0" y2="497.5" stroke="#222" stroke-width="1.1"/><text x="162.0" y="506.4" font-size="7.6" text-anchor="middle" fill="#111" stroke="#111" stroke-width="0.1">7</text><text x="173.8" y="387.9" font-size="10.6" font-weight="bold" fill="#000" stroke="#000" stroke-width="0.2">E</text><defs><filter id="fb" x="-40%" y="-40%" width="180%" height="180%"><feGaussianBlur stdDeviation="1.4"/></filter><filter id="fb2" x="-40%" y="-40%" width="180%" height="180%"><feGaussianBlur stdDeviation="1.0"/></filter><filter id="fb3" x="-40%" y="-40%" width="180%" height="180%"><feGaussianBlur stdDeviation="0.6"/></filter><clipPath id="cp1"><rect x="204.3" y="410" width="82" height="81.9"/></clipPath><clipPath id="cp2"><rect x="319.8" y="410.2" width="82.3" height="80.9"/></clipPath></defs><g clip-path="url(#cp1)"><circle cx="260.4" cy="436.0" r="0.5" fill="#5577d6"/><circle cx="248.3" cy="441.0" r="0.5" fill="#5577d6"/><circle cx="244.2" cy="451.2" r="0.5" fill="#5577d6"/><circle cx="244.1" cy="456.5" r="0.5" fill="#5577d6"/><circle cx="269.4" cy="448.8" r="0.5" fill="#5577d6"/><circle cx="263.8" cy="449.1" r="0.5" fill="#5577d6"/><circle cx="248.6" cy="452.1" r="0.5" fill="#5577d6"/><circle cx="260.6" cy="445.1" r="0.5" fill="#5577d6"/><circle cx="254.2" cy="451.6" r="0.5" fill="#5577d6"/><circle cx="253.0" cy="463.9" r="0.5" fill="#5577d6"/><circle cx="275.0" cy="453.7" r="0.5" fill="#5577d6"/><circle cx="243.9" cy="441.9" r="0.5" fill="#5577d6"/><circle cx="245.3" cy="469.7" r="0.5" fill="#5577d6"/><circle cx="244.5" cy="465.1" r="0.5" fill="#5577d6"/><circle cx="265.2" cy="456.9" r="0.5" fill="#5577d6"/><circle cx="248.6" cy="451.5" r="0.5" fill="#5577d6"/><circle cx="245.2" cy="447.8" r="0.5" fill="#5577d6"/><circle cx="249.6" cy="449.4" r="0.5" fill="#5577d6"/><circle cx="249.5" cy="439.9" r="0.5" fill="#5577d6"/><circle cx="249.6" cy="451.3" r="0.5" fill="#5577d6"/><circle cx="253.3" cy="465.3" r="0.5" fill="#5577d6"/><circle cx="244.1" cy="446.9" r="0.5" fill="#5577d6"/><circle cx="256.7" cy="449.2" r="0.5" fill="#5577d6"/><circle cx="248.2" cy="453.0" r="0.5" fill="#5577d6"/><circle cx="248.8" cy="467.4" r="0.5" fill="#5577d6"/><circle cx="259.0" cy="447.1" r="0.5" fill="#5577d6"/><circle cx="241.7" cy="457.7" r="0.5" fill="#5577d6"/><circle cx="243.1" cy="456.7" r="0.5" fill="#5577d6"/><circle cx="265.2" cy="458.2" r="0.5" fill="#5577d6"/><circle cx="240.7" cy="451.0" r="0.5" fill="#5577d6"/><circle cx="247.9" cy="460.5" r="0.5" fill="#5577d6"/><circle cx="271.1" cy="448.5" r="0.5" fill="#5577d6"/><circle cx="240.8" cy="449.8" r="0.5" fill="#5577d6"/><circle cx="254.4" cy="455.1" r="0.5" fill="#5577d6"/><circle cx="243.6" cy="459.1" r="0.5" fill="#5577d6"/><circle cx="241.3" cy="449.2" r="0.5" fill="#5577d6"/><circle cx="261.6" cy="453.5" r="0.5" fill="#5577d6"/><circle cx="251.5" cy="458.6" r="0.5" fill="#5577d6"/><circle cx="249.1" cy="452.5" r="0.5" fill="#5577d6"/><circle cx="254.7" cy="445.0" r="0.5" fill="#5577d6"/><circle cx="272.0" cy="457.6" r="0.5" fill="#5577d6"/><circle cx="260.3" cy="450.1" r="0.5" fill="#5577d6"/><circle cx="249.6" cy="442.6" r="0.5" fill="#5577d6"/><circle cx="284.2" cy="449.3" r="0.5" fill="#5577d6"/><circle cx="279.3" cy="452.8" r="0.5" fill="#5577d6"/><circle cx="240.9" cy="449.1" r="0.5" fill="#5577d6"/><circle cx="260.5" cy="466.1" r="0.5" fill="#5577d6"/><circle cx="246.3" cy="454.3" r="0.5" fill="#5577d6"/><circle cx="270.8" cy="454.6" r="0.5" fill="#5577d6"/><circle cx="240.5" cy="460.6" r="0.5" fill="#5577d6"/><circle cx="272.1" cy="454.5" r="0.5" fill="#5577d6"/><circle cx="280.8" cy="444.8" r="0.5" fill="#5577d6"/><circle cx="254.4" cy="464.8" r="0.5" fill="#5577d6"/><circle cx="243.7" cy="443.6" r="0.5" fill="#5577d6"/><circle cx="264.8" cy="453.0" r="0.5" fill="#5577d6"/><circle cx="276.4" cy="443.6" r="0.5" fill="#5577d6"/><circle cx="246.3" cy="458.3" r="0.5" fill="#5577d6"/><circle cx="253.1" cy="454.8" r="0.5" fill="#5577d6"/><circle cx="254.0" cy="449.9" r="0.5" fill="#5577d6"/><circle cx="267.2" cy="460.8" r="0.5" fill="#5577d6"/><circle cx="265.3" cy="451.2" r="0.5" fill="#5577d6"/><circle cx="252.1" cy="448.0" r="0.5" fill="#5577d6"/><circle cx="281.6" cy="456.3" r="0.5" fill="#5577d6"/><circle cx="275.1" cy="456.7" r="0.5" fill="#5577d6"/><circle cx="270.9" cy="452.7" r="0.5" fill="#5577d6"/><circle cx="245.5" cy="449.5" r="0.5" fill="#5577d6"/><circle cx="251.3" cy="455.1" r="0.5" fill="#5577d6"/><circle cx="256.9" cy="460.9" r="0.5" fill="#5577d6"/><circle cx="278.3" cy="441.1" r="0.5" fill="#5577d6"/><circle cx="251.7" cy="456.3" r="0.5" fill="#5577d6"/><circle cx="277.4" cy="440.7" r="0.5" fill="#5577d6"/><circle cx="240.8" cy="455.7" r="0.5" fill="#5577d6"/><circle cx="283.6" cy="462.3" r="0.5" fill="#5577d6"/><circle cx="248.5" cy="442.8" r="0.5" fill="#5577d6"/><circle cx="244.8" cy="461.7" r="0.5" fill="#5577d6"/><circle cx="265.6" cy="454.2" r="0.5" fill="#5577d6"/><circle cx="281.7" cy="465.2" r="0.5" fill="#5577d6"/><circle cx="242.8" cy="460.4" r="0.5" fill="#5577d6"/><circle cx="254.7" cy="449.4" r="0.5" fill="#5577d6"/><circle cx="263.2" cy="442.8" r="0.5" fill="#5577d6"/><circle cx="248.2" cy="439.7" r="0.5" fill="#5577d6"/><circle cx="248.8" cy="455.7" r="0.5" fill="#5577d6"/><circle cx="240.5" cy="455.1" r="0.5" fill="#5577d6"/><circle cx="270.0" cy="448.2" r="0.5" fill="#5577d6"/><circle cx="269.7" cy="443.7" r="0.5" fill="#5577d6"/><circle cx="271.6" cy="453.5" r="0.5" fill="#5577d6"/><circle cx="251.5" cy="450.0" r="0.5" fill="#5577d6"/><circle cx="256.9" cy="453.4" r="0.5" fill="#5577d6"/><circle cx="251.3" cy="460.1" r="0.5" fill="#5577d6"/><circle cx="284.8" cy="443.6" r="0.5" fill="#5577d6"/><circle cx="242.0" cy="456.3" r="0.5" fill="#5577d6"/><circle cx="247.6" cy="450.0" r="0.5" fill="#5577d6"/><circle cx="267.5" cy="468.8" r="0.5" fill="#5577d6"/><circle cx="256.5" cy="449.5" r="0.5" fill="#5577d6"/><circle cx="252.8" cy="463.0" r="0.5" fill="#5577d6"/><circle cx="253.3" cy="457.8" r="0.5" fill="#5577d6"/><circle cx="247.0" cy="452.5" r="0.5" fill="#5577d6"/><circle cx="257.5" cy="462.2" r="0.5" fill="#5577d6"/><circle cx="243.3" cy="459.0" r="0.5" fill="#5577d6"/><circle cx="263.6" cy="463.1" r="0.5" fill="#5577d6"/><circle cx="267.2" cy="459.8" r="0.5" fill="#5577d6"/><circle cx="249.2" cy="459.2" r="0.5" fill="#5577d6"/><circle cx="260.5" cy="457.8" r="0.5" fill="#5577d6"/><circle cx="256.2" cy="450.4" r="0.5" fill="#5577d6"/><circle cx="241.8" cy="457.9" r="0.5" fill="#5577d6"/><circle cx="268.1" cy="454.2" r="0.5" fill="#5577d6"/><circle cx="256.8" cy="446.8" r="0.5" fill="#5577d6"/><circle cx="243.3" cy="462.5" r="0.5" fill="#5577d6"/><circle cx="274.6" cy="461.1" r="0.5" fill="#5577d6"/><circle cx="259.1" cy="451.3" r="0.5" fill="#5577d6"/><circle cx="259.2" cy="448.2" r="0.5" fill="#5577d6"/><circle cx="244.4" cy="454.3" r="0.5" fill="#5577d6"/><circle cx="265.4" cy="449.9" r="0.5" fill="#5577d6"/><circle cx="270.8" cy="448.1" r="0.5" fill="#5577d6"/><circle cx="249.6" cy="464.9" r="0.5" fill="#5577d6"/><circle cx="243.7" cy="447.8" r="0.5" fill="#5577d6"/><circle cx="252.7" cy="463.7" r="0.5" fill="#5577d6"/><circle cx="256.1" cy="450.9" r="0.5" fill="#5577d6"/><circle cx="251.2" cy="462.7" r="0.5" fill="#5577d6"/><circle cx="256.5" cy="447.0" r="0.5" fill="#5577d6"/><circle cx="248.8" cy="457.9" r="0.5" fill="#5577d6"/><circle cx="247.9" cy="448.2" r="0.5" fill="#5577d6"/><circle cx="283.5" cy="444.5" r="0.5" fill="#5577d6"/><circle cx="243.8" cy="463.3" r="0.5" fill="#5577d6"/><circle cx="243.8" cy="458.4" r="0.5" fill="#5577d6"/><circle cx="246.5" cy="451.7" r="0.5" fill="#5577d6"/><circle cx="249.9" cy="440.7" r="0.5" fill="#5577d6"/><circle cx="263.5" cy="452.7" r="0.5" fill="#5577d6"/><circle cx="256.9" cy="462.0" r="0.5" fill="#5577d6"/><circle cx="242.7" cy="455.0" r="0.5" fill="#5577d6"/><circle cx="245.2" cy="443.8" r="0.5" fill="#5577d6"/><circle cx="242.8" cy="441.0" r="0.5" fill="#5577d6"/><circle cx="266.3" cy="453.7" r="0.5" fill="#5577d6"/><circle cx="248.3" cy="450.8" r="0.5" fill="#5577d6"/><circle cx="250.6" cy="449.9" r="0.5" fill="#5577d6"/><circle cx="248.3" cy="441.7" r="0.5" fill="#5577d6"/><circle cx="247.8" cy="452.3" r="0.5" fill="#5577d6"/><circle cx="251.7" cy="465.1" r="0.5" fill="#5577d6"/><circle cx="269.6" cy="451.4" r="0.5" fill="#5577d6"/><circle cx="240.5" cy="444.4" r="0.5" fill="#5577d6"/><circle cx="247.1" cy="455.8" r="0.5" fill="#5577d6"/><circle cx="246.8" cy="451.7" r="0.5" fill="#5577d6"/><circle cx="240.1" cy="458.7" r="0.5" fill="#5577d6"/><circle cx="243.7" cy="438.2" r="0.5" fill="#5577d6"/><circle cx="281.3" cy="464.0" r="0.5" fill="#5577d6"/><circle cx="247.1" cy="461.5" r="0.5" fill="#5577d6"/><circle cx="254.0" cy="450.9" r="0.5" fill="#5577d6"/><circle cx="256.2" cy="450.6" r="0.5" fill="#5577d6"/><circle cx="272.0" cy="451.0" r="0.5" fill="#5577d6"/><circle cx="276.0" cy="452.3" r="0.5" fill="#5577d6"/><circle cx="253.4" cy="459.3" r="0.5" fill="#5577d6"/><circle cx="257.6" cy="449.1" r="0.5" fill="#5577d6"/><circle cx="272.9" cy="447.1" r="0.5" fill="#5577d6"/><circle cx="277.2" cy="447.5" r="0.5" fill="#5577d6"/><circle cx="246.3" cy="461.8" r="0.5" fill="#5577d6"/><circle cx="248.1" cy="458.6" r="0.5" fill="#5577d6"/><circle cx="277.7" cy="449.4" r="0.5" fill="#5577d6"/><circle cx="247.1" cy="450.1" r="0.5" fill="#5577d6"/><circle cx="258.3" cy="467.4" r="0.5" fill="#5577d6"/><circle cx="258.5" cy="445.2" r="0.5" fill="#5577d6"/><circle cx="240.8" cy="448.4" r="0.5" fill="#5577d6"/><circle cx="244.8" cy="458.3" r="0.5" fill="#5577d6"/><circle cx="247.1" cy="437.8" r="0.5" fill="#5577d6"/><circle cx="246.4" cy="449.8" r="0.5" fill="#5577d6"/><circle cx="268.2" cy="453.0" r="0.5" fill="#5577d6"/><circle cx="254.8" cy="458.6" r="0.5" fill="#5577d6"/><circle cx="246.1" cy="460.1" r="0.5" fill="#5577d6"/><circle cx="265.2" cy="446.7" r="0.5" fill="#5577d6"/><circle cx="245.5" cy="451.3" r="0.5" fill="#5577d6"/><circle cx="253.0" cy="456.6" r="0.5" fill="#5577d6"/><circle cx="277.4" cy="448.8" r="0.5" fill="#5577d6"/><circle cx="264.7" cy="453.7" r="0.5" fill="#5577d6"/><circle cx="257.2" cy="462.7" r="0.5" fill="#5577d6"/><circle cx="246.4" cy="452.5" r="0.5" fill="#5577d6"/><circle cx="265.6" cy="456.2" r="0.5" fill="#5577d6"/><circle cx="265.6" cy="460.0" r="0.5" fill="#5577d6"/><circle cx="268.9" cy="462.8" r="0.5" fill="#5577d6"/><circle cx="258.4" cy="451.5" r="0.5" fill="#5577d6"/><circle cx="273.8" cy="448.7" r="0.5" fill="#5577d6"/><circle cx="245.6" cy="462.0" r="0.5" fill="#5577d6"/><circle cx="263.7" cy="453.5" r="0.5" fill="#5577d6"/><circle cx="253.8" cy="447.5" r="0.5" fill="#5577d6"/><circle cx="250.0" cy="445.9" r="0.5" fill="#5577d6"/><circle cx="245.6" cy="450.0" r="0.5" fill="#5577d6"/><circle cx="254.6" cy="452.0" r="0.5" fill="#5577d6"/><circle cx="266.3" cy="445.1" r="0.5" fill="#5577d6"/><circle cx="241.4" cy="457.5" r="0.5" fill="#5577d6"/><circle cx="277.7" cy="447.0" r="0.5" fill="#5577d6"/><circle cx="242.3" cy="448.2" r="0.5" fill="#5577d6"/><circle cx="272.1" cy="466.6" r="0.5" fill="#5577d6"/><circle cx="271.3" cy="459.4" r="0.5" fill="#5577d6"/><circle cx="250.0" cy="448.8" r="0.5" fill="#5577d6"/><circle cx="272.0" cy="453.5" r="0.5" fill="#5577d6"/><circle cx="256.8" cy="443.6" r="0.5" fill="#5577d6"/><circle cx="250.3" cy="438.2" r="0.5" fill="#5577d6"/><circle cx="259.8" cy="442.8" r="0.5" fill="#5577d6"/><circle cx="267.0" cy="450.4" r="0.5" fill="#5577d6"/><circle cx="251.3" cy="453.1" r="0.5" fill="#5577d6"/><circle cx="274.0" cy="449.0" r="0.5" fill="#5577d6"/><circle cx="284.4" cy="450.6" r="0.5" fill="#5577d6"/><circle cx="262.5" cy="444.6" r="0.5" fill="#5577d6"/><circle cx="262.8" cy="458.5" r="0.5" fill="#5577d6"/><circle cx="275.1" cy="457.1" r="0.5" fill="#5577d6"/><circle cx="250.0" cy="446.5" r="0.5" fill="#5577d6"/><circle cx="248.1" cy="452.9" r="0.5" fill="#5577d6"/><circle cx="259.6" cy="453.2" r="0.5" fill="#5577d6"/><circle cx="241.9" cy="456.5" r="0.5" fill="#5577d6"/><circle cx="244.0" cy="451.0" r="0.5" fill="#5577d6"/><circle cx="247.7" cy="451.9" r="0.5" fill="#5577d6"/><circle cx="242.8" cy="445.6" r="0.5" fill="#5577d6"/><circle cx="283.7" cy="455.6" r="0.5" fill="#5577d6"/><circle cx="262.0" cy="453.6" r="0.5" fill="#5577d6"/><circle cx="241.8" cy="453.0" r="0.5" fill="#5577d6"/><circle cx="257.7" cy="468.0" r="0.5" fill="#5577d6"/><circle cx="250.3" cy="451.8" r="0.5" fill="#5577d6"/><circle cx="256.4" cy="440.7" r="0.5" fill="#5577d6"/><circle cx="241.8" cy="471.2" r="0.5" fill="#5577d6"/><circle cx="249.7" cy="449.1" r="0.5" fill="#5577d6"/><circle cx="247.4" cy="456.1" r="0.5" fill="#5577d6"/><circle cx="249.7" cy="445.4" r="0.5" fill="#5577d6"/><circle cx="278.8" cy="454.0" r="0.5" fill="#5577d6"/><circle cx="271.1" cy="459.0" r="0.5" fill="#5577d6"/><circle cx="252.4" cy="456.9" r="0.5" fill="#5577d6"/><circle cx="272.2" cy="451.2" r="0.5" fill="#5577d6"/><circle cx="274.5" cy="449.4" r="0.5" fill="#5577d6"/><circle cx="254.5" cy="435.4" r="0.5" fill="#5577d6"/><circle cx="243.7" cy="457.2" r="0.5" fill="#5577d6"/><circle cx="263.4" cy="447.5" r="0.5" fill="#5577d6"/><circle cx="257.7" cy="452.2" r="0.5" fill="#5577d6"/><circle cx="266.8" cy="454.1" r="0.5" fill="#5577d6"/><circle cx="254.1" cy="443.4" r="0.5" fill="#5577d6"/><circle cx="271.8" cy="456.2" r="0.5" fill="#5577d6"/><circle cx="272.6" cy="449.9" r="0.5" fill="#5577d6"/><circle cx="252.6" cy="448.2" r="0.5" fill="#5577d6"/><circle cx="258.2" cy="440.4" r="0.5" fill="#5577d6"/><circle cx="253.1" cy="462.1" r="0.5" fill="#5577d6"/><circle cx="249.7" cy="453.7" r="0.5" fill="#5577d6"/><circle cx="249.7" cy="463.1" r="0.5" fill="#5577d6"/><circle cx="270.0" cy="466.3" r="0.5" fill="#5577d6"/><circle cx="268.5" cy="447.8" r="0.5" fill="#5577d6"/><circle cx="259.2" cy="449.9" r="0.5" fill="#5577d6"/><circle cx="254.8" cy="453.7" r="0.5" fill="#5577d6"/><circle cx="252.6" cy="456.3" r="0.5" fill="#5577d6"/><circle cx="247.5" cy="458.7" r="0.5" fill="#5577d6"/><circle cx="250.8" cy="457.9" r="0.5" fill="#5577d6"/><circle cx="246.8" cy="456.0" r="0.5" fill="#5577d6"/><circle cx="271.6" cy="441.2" r="0.5" fill="#5577d6"/><circle cx="257.6" cy="448.1" r="0.5" fill="#5577d6"/><circle cx="242.8" cy="449.8" r="0.5" fill="#5577d6"/><circle cx="266.4" cy="453.4" r="0.5" fill="#5577d6"/><circle cx="254.6" cy="452.0" r="0.5" fill="#5577d6"/><circle cx="251.8" cy="449.5" r="0.5" fill="#5577d6"/><circle cx="253.9" cy="453.0" r="0.5" fill="#5577d6"/><circle cx="270.6" cy="455.9" r="0.5" fill="#5577d6"/><circle cx="240.0" cy="444.3" r="0.5" fill="#5577d6"/><circle cx="256.6" cy="449.2" r="0.5" fill="#5577d6"/><circle cx="250.7" cy="464.6" r="0.5" fill="#5577d6"/><circle cx="254.6" cy="456.1" r="0.5" fill="#5577d6"/><circle cx="242.8" cy="460.6" r="0.5" fill="#5577d6"/><circle cx="244.6" cy="450.9" r="0.5" fill="#5577d6"/><circle cx="247.3" cy="462.6" r="0.5" fill="#5577d6"/><circle cx="251.4" cy="440.3" r="0.5" fill="#5577d6"/><circle cx="275.8" cy="443.0" r="0.5" fill="#5577d6"/><circle cx="272.2" cy="459.3" r="0.5" fill="#5577d6"/><circle cx="265.5" cy="437.6" r="0.5" fill="#5577d6"/><circle cx="245.6" cy="441.6" r="0.5" fill="#5577d6"/><circle cx="270.1" cy="452.6" r="0.5" fill="#5577d6"/><circle cx="268.4" cy="460.4" r="0.5" fill="#5577d6"/><circle cx="245.3" cy="451.8" r="0.5" fill="#5577d6"/><circle cx="252.9" cy="449.1" r="0.5" fill="#5577d6"/><circle cx="254.9" cy="427.7" r="0.5" fill="#5577d6"/><circle cx="264.4" cy="444.8" r="0.5" fill="#5577d6"/><circle cx="271.2" cy="439.3" r="0.5" fill="#5577d6"/><circle cx="247.9" cy="448.0" r="0.5" fill="#5577d6"/><circle cx="282.0" cy="451.9" r="0.5" fill="#5577d6"/><circle cx="254.6" cy="460.9" r="0.5" fill="#5577d6"/><circle cx="265.5" cy="458.5" r="0.5" fill="#5577d6"/><circle cx="250.2" cy="460.6" r="0.5" fill="#5577d6"/><circle cx="256.5" cy="451.9" r="0.5" fill="#5577d6"/><circle cx="261.8" cy="440.2" r="0.5" fill="#5577d6"/><circle cx="242.6" cy="459.4" r="0.5" fill="#5577d6"/><circle cx="259.9" cy="458.1" r="0.5" fill="#5577d6"/><circle cx="241.2" cy="440.9" r="0.5" fill="#5577d6"/><circle cx="245.3" cy="458.6" r="0.5" fill="#5577d6"/><circle cx="254.0" cy="455.3" r="0.5" fill="#5577d6"/><circle cx="240.5" cy="457.0" r="0.5" fill="#5577d6"/><circle cx="271.7" cy="462.7" r="0.5" fill="#5577d6"/><circle cx="257.5" cy="453.5" r="0.5" fill="#5577d6"/><circle cx="255.9" cy="445.2" r="0.5" fill="#5577d6"/><circle cx="273.4" cy="454.9" r="0.5" fill="#5577d6"/><circle cx="273.4" cy="441.4" r="0.5" fill="#5577d6"/><circle cx="244.8" cy="448.6" r="0.5" fill="#5577d6"/><circle cx="255.8" cy="451.0" r="0.5" fill="#5577d6"/><circle cx="258.2" cy="452.4" r="0.5" fill="#5577d6"/><circle cx="249.9" cy="451.4" r="0.5" fill="#5577d6"/><circle cx="248.3" cy="437.3" r="0.5" fill="#5577d6"/><circle cx="268.6" cy="469.5" r="0.5" fill="#5577d6"/><circle cx="269.9" cy="445.6" r="0.5" fill="#5577d6"/><circle cx="263.2" cy="462.4" r="0.5" fill="#5577d6"/><circle cx="273.2" cy="458.7" r="0.5" fill="#5577d6"/><circle cx="275.9" cy="428.9" r="0.5" fill="#5577d6"/><circle cx="251.3" cy="455.0" r="0.5" fill="#5577d6"/><circle cx="278.9" cy="444.6" r="0.5" fill="#5577d6"/><circle cx="252.6" cy="450.1" r="0.5" fill="#5577d6"/><circle cx="250.9" cy="456.7" r="0.5" fill="#5577d6"/><circle cx="275.9" cy="456.0" r="0.5" fill="#5577d6"/><circle cx="241.7" cy="458.2" r="0.5" fill="#5577d6"/><circle cx="278.9" cy="453.8" r="0.5" fill="#5577d6"/><circle cx="249.3" cy="450.3" r="0.5" fill="#5577d6"/><circle cx="259.4" cy="447.0" r="0.5" fill="#5577d6"/><circle cx="255.3" cy="447.7" r="0.5" fill="#5577d6"/><circle cx="248.1" cy="460.4" r="0.5" fill="#5577d6"/><circle cx="245.8" cy="460.7" r="0.5" fill="#5577d6"/><circle cx="246.6" cy="457.2" r="0.5" fill="#5577d6"/><circle cx="259.1" cy="455.3" r="0.5" fill="#5577d6"/><circle cx="255.6" cy="450.4" r="0.5" fill="#5577d6"/><circle cx="252.9" cy="459.1" r="0.5" fill="#5577d6"/><circle cx="273.4" cy="445.6" r="0.5" fill="#5577d6"/><circle cx="258.9" cy="447.1" r="0.5" fill="#5577d6"/><circle cx="270.2" cy="450.3" r="0.5" fill="#5577d6"/><circle cx="258.5" cy="462.9" r="0.5" fill="#5577d6"/><circle cx="258.9" cy="464.0" r="0.5" fill="#5577d6"/><circle cx="244.5" cy="443.5" r="0.5" fill="#5577d6"/><circle cx="244.0" cy="447.0" r="0.5" fill="#5577d6"/><circle cx="270.1" cy="457.4" r="0.5" fill="#5577d6"/><circle cx="261.1" cy="451.5" r="0.5" fill="#5577d6"/><circle cx="243.0" cy="444.2" r="0.5" fill="#5577d6"/><circle cx="249.4" cy="449.0" r="0.5" fill="#5577d6"/><circle cx="273.4" cy="455.0" r="0.5" fill="#5577d6"/><circle cx="247.5" cy="445.5" r="0.5" fill="#5577d6"/><circle cx="240.7" cy="448.0" r="0.5" fill="#5577d6"/><circle cx="245.0" cy="453.6" r="0.5" fill="#5577d6"/><circle cx="245.6" cy="445.5" r="0.5" fill="#5577d6"/><circle cx="245.8" cy="460.0" r="0.5" fill="#5577d6"/><circle cx="275.0" cy="456.6" r="0.5" fill="#5577d6"/><circle cx="258.6" cy="457.0" r="0.5" fill="#5577d6"/><circle cx="265.1" cy="453.8" r="0.5" fill="#5577d6"/><circle cx="278.3" cy="463.2" r="0.5" fill="#5577d6"/><circle cx="258.6" cy="442.1" r="0.5" fill="#5577d6"/><circle cx="246.9" cy="457.3" r="0.5" fill="#5577d6"/><circle cx="247.0" cy="440.4" r="0.5" fill="#5577d6"/><circle cx="241.3" cy="457.2" r="0.5" fill="#5577d6"/><circle cx="242.1" cy="449.2" r="0.5" fill="#5577d6"/><circle cx="262.5" cy="458.2" r="0.5" fill="#5577d6"/><circle cx="273.3" cy="447.8" r="0.5" fill="#5577d6"/><circle cx="256.6" cy="444.1" r="0.5" fill="#5577d6"/><circle cx="259.4" cy="455.7" r="0.5" fill="#5577d6"/><circle cx="242.2" cy="453.5" r="0.5" fill="#5577d6"/><circle cx="264.6" cy="449.7" r="0.5" fill="#5577d6"/><circle cx="250.0" cy="458.1" r="0.5" fill="#5577d6"/><circle cx="261.8" cy="456.3" r="0.5" fill="#5577d6"/><circle cx="283.5" cy="452.1" r="0.5" fill="#5577d6"/><circle cx="256.6" cy="450.2" r="0.5" fill="#5577d6"/><circle cx="242.4" cy="457.1" r="0.5" fill="#5577d6"/><circle cx="242.6" cy="452.2" r="0.5" fill="#5577d6"/><circle cx="266.1" cy="454.4" r="0.5" fill="#5577d6"/><circle cx="281.3" cy="457.3" r="0.5" fill="#5577d6"/><circle cx="260.1" cy="456.6" r="0.5" fill="#5577d6"/><circle cx="245.3" cy="446.5" r="0.5" fill="#5577d6"/><circle cx="245.2" cy="463.6" r="0.5" fill="#5577d6"/><circle cx="270.0" cy="448.5" r="0.5" fill="#5577d6"/><circle cx="265.2" cy="456.6" r="0.5" fill="#5577d6"/><circle cx="245.6" cy="458.3" r="0.5" fill="#5577d6"/><circle cx="259.4" cy="445.9" r="0.5" fill="#5577d6"/><circle cx="244.7" cy="451.8" r="0.5" fill="#5577d6"/><circle cx="249.1" cy="447.3" r="0.5" fill="#5577d6"/><circle cx="247.4" cy="445.8" r="0.5" fill="#5577d6"/><circle cx="257.5" cy="460.3" r="0.5" fill="#5577d6"/><circle cx="265.9" cy="457.8" r="0.5" fill="#5577d6"/><circle cx="242.9" cy="455.5" r="0.5" fill="#5577d6"/><circle cx="265.2" cy="468.2" r="0.5" fill="#5577d6"/><circle cx="261.9" cy="449.5" r="0.5" fill="#5577d6"/><circle cx="241.6" cy="456.1" r="0.5" fill="#5577d6"/><circle cx="265.6" cy="445.6" r="0.5" fill="#5577d6"/><circle cx="276.3" cy="462.4" r="0.5" fill="#5577d6"/><circle cx="249.0" cy="459.9" r="0.5" fill="#5577d6"/><circle cx="272.7" cy="451.5" r="0.5" fill="#5577d6"/><circle cx="264.2" cy="457.7" r="0.5" fill="#5577d6"/><circle cx="253.2" cy="451.9" r="0.5" fill="#5577d6"/><circle cx="252.3" cy="456.1" r="0.5" fill="#5577d6"/><circle cx="252.5" cy="436.3" r="0.5" fill="#5577d6"/><circle cx="237.7" cy="460.8" r="0.45" fill="#6a88dc"/><circle cx="219.3" cy="461.6" r="0.45" fill="#6a88dc"/><circle cx="252.7" cy="447.3" r="0.45" fill="#6a88dc"/><circle cx="223.3" cy="447.6" r="0.45" fill="#6a88dc"/><circle cx="240.1" cy="472.9" r="0.45" fill="#6a88dc"/><circle cx="263.4" cy="464.7" r="0.45" fill="#6a88dc"/><circle cx="232.8" cy="448.1" r="0.45" fill="#6a88dc"/><circle cx="241.7" cy="448.6" r="0.45" fill="#6a88dc"/><circle cx="229.1" cy="449.2" r="0.45" fill="#6a88dc"/><circle cx="248.9" cy="450.5" r="0.45" fill="#6a88dc"/><circle cx="239.7" cy="448.7" r="0.45" fill="#6a88dc"/><circle cx="233.2" cy="448.1" r="0.45" fill="#6a88dc"/><circle cx="255.2" cy="453.2" r="0.45" fill="#6a88dc"/><circle cx="258.7" cy="449.5" r="0.45" fill="#6a88dc"/><circle cx="252.2" cy="438.6" r="0.45" fill="#6a88dc"/><circle cx="230.0" cy="450.5" r="0.45" fill="#6a88dc"/><circle cx="226.6" cy="450.0" r="0.45" fill="#6a88dc"/><circle cx="222.2" cy="449.6" r="0.45" fill="#6a88dc"/><circle cx="226.0" cy="451.0" r="0.45" fill="#6a88dc"/><circle cx="231.7" cy="442.0" r="0.45" fill="#6a88dc"/><circle cx="230.0" cy="451.3" r="0.45" fill="#6a88dc"/><circle cx="216.9" cy="451.9" r="0.45" fill="#6a88dc"/><circle cx="255.0" cy="449.0" r="0.45" fill="#6a88dc"/><circle cx="244.4" cy="456.7" r="0.45" fill="#6a88dc"/><circle cx="224.0" cy="463.0" r="0.45" fill="#6a88dc"/><circle cx="274.0" cy="441.8" r="0.45" fill="#6a88dc"/><circle cx="268.5" cy="444.7" r="0.45" fill="#6a88dc"/><circle cx="258.1" cy="434.7" r="0.45" fill="#6a88dc"/><circle cx="253.3" cy="452.3" r="0.45" fill="#6a88dc"/><circle cx="216.8" cy="443.6" r="0.45" fill="#6a88dc"/><circle cx="220.3" cy="442.9" r="0.45" fill="#6a88dc"/><circle cx="241.8" cy="449.4" r="0.45" fill="#6a88dc"/><circle cx="198.3" cy="448.3" r="0.45" fill="#6a88dc"/><circle cx="243.2" cy="451.9" r="0.45" fill="#6a88dc"/><circle cx="261.6" cy="434.4" r="0.45" fill="#6a88dc"/><circle cx="239.8" cy="451.3" r="0.45" fill="#6a88dc"/><circle cx="247.0" cy="438.9" r="0.45" fill="#6a88dc"/><circle cx="216.4" cy="449.5" r="0.45" fill="#6a88dc"/><circle cx="237.3" cy="434.7" r="0.45" fill="#6a88dc"/><circle cx="241.6" cy="451.0" r="0.45" fill="#6a88dc"/><circle cx="247.2" cy="427.4" r="0.45" fill="#6a88dc"/><circle cx="243.7" cy="443.0" r="0.45" fill="#6a88dc"/><circle cx="228.9" cy="458.1" r="0.45" fill="#6a88dc"/><circle cx="261.6" cy="452.4" r="0.45" fill="#6a88dc"/><circle cx="234.5" cy="462.9" r="0.45" fill="#6a88dc"/><circle cx="222.6" cy="449.7" r="0.45" fill="#6a88dc"/><circle cx="228.5" cy="442.2" r="0.45" fill="#6a88dc"/><circle cx="239.0" cy="469.5" r="0.45" fill="#6a88dc"/><circle cx="239.8" cy="455.6" r="0.45" fill="#6a88dc"/><circle cx="235.6" cy="461.3" r="0.45" fill="#6a88dc"/><circle cx="238.8" cy="443.1" r="0.45" fill="#6a88dc"/><circle cx="237.6" cy="464.1" r="0.45" fill="#6a88dc"/><circle cx="234.8" cy="461.9" r="0.45" fill="#6a88dc"/><circle cx="235.0" cy="469.4" r="0.45" fill="#6a88dc"/><circle cx="240.4" cy="457.0" r="0.45" fill="#6a88dc"/><circle cx="231.7" cy="458.6" r="0.45" fill="#6a88dc"/><circle cx="232.7" cy="437.7" r="0.45" fill="#6a88dc"/><circle cx="240.7" cy="440.1" r="0.45" fill="#6a88dc"/><circle cx="258.4" cy="458.2" r="0.45" fill="#6a88dc"/><circle cx="236.4" cy="457.3" r="0.45" fill="#6a88dc"/><circle cx="197.0" cy="465.0" r="0.45" fill="#6a88dc"/><circle cx="226.3" cy="457.1" r="0.45" fill="#6a88dc"/><circle cx="274.8" cy="436.4" r="0.45" fill="#6a88dc"/><circle cx="229.9" cy="454.2" r="0.45" fill="#6a88dc"/><circle cx="242.5" cy="435.8" r="0.45" fill="#6a88dc"/><circle cx="222.1" cy="464.5" r="0.45" fill="#6a88dc"/><circle cx="227.0" cy="456.1" r="0.45" fill="#6a88dc"/><circle cx="215.4" cy="442.8" r="0.45" fill="#6a88dc"/><circle cx="208.6" cy="453.5" r="0.45" fill="#6a88dc"/><circle cx="253.6" cy="451.9" r="0.45" fill="#6a88dc"/><circle cx="232.0" cy="453.3" r="0.45" fill="#6a88dc"/><circle cx="243.2" cy="448.4" r="0.45" fill="#6a88dc"/><circle cx="244.5" cy="468.8" r="0.45" fill="#6a88dc"/><circle cx="269.7" cy="445.9" r="0.45" fill="#6a88dc"/><circle cx="217.1" cy="468.4" r="0.45" fill="#6a88dc"/><circle cx="250.9" cy="462.1" r="0.45" fill="#6a88dc"/><circle cx="245.2" cy="449.0" r="0.45" fill="#6a88dc"/><circle cx="250.9" cy="461.2" r="0.45" fill="#6a88dc"/><circle cx="253.9" cy="441.2" r="0.45" fill="#6a88dc"/><circle cx="251.7" cy="447.9" r="0.45" fill="#6a88dc"/><circle cx="230.7" cy="454.3" r="0.45" fill="#6a88dc"/><circle cx="230.9" cy="472.1" r="0.45" fill="#6a88dc"/><circle cx="244.6" cy="453.5" r="0.45" fill="#6a88dc"/><circle cx="233.3" cy="453.3" r="0.45" fill="#6a88dc"/><circle cx="232.7" cy="456.4" r="0.45" fill="#6a88dc"/><circle cx="249.2" cy="458.7" r="0.45" fill="#6a88dc"/><circle cx="217.2" cy="448.1" r="0.45" fill="#6a88dc"/><circle cx="237.4" cy="440.0" r="0.45" fill="#6a88dc"/><circle cx="241.8" cy="449.8" r="0.45" fill="#6a88dc"/><circle cx="237.0" cy="454.5" r="0.45" fill="#6a88dc"/><circle cx="226.7" cy="465.2" r="0.45" fill="#6a88dc"/><circle cx="251.8" cy="446.1" r="0.45" fill="#6a88dc"/><circle cx="243.2" cy="457.8" r="0.45" fill="#6a88dc"/><circle cx="224.6" cy="447.9" r="0.45" fill="#6a88dc"/><circle cx="246.7" cy="427.7" r="0.45" fill="#6a88dc"/><circle cx="216.3" cy="454.1" r="0.45" fill="#6a88dc"/><circle cx="245.5" cy="442.7" r="0.45" fill="#6a88dc"/><circle cx="249.1" cy="471.1" r="0.45" fill="#6a88dc"/><circle cx="239.3" cy="450.7" r="0.45" fill="#6a88dc"/><circle cx="237.2" cy="441.9" r="0.45" fill="#6a88dc"/><circle cx="244.5" cy="452.7" r="0.45" fill="#6a88dc"/><circle cx="247.4" cy="464.0" r="0.45" fill="#6a88dc"/><circle cx="236.7" cy="452.7" r="0.45" fill="#6a88dc"/><circle cx="241.1" cy="466.8" r="0.45" fill="#6a88dc"/><circle cx="214.2" cy="451.1" r="0.45" fill="#6a88dc"/><circle cx="226.7" cy="452.2" r="0.45" fill="#6a88dc"/><circle cx="248.7" cy="451.7" r="0.45" fill="#6a88dc"/><circle cx="247.3" cy="452.8" r="0.45" fill="#6a88dc"/><circle cx="225.4" cy="445.1" r="0.45" fill="#6a88dc"/><circle cx="215.3" cy="453.1" r="0.45" fill="#6a88dc"/><circle cx="230.2" cy="458.7" r="0.45" fill="#6a88dc"/><circle cx="250.7" cy="443.1" r="0.45" fill="#6a88dc"/><circle cx="219.8" cy="456.6" r="0.45" fill="#6a88dc"/><circle cx="222.9" cy="453.0" r="0.45" fill="#6a88dc"/><circle cx="245.4" cy="447.6" r="0.45" fill="#6a88dc"/><circle cx="263.0" cy="444.1" r="0.45" fill="#6a88dc"/><circle cx="242.6" cy="447.4" r="0.45" fill="#6a88dc"/><circle cx="192.7" cy="449.6" r="0.45" fill="#6a88dc"/><circle cx="233.8" cy="456.3" r="0.45" fill="#6a88dc"/><circle cx="234.2" cy="444.5" r="0.45" fill="#6a88dc"/><circle cx="228.4" cy="448.4" r="0.45" fill="#6a88dc"/><circle cx="247.6" cy="448.6" r="0.45" fill="#6a88dc"/><circle cx="254.8" cy="458.9" r="0.45" fill="#6a88dc"/><circle cx="225.0" cy="460.4" r="0.45" fill="#6a88dc"/><circle cx="202.1" cy="451.4" r="0.45" fill="#6a88dc"/><circle cx="221.4" cy="450.2" r="0.45" fill="#6a88dc"/><circle cx="253.6" cy="451.1" r="0.45" fill="#6a88dc"/><circle cx="233.7" cy="462.7" r="0.45" fill="#6a88dc"/><circle cx="224.7" cy="443.6" r="0.45" fill="#6a88dc"/><circle cx="250.9" cy="456.7" r="0.45" fill="#6a88dc"/><circle cx="214.7" cy="452.5" r="0.45" fill="#6a88dc"/><circle cx="247.9" cy="449.6" r="0.45" fill="#6a88dc"/><circle cx="230.1" cy="452.3" r="0.45" fill="#6a88dc"/><circle cx="239.4" cy="444.7" r="0.45" fill="#6a88dc"/><circle cx="248.8" cy="436.8" r="0.45" fill="#6a88dc"/><circle cx="235.1" cy="470.4" r="0.45" fill="#6a88dc"/><circle cx="220.2" cy="450.8" r="0.45" fill="#6a88dc"/><circle cx="201.9" cy="443.6" r="0.45" fill="#6a88dc"/><circle cx="218.8" cy="451.7" r="0.45" fill="#6a88dc"/><circle cx="228.7" cy="467.7" r="0.45" fill="#6a88dc"/><circle cx="222.3" cy="450.8" r="0.45" fill="#6a88dc"/><circle cx="239.4" cy="456.9" r="0.45" fill="#6a88dc"/><circle cx="249.6" cy="437.0" r="0.45" fill="#6a88dc"/><circle cx="269.2" cy="448.3" r="0.45" fill="#6a88dc"/><circle cx="225.4" cy="436.2" r="0.45" fill="#6a88dc"/><circle cx="229.5" cy="435.1" r="0.45" fill="#6a88dc"/><circle cx="239.0" cy="445.7" r="0.45" fill="#6a88dc"/><circle cx="241.0" cy="444.0" r="0.45" fill="#6a88dc"/><circle cx="237.3" cy="471.2" r="0.45" fill="#6a88dc"/><circle cx="253.8" cy="452.5" r="0.45" fill="#6a88dc"/><g filter="url(#fb)"><ellipse cx="237" cy="452.5" rx="22" ry="15.5" fill="#3d5fc8"/><ellipse cx="225.5" cy="458.5" rx="10" ry="8" fill="#3d5fc8"/><ellipse cx="254" cy="453" rx="15" ry="10.5" fill="#4466cc"/><ellipse cx="244" cy="470.5" rx="25.5" ry="6.5" fill="#3f62c8"/><ellipse cx="262" cy="473" rx="8" ry="3.2" fill="#4a70d0"/></g><g filter="url(#fb2)"><ellipse cx="234.5" cy="453.5" rx="18" ry="12.5" fill="#2f9fd4"/><ellipse cx="227.5" cy="459" rx="9" ry="6.5" fill="#2f9fd4"/><ellipse cx="232" cy="453" rx="14.5" ry="11.5" fill="#3cbd8a"/><ellipse cx="228.5" cy="458" rx="8" ry="6.3" fill="#3cbd8a"/><ellipse cx="230.2" cy="451.5" rx="10.5" ry="9.5" fill="#9ccc3a"/><ellipse cx="229.6" cy="450.5" rx="6.3" ry="5.2" fill="#f0dc22"/><ellipse cx="229.3" cy="450.2" rx="3.9" ry="3.1" fill="#f39024"/><ellipse cx="229.1" cy="450.1" rx="2.2" ry="1.8" fill="#e43a22"/><ellipse cx="233" cy="468.5" rx="13" ry="3.2" fill="#2fa0d6"/><ellipse cx="257.3" cy="473.5" rx="5" ry="1.6" fill="#3fbf8c"/><ellipse cx="257.3" cy="473.5" rx="2.8" ry="1" fill="#8ec83c"/><ellipse cx="246" cy="452" rx="5" ry="8" fill="#2fa0d6"/></g></g><rect x="204.3" y="410" width="82" height="81.9" fill="none" stroke="#111" stroke-width="1.15"/><line x1="242.2" y1="410" x2="242.2" y2="491.9" stroke="#111" stroke-width="1.15"/><line x1="204.3" y1="465.6" x2="286.3" y2="465.6" stroke="#111" stroke-width="1.15"/><line x1="201.3" y1="420.3" x2="204.3" y2="420.3" stroke="#111" stroke-width="1"/><line x1="201.3" y1="446.4" x2="204.3" y2="446.4" stroke="#111" stroke-width="1"/><line x1="201.3" y1="468.8" x2="204.3" y2="468.8" stroke="#111" stroke-width="1"/><line x1="202.7" y1="424" x2="204.3" y2="424" stroke="#111" stroke-width="0.8"/><line x1="202.7" y1="428" x2="204.3" y2="428" stroke="#111" stroke-width="0.8"/><line x1="202.7" y1="431" x2="204.3" y2="431" stroke="#111" stroke-width="0.8"/><line x1="202.7" y1="434" x2="204.3" y2="434" stroke="#111" stroke-width="0.8"/><line x1="202.7" y1="436" x2="204.3" y2="436" stroke="#111" stroke-width="0.8"/><line x1="202.7" y1="438" x2="204.3" y2="438" stroke="#111" stroke-width="0.8"/><line x1="202.7" y1="440" x2="204.3" y2="440" stroke="#111" stroke-width="0.8"/><line x1="202.7" y1="442" x2="204.3" y2="442" stroke="#111" stroke-width="0.8"/><line x1="202.7" y1="443.5" x2="204.3" y2="443.5" stroke="#111" stroke-width="0.8"/><line x1="202.7" y1="450" x2="204.3" y2="450" stroke="#111" stroke-width="0.8"/><line x1="202.7" y1="453" x2="204.3" y2="453" stroke="#111" stroke-width="0.8"/><line x1="202.7" y1="456" x2="204.3" y2="456" stroke="#111" stroke-width="0.8"/><line x1="202.7" y1="458" x2="204.3" y2="458" stroke="#111" stroke-width="0.8"/><line x1="202.7" y1="460" x2="204.3" y2="460" stroke="#111" stroke-width="0.8"/><line x1="202.7" y1="462" x2="204.3" y2="462" stroke="#111" stroke-width="0.8"/><line x1="202.7" y1="464" x2="204.3" y2="464" stroke="#111" stroke-width="0.8"/><line x1="202.7" y1="477" x2="204.3" y2="477" stroke="#111" stroke-width="0.8"/><line x1="202.7" y1="479" x2="204.3" y2="479" stroke="#111" stroke-width="0.8"/><line x1="202.7" y1="481" x2="204.3" y2="481" stroke="#111" stroke-width="0.8"/><line x1="202.7" y1="483" x2="204.3" y2="483" stroke="#111" stroke-width="0.8"/><line x1="202.7" y1="486" x2="204.3" y2="486" stroke="#111" stroke-width="0.8"/><line x1="202.7" y1="489" x2="204.3" y2="489" stroke="#111" stroke-width="0.8"/><line x1="202.3" y1="466.3" x2="204.3" y2="466.3" stroke="#111" stroke-width="0.7"/><line x1="202.3" y1="467.5" x2="204.3" y2="467.5" stroke="#111" stroke-width="0.7"/><line x1="202.3" y1="468.7" x2="204.3" y2="468.7" stroke="#111" stroke-width="0.7"/><line x1="202.3" y1="469.90000000000003" x2="204.3" y2="469.90000000000003" stroke="#111" stroke-width="0.7"/><line x1="202.3" y1="471.1" x2="204.3" y2="471.1" stroke="#111" stroke-width="0.7"/><line x1="202.3" y1="472.3" x2="204.3" y2="472.3" stroke="#111" stroke-width="0.7"/><line x1="202.3" y1="473.5" x2="204.3" y2="473.5" stroke="#111" stroke-width="0.7"/><line x1="202.3" y1="474.7" x2="204.3" y2="474.7" stroke="#111" stroke-width="0.7"/><line x1="202.3" y1="475.90000000000003" x2="204.3" y2="475.90000000000003" stroke="#111" stroke-width="0.7"/><line x1="220.8" y1="491.9" x2="220.8" y2="494.8" stroke="#111" stroke-width="1"/><line x1="258.5" y1="491.9" x2="258.5" y2="494.8" stroke="#111" stroke-width="1"/><line x1="206" y1="491.9" x2="206" y2="493.4" stroke="#111" stroke-width="0.8"/><line x1="208" y1="491.9" x2="208" y2="493.4" stroke="#111" stroke-width="0.8"/><line x1="232" y1="491.9" x2="232" y2="493.4" stroke="#111" stroke-width="0.8"/><line x1="236" y1="491.9" x2="236" y2="493.4" stroke="#111" stroke-width="0.8"/><line x1="240" y1="491.9" x2="240" y2="493.4" stroke="#111" stroke-width="0.8"/><line x1="244" y1="491.9" x2="244" y2="493.4" stroke="#111" stroke-width="0.8"/><line x1="248" y1="491.9" x2="248" y2="493.4" stroke="#111" stroke-width="0.8"/><line x1="251" y1="491.9" x2="251" y2="493.4" stroke="#111" stroke-width="0.8"/><line x1="253" y1="491.9" x2="253" y2="493.4" stroke="#111" stroke-width="0.8"/><line x1="255" y1="491.9" x2="255" y2="493.4" stroke="#111" stroke-width="0.8"/><line x1="262" y1="491.9" x2="262" y2="493.4" stroke="#111" stroke-width="0.8"/><line x1="265" y1="491.9" x2="265" y2="493.4" stroke="#111" stroke-width="0.8"/><line x1="267" y1="491.9" x2="267" y2="493.4" stroke="#111" stroke-width="0.8"/><line x1="269" y1="491.9" x2="269" y2="493.4" stroke="#111" stroke-width="0.8"/><line x1="271" y1="491.9" x2="271" y2="493.4" stroke="#111" stroke-width="0.8"/><line x1="273" y1="491.9" x2="273" y2="493.4" stroke="#111" stroke-width="0.8"/><line x1="275" y1="491.9" x2="275" y2="493.4" stroke="#111" stroke-width="0.8"/><line x1="277" y1="491.9" x2="277" y2="493.4" stroke="#111" stroke-width="0.8"/><line x1="279" y1="491.9" x2="279" y2="493.4" stroke="#111" stroke-width="0.8"/><line x1="281" y1="491.9" x2="281" y2="493.4" stroke="#111" stroke-width="0.8"/><line x1="283" y1="491.9" x2="283" y2="493.4" stroke="#111" stroke-width="0.8"/><line x1="285" y1="491.9" x2="285" y2="493.4" stroke="#111" stroke-width="0.8"/><line x1="210.5" y1="491.9" x2="210.5" y2="494.0" stroke="#111" stroke-width="0.7"/><line x1="211.7" y1="491.9" x2="211.7" y2="494.0" stroke="#111" stroke-width="0.7"/><line x1="212.9" y1="491.9" x2="212.9" y2="494.0" stroke="#111" stroke-width="0.7"/><line x1="214.1" y1="491.9" x2="214.1" y2="494.0" stroke="#111" stroke-width="0.7"/><line x1="215.3" y1="491.9" x2="215.3" y2="494.0" stroke="#111" stroke-width="0.7"/><line x1="216.5" y1="491.9" x2="216.5" y2="494.0" stroke="#111" stroke-width="0.7"/><line x1="217.7" y1="491.9" x2="217.7" y2="494.0" stroke="#111" stroke-width="0.7"/><line x1="218.9" y1="491.9" x2="218.9" y2="494.0" stroke="#111" stroke-width="0.7"/><line x1="220.1" y1="491.9" x2="220.1" y2="494.0" stroke="#111" stroke-width="0.7"/><line x1="221.3" y1="491.9" x2="221.3" y2="494.0" stroke="#111" stroke-width="0.7"/><line x1="222.5" y1="491.9" x2="222.5" y2="494.0" stroke="#111" stroke-width="0.7"/><line x1="223.7" y1="491.9" x2="223.7" y2="494.0" stroke="#111" stroke-width="0.7"/><line x1="224.9" y1="491.9" x2="224.9" y2="494.0" stroke="#111" stroke-width="0.7"/><line x1="226.1" y1="491.9" x2="226.1" y2="494.0" stroke="#111" stroke-width="0.7"/><line x1="227.3" y1="491.9" x2="227.3" y2="494.0" stroke="#111" stroke-width="0.7"/><line x1="228.5" y1="491.9" x2="228.5" y2="494.0" stroke="#111" stroke-width="0.7"/><text x="188.2" y="422.7" font-size="6.6" fill="#111" stroke="#111" stroke-width="0.1">10<tspan font-size="4.6" dy="-2.8">4</tspan><tspan dy="2.8"></tspan></text><text x="188.2" y="449.1" font-size="6.6" fill="#111" stroke="#111" stroke-width="0.1">10<tspan font-size="4.6" dy="-2.8">3</tspan><tspan dy="2.8"></tspan></text><text x="194.4" y="471.3" font-size="6.6" text-anchor="middle" fill="#111" stroke="#111" stroke-width="0.1">0</text><text x="220.8" y="502.5" font-size="6.6" text-anchor="middle" fill="#111" stroke="#111" stroke-width="0.1">0</text><text x="253.5" y="502.5" font-size="6.6" fill="#111" stroke="#111" stroke-width="0.1">10<tspan font-size="4.6" dy="-2.8">3</tspan><tspan dy="2.8"></tspan></text><text x="208.2" y="420.2" font-size="7.6" fill="#111" stroke="#111" stroke-width="0.1">T<tspan font-size="5.6" dy="1.6">EM</tspan><tspan dy="-1.6"></tspan></text><text x="269.8" y="420.2" font-size="7.6" fill="#111" stroke="#111" stroke-width="0.1">T<tspan font-size="5.6" dy="1.6">CM</tspan><tspan dy="-1.6"></tspan></text><text x="207.8" y="486.7" font-size="7.6" fill="#111" stroke="#111" stroke-width="0.1">T<tspan font-size="5.8" dy="1.6">eff</tspan><tspan dy="-1.6"></tspan></text><text x="274.8" y="486.7" font-size="7.6" fill="#111" stroke="#111" stroke-width="0.1">T<tspan font-size="5.6" dy="1.6">N</tspan><tspan dy="-1.6"></tspan></text><text x="0" y="0" font-size="8.6" text-anchor="middle" textLength="37.9" lengthAdjust="spacingAndGlyphs" transform="translate(181.8 451.2) rotate(-90)" fill="#111" stroke="#111" stroke-width="0.28">CD45RO-APC</text><text x="221.9" y="515.8" font-size="8.6" textLength="47.3" lengthAdjust="spacingAndGlyphs" fill="#111" stroke="#111" stroke-width="0.28">CCR7-PE-CF594</text><g clip-path="url(#cp2)"><circle cx="348.3" cy="459.8" r="0.5" fill="#4f70d4"/><circle cx="344.0" cy="457.3" r="0.5" fill="#4f70d4"/><circle cx="341.7" cy="461.9" r="0.5" fill="#4f70d4"/><circle cx="364.3" cy="460.0" r="0.5" fill="#4f70d4"/><circle cx="350.4" cy="463.6" r="0.5" fill="#4f70d4"/><circle cx="333.9" cy="459.2" r="0.5" fill="#4f70d4"/><circle cx="366.3" cy="459.5" r="0.5" fill="#4f70d4"/><circle cx="351.5" cy="463.8" r="0.5" fill="#4f70d4"/><circle cx="341.0" cy="460.5" r="0.5" fill="#4f70d4"/><circle cx="345.0" cy="462.5" r="0.5" fill="#4f70d4"/><circle cx="347.9" cy="459.8" r="0.5" fill="#4f70d4"/><circle cx="340.7" cy="460.5" r="0.5" fill="#4f70d4"/><circle cx="346.9" cy="462.7" r="0.5" fill="#4f70d4"/><circle cx="337.3" cy="464.5" r="0.5" fill="#4f70d4"/><circle cx="335.5" cy="463.9" r="0.5" fill="#4f70d4"/><circle cx="370.7" cy="456.5" r="0.5" fill="#4f70d4"/><circle cx="345.5" cy="458.9" r="0.5" fill="#4f70d4"/><circle cx="353.1" cy="460.0" r="0.5" fill="#4f70d4"/><circle cx="342.7" cy="463.4" r="0.5" fill="#4f70d4"/><circle cx="337.1" cy="463.4" r="0.5" fill="#4f70d4"/><circle cx="335.3" cy="461.6" r="0.5" fill="#4f70d4"/><circle cx="340.2" cy="463.0" r="0.5" fill="#4f70d4"/><circle cx="348.9" cy="464.4" r="0.5" fill="#4f70d4"/><circle cx="333.3" cy="463.7" r="0.5" fill="#4f70d4"/><circle cx="363.5" cy="460.3" r="0.5" fill="#4f70d4"/><circle cx="334.9" cy="460.3" r="0.5" fill="#4f70d4"/><circle cx="348.2" cy="463.0" r="0.5" fill="#4f70d4"/><circle cx="367.7" cy="459.6" r="0.5" fill="#4f70d4"/><circle cx="347.4" cy="462.6" r="0.5" fill="#4f70d4"/><circle cx="335.2" cy="464.5" r="0.5" fill="#4f70d4"/><circle cx="338.1" cy="462.0" r="0.5" fill="#4f70d4"/><circle cx="378.7" cy="460.8" r="0.5" fill="#4f70d4"/><circle cx="361.4" cy="460.4" r="0.5" fill="#4f70d4"/><circle cx="358.7" cy="463.4" r="0.5" fill="#4f70d4"/><circle cx="384.0" cy="461.6" r="0.5" fill="#4f70d4"/><circle cx="350.9" cy="460.1" r="0.5" fill="#4f70d4"/><circle cx="335.0" cy="460.4" r="0.5" fill="#4f70d4"/><circle cx="335.6" cy="464.4" r="0.5" fill="#4f70d4"/><circle cx="340.6" cy="459.6" r="0.5" fill="#4f70d4"/><circle cx="365.2" cy="466.3" r="0.5" fill="#4f70d4"/><circle cx="333.3" cy="463.3" r="0.5" fill="#4f70d4"/><circle cx="361.3" cy="460.4" r="0.5" fill="#4f70d4"/><circle cx="345.6" cy="458.9" r="0.5" fill="#4f70d4"/><circle cx="359.0" cy="456.3" r="0.5" fill="#4f70d4"/><circle cx="386.0" cy="462.8" r="0.5" fill="#4f70d4"/><circle cx="350.6" cy="464.2" r="0.5" fill="#4f70d4"/><circle cx="336.1" cy="462.0" r="0.5" fill="#4f70d4"/><circle cx="339.5" cy="460.9" r="0.5" fill="#4f70d4"/><circle cx="359.6" cy="463.5" r="0.5" fill="#4f70d4"/><circle cx="361.6" cy="461.8" r="0.5" fill="#4f70d4"/><circle cx="364.7" cy="459.3" r="0.5" fill="#4f70d4"/><circle cx="344.3" cy="464.0" r="0.5" fill="#4f70d4"/><circle cx="335.0" cy="462.8" r="0.5" fill="#4f70d4"/><circle cx="367.7" cy="462.3" r="0.5" fill="#4f70d4"/><circle cx="345.6" cy="460.3" r="0.5" fill="#4f70d4"/><circle cx="389.6" cy="458.4" r="0.5" fill="#4f70d4"/><circle cx="383.9" cy="461.6" r="0.5" fill="#4f70d4"/><circle cx="336.2" cy="460.9" r="0.5" fill="#4f70d4"/><circle cx="347.4" cy="464.7" r="0.5" fill="#4f70d4"/><circle cx="346.0" cy="462.1" r="0.5" fill="#4f70d4"/><circle cx="367.9" cy="464.1" r="0.5" fill="#4f70d4"/><circle cx="368.2" cy="464.4" r="0.5" fill="#4f70d4"/><circle cx="366.7" cy="463.9" r="0.5" fill="#4f70d4"/><circle cx="373.3" cy="459.9" r="0.5" fill="#4f70d4"/><circle cx="337.6" cy="458.1" r="0.5" fill="#4f70d4"/><circle cx="359.4" cy="464.0" r="0.5" fill="#4f70d4"/><circle cx="337.7" cy="463.6" r="0.5" fill="#4f70d4"/><circle cx="350.4" cy="463.6" r="0.5" fill="#4f70d4"/><circle cx="390.5" cy="461.6" r="0.5" fill="#4f70d4"/><circle cx="336.9" cy="463.1" r="0.5" fill="#4f70d4"/><circle cx="345.5" cy="465.9" r="0.5" fill="#4f70d4"/><circle cx="335.9" cy="462.6" r="0.5" fill="#4f70d4"/><circle cx="383.3" cy="464.2" r="0.5" fill="#4f70d4"/><circle cx="363.6" cy="462.6" r="0.5" fill="#4f70d4"/><circle cx="379.1" cy="460.2" r="0.5" fill="#4f70d4"/><circle cx="357.9" cy="458.9" r="0.5" fill="#4f70d4"/><circle cx="349.6" cy="456.5" r="0.5" fill="#4f70d4"/><circle cx="349.5" cy="459.9" r="0.5" fill="#4f70d4"/><circle cx="338.7" cy="464.9" r="0.5" fill="#4f70d4"/><circle cx="380.7" cy="465.2" r="0.5" fill="#4f70d4"/><circle cx="351.0" cy="460.6" r="0.5" fill="#4f70d4"/><circle cx="346.8" cy="462.3" r="0.5" fill="#4f70d4"/><circle cx="354.4" cy="462.5" r="0.5" fill="#4f70d4"/><circle cx="339.0" cy="461.4" r="0.5" fill="#4f70d4"/><circle cx="357.9" cy="464.7" r="0.5" fill="#4f70d4"/><circle cx="347.4" cy="461.9" r="0.5" fill="#4f70d4"/><circle cx="386.4" cy="457.9" r="0.5" fill="#4f70d4"/><circle cx="377.1" cy="464.3" r="0.5" fill="#4f70d4"/><circle cx="369.5" cy="465.8" r="0.5" fill="#4f70d4"/><circle cx="353.1" cy="462.3" r="0.5" fill="#4f70d4"/><circle cx="350.0" cy="457.8" r="0.5" fill="#4f70d4"/><circle cx="365.8" cy="464.2" r="0.5" fill="#4f70d4"/><circle cx="347.2" cy="456.3" r="0.5" fill="#4f70d4"/><circle cx="335.5" cy="462.3" r="0.5" fill="#4f70d4"/><circle cx="383.1" cy="461.2" r="0.5" fill="#4f70d4"/><circle cx="366.5" cy="458.6" r="0.5" fill="#4f70d4"/><circle cx="358.0" cy="460.7" r="0.5" fill="#4f70d4"/><circle cx="367.6" cy="458.6" r="0.5" fill="#4f70d4"/><circle cx="363.0" cy="462.5" r="0.5" fill="#4f70d4"/><circle cx="347.1" cy="458.3" r="0.5" fill="#4f70d4"/><circle cx="335.1" cy="463.5" r="0.5" fill="#4f70d4"/><circle cx="341.7" cy="466.1" r="0.5" fill="#4f70d4"/><circle cx="375.5" cy="459.0" r="0.5" fill="#4f70d4"/><circle cx="368.6" cy="460.4" r="0.5" fill="#4f70d4"/><circle cx="360.6" cy="461.3" r="0.5" fill="#4f70d4"/><circle cx="364.1" cy="460.4" r="0.5" fill="#4f70d4"/><circle cx="366.2" cy="464.9" r="0.5" fill="#4f70d4"/><circle cx="341.4" cy="462.7" r="0.5" fill="#4f70d4"/><circle cx="370.5" cy="462.4" r="0.5" fill="#4f70d4"/><circle cx="337.6" cy="463.6" r="0.5" fill="#4f70d4"/><circle cx="363.2" cy="460.0" r="0.5" fill="#4f70d4"/><circle cx="351.2" cy="460.4" r="0.5" fill="#4f70d4"/><circle cx="377.3" cy="459.2" r="0.5" fill="#4f70d4"/><circle cx="348.6" cy="462.5" r="0.5" fill="#4f70d4"/><circle cx="360.4" cy="461.0" r="0.5" fill="#4f70d4"/><circle cx="333.0" cy="465.5" r="0.5" fill="#4f70d4"/><circle cx="367.2" cy="461.4" r="0.5" fill="#4f70d4"/><circle cx="373.8" cy="463.9" r="0.5" fill="#4f70d4"/><circle cx="359.1" cy="462.5" r="0.5" fill="#4f70d4"/><circle cx="354.5" cy="460.9" r="0.5" fill="#4f70d4"/><circle cx="343.4" cy="464.1" r="0.5" fill="#4f70d4"/><circle cx="366.9" cy="459.3" r="0.5" fill="#4f70d4"/><circle cx="357.6" cy="462.8" r="0.5" fill="#4f70d4"/><circle cx="355.7" cy="464.8" r="0.5" fill="#4f70d4"/><circle cx="358.2" cy="460.2" r="0.5" fill="#4f70d4"/><circle cx="340.2" cy="460.9" r="0.5" fill="#4f70d4"/><circle cx="372.9" cy="461.6" r="0.5" fill="#4f70d4"/><circle cx="342.8" cy="461.8" r="0.5" fill="#4f70d4"/><circle cx="386.8" cy="461.5" r="0.5" fill="#4f70d4"/><circle cx="342.1" cy="461.8" r="0.5" fill="#4f70d4"/><circle cx="363.4" cy="467.8" r="0.5" fill="#4f70d4"/><circle cx="336.3" cy="466.6" r="0.5" fill="#4f70d4"/><circle cx="370.2" cy="461.1" r="0.5" fill="#4f70d4"/><circle cx="336.9" cy="460.5" r="0.5" fill="#4f70d4"/><circle cx="347.3" cy="463.9" r="0.5" fill="#4f70d4"/><circle cx="350.4" cy="459.8" r="0.5" fill="#4f70d4"/><circle cx="336.8" cy="459.1" r="0.5" fill="#4f70d4"/><circle cx="339.2" cy="457.9" r="0.5" fill="#4f70d4"/><circle cx="352.7" cy="464.9" r="0.5" fill="#4f70d4"/><circle cx="356.5" cy="463.6" r="0.5" fill="#4f70d4"/><circle cx="363.4" cy="458.6" r="0.5" fill="#4f70d4"/><circle cx="360.6" cy="455.4" r="0.5" fill="#4f70d4"/><circle cx="356.5" cy="460.2" r="0.5" fill="#4f70d4"/><circle cx="350.5" cy="462.6" r="0.5" fill="#4f70d4"/><circle cx="361.3" cy="464.5" r="0.5" fill="#4f70d4"/><circle cx="354.0" cy="465.6" r="0.5" fill="#4f70d4"/><circle cx="357.5" cy="462.7" r="0.5" fill="#4f70d4"/><circle cx="383.8" cy="460.4" r="0.5" fill="#4f70d4"/><circle cx="375.4" cy="462.5" r="0.5" fill="#4f70d4"/><circle cx="361.9" cy="459.3" r="0.5" fill="#4f70d4"/><circle cx="345.1" cy="463.8" r="0.5" fill="#4f70d4"/><circle cx="358.9" cy="459.4" r="0.5" fill="#4f70d4"/><circle cx="344.2" cy="465.5" r="0.5" fill="#4f70d4"/><circle cx="355.1" cy="455.9" r="0.5" fill="#4f70d4"/><circle cx="348.5" cy="461.4" r="0.5" fill="#4f70d4"/><circle cx="341.7" cy="463.1" r="0.5" fill="#4f70d4"/><circle cx="348.3" cy="461.3" r="0.5" fill="#4f70d4"/><circle cx="338.3" cy="461.8" r="0.5" fill="#4f70d4"/><circle cx="360.4" cy="461.0" r="0.5" fill="#4f70d4"/><circle cx="348.3" cy="462.1" r="0.5" fill="#4f70d4"/><circle cx="347.1" cy="462.1" r="0.5" fill="#4f70d4"/><circle cx="357.5" cy="461.1" r="0.5" fill="#4f70d4"/><circle cx="345.0" cy="468.5" r="0.5" fill="#4f70d4"/><circle cx="352.5" cy="460.1" r="0.5" fill="#4f70d4"/><circle cx="358.5" cy="458.4" r="0.5" fill="#4f70d4"/><circle cx="359.3" cy="463.2" r="0.5" fill="#4f70d4"/><circle cx="357.5" cy="461.4" r="0.5" fill="#4f70d4"/><circle cx="337.9" cy="463.6" r="0.5" fill="#4f70d4"/><circle cx="350.3" cy="464.2" r="0.5" fill="#4f70d4"/><circle cx="371.3" cy="460.3" r="0.5" fill="#4f70d4"/><circle cx="361.3" cy="467.0" r="0.5" fill="#4f70d4"/><circle cx="337.5" cy="458.6" r="0.5" fill="#4f70d4"/><circle cx="365.5" cy="461.6" r="0.5" fill="#4f70d4"/><circle cx="345.4" cy="466.5" r="0.5" fill="#4f70d4"/><circle cx="334.2" cy="462.5" r="0.5" fill="#4f70d4"/><circle cx="339.3" cy="462.1" r="0.5" fill="#4f70d4"/><circle cx="350.4" cy="461.4" r="0.5" fill="#4f70d4"/><circle cx="338.9" cy="458.7" r="0.5" fill="#4f70d4"/><circle cx="341.4" cy="460.9" r="0.5" fill="#4f70d4"/><circle cx="364.1" cy="459.3" r="0.5" fill="#4f70d4"/><circle cx="354.0" cy="459.5" r="0.5" fill="#4f70d4"/><circle cx="337.5" cy="461.3" r="0.5" fill="#4f70d4"/><circle cx="335.3" cy="463.9" r="0.5" fill="#4f70d4"/><circle cx="360.7" cy="467.0" r="0.5" fill="#4f70d4"/><circle cx="338.0" cy="460.8" r="0.5" fill="#4f70d4"/><circle cx="386.7" cy="457.0" r="0.5" fill="#4f70d4"/><circle cx="387.9" cy="458.7" r="0.5" fill="#4f70d4"/><circle cx="363.6" cy="460.2" r="0.5" fill="#4f70d4"/><circle cx="355.7" cy="459.0" r="0.5" fill="#4f70d4"/><circle cx="345.9" cy="462.5" r="0.5" fill="#4f70d4"/><circle cx="383.1" cy="459.8" r="0.5" fill="#4f70d4"/><circle cx="353.0" cy="460.6" r="0.5" fill="#4f70d4"/><circle cx="363.2" cy="462.3" r="0.5" fill="#4f70d4"/><circle cx="356.0" cy="464.9" r="0.5" fill="#4f70d4"/><circle cx="352.2" cy="465.1" r="0.5" fill="#4f70d4"/><circle cx="357.3" cy="462.8" r="0.5" fill="#4f70d4"/><circle cx="335.7" cy="458.2" r="0.5" fill="#4f70d4"/><circle cx="347.3" cy="462.7" r="0.5" fill="#4f70d4"/><circle cx="372.1" cy="460.7" r="0.5" fill="#4f70d4"/><circle cx="351.7" cy="460.9" r="0.5" fill="#4f70d4"/><circle cx="351.6" cy="458.9" r="0.5" fill="#4f70d4"/><circle cx="356.1" cy="461.0" r="0.5" fill="#4f70d4"/><circle cx="338.6" cy="454.9" r="0.5" fill="#4f70d4"/><circle cx="346.8" cy="461.9" r="0.5" fill="#4f70d4"/><circle cx="360.0" cy="461.4" r="0.5" fill="#4f70d4"/><circle cx="365.8" cy="461.9" r="0.5" fill="#4f70d4"/><circle cx="352.7" cy="460.4" r="0.5" fill="#4f70d4"/><circle cx="345.7" cy="460.9" r="0.5" fill="#4f70d4"/><circle cx="343.5" cy="459.2" r="0.5" fill="#4f70d4"/><circle cx="351.5" cy="460.6" r="0.5" fill="#4f70d4"/><circle cx="339.5" cy="466.7" r="0.5" fill="#4f70d4"/><circle cx="347.7" cy="463.6" r="0.5" fill="#4f70d4"/><circle cx="339.8" cy="466.7" r="0.5" fill="#4f70d4"/><circle cx="385.5" cy="461.6" r="0.5" fill="#4f70d4"/><circle cx="336.0" cy="467.2" r="0.5" fill="#4f70d4"/><circle cx="341.5" cy="463.5" r="0.5" fill="#4f70d4"/><circle cx="345.8" cy="459.1" r="0.5" fill="#4f70d4"/><circle cx="388.9" cy="462.3" r="0.5" fill="#4f70d4"/><circle cx="385.2" cy="462.4" r="0.5" fill="#4f70d4"/><circle cx="354.9" cy="462.7" r="0.5" fill="#4f70d4"/><circle cx="370.7" cy="463.9" r="0.5" fill="#4f70d4"/><circle cx="367.1" cy="462.2" r="0.5" fill="#4f70d4"/><circle cx="367.0" cy="461.2" r="0.5" fill="#4f70d4"/><circle cx="346.7" cy="464.9" r="0.5" fill="#4f70d4"/><circle cx="376.2" cy="463.1" r="0.5" fill="#4f70d4"/><circle cx="353.7" cy="464.6" r="0.5" fill="#4f70d4"/><circle cx="388.0" cy="461.4" r="0.5" fill="#4f70d4"/><circle cx="340.3" cy="465.1" r="0.5" fill="#4f70d4"/><circle cx="365.2" cy="461.3" r="0.5" fill="#4f70d4"/><circle cx="361.8" cy="460.4" r="0.5" fill="#4f70d4"/><circle cx="388.3" cy="457.6" r="0.5" fill="#4f70d4"/><circle cx="339.7" cy="464.9" r="0.5" fill="#4f70d4"/><circle cx="333.8" cy="459.1" r="0.5" fill="#4f70d4"/><circle cx="345.8" cy="462.3" r="0.5" fill="#4f70d4"/><circle cx="380.9" cy="468.7" r="0.5" fill="#4f70d4"/><circle cx="364.4" cy="461.4" r="0.5" fill="#4f70d4"/><circle cx="363.0" cy="460.8" r="0.5" fill="#4f70d4"/><circle cx="366.3" cy="459.9" r="0.5" fill="#4f70d4"/><circle cx="375.5" cy="460.9" r="0.5" fill="#4f70d4"/><circle cx="378.8" cy="465.7" r="0.5" fill="#4f70d4"/><circle cx="387.2" cy="462.0" r="0.5" fill="#4f70d4"/><g filter="url(#fb)"><ellipse cx="338" cy="464" rx="7.5" ry="6.6" fill="#3a5cc6"/><ellipse cx="361" cy="462.6" rx="27" ry="5.6" fill="#3f62c8" transform="rotate(-2 361 462.6)"/></g><g filter="url(#fb3)"><ellipse cx="353" cy="465" rx="17" ry="3.1" fill="#2e9fd6" transform="rotate(-2 353 465)"/><ellipse cx="343" cy="465.2" rx="9.5" ry="3.6" fill="#3cbd8a"/><ellipse cx="340.2" cy="465.4" rx="6" ry="3.2" fill="#9ccc3a"/><ellipse cx="339" cy="465.5" rx="4.2" ry="2.7" fill="#f0dc22"/><ellipse cx="338.3" cy="465.7" rx="2.9" ry="1.9" fill="#f39024"/><ellipse cx="337.8" cy="465.8" rx="1.6" ry="1.1" fill="#e43a22"/></g></g><rect x="319.8" y="410.2" width="82.3" height="80.9" fill="none" stroke="#111" stroke-width="1.15"/><rect x="343.4" y="447.5" width="58.7" height="43.6" fill="none" stroke="#111" stroke-width="1.15"/><line x1="316.8" y1="417.2" x2="319.8" y2="417.2" stroke="#111" stroke-width="1"/><line x1="316.8" y1="437.8" x2="319.8" y2="437.8" stroke="#111" stroke-width="1"/><line x1="316.8" y1="460" x2="319.8" y2="460" stroke="#111" stroke-width="1"/><line x1="316.8" y1="473.2" x2="319.8" y2="473.2" stroke="#111" stroke-width="1"/><line x1="316.8" y1="486.4" x2="319.8" y2="486.4" stroke="#111" stroke-width="1"/><line x1="318.2" y1="421" x2="319.8" y2="421" stroke="#111" stroke-width="0.8"/><line x1="318.2" y1="424" x2="319.8" y2="424" stroke="#111" stroke-width="0.8"/><line x1="318.2" y1="427" x2="319.8" y2="427" stroke="#111" stroke-width="0.8"/><line x1="318.2" y1="429" x2="319.8" y2="429" stroke="#111" stroke-width="0.8"/><line x1="318.2" y1="431" x2="319.8" y2="431" stroke="#111" stroke-width="0.8"/><line x1="318.2" y1="433" x2="319.8" y2="433" stroke="#111" stroke-width="0.8"/><line x1="318.2" y1="435" x2="319.8" y2="435" stroke="#111" stroke-width="0.8"/><line x1="318.2" y1="441" x2="319.8" y2="441" stroke="#111" stroke-width="0.8"/><line x1="318.2" y1="444" x2="319.8" y2="444" stroke="#111" stroke-width="0.8"/><line x1="318.2" y1="447" x2="319.8" y2="447" stroke="#111" stroke-width="0.8"/><line x1="318.2" y1="450" x2="319.8" y2="450" stroke="#111" stroke-width="0.8"/><line x1="318.2" y1="452" x2="319.8" y2="452" stroke="#111" stroke-width="0.8"/><line x1="318.2" y1="454" x2="319.8" y2="454" stroke="#111" stroke-width="0.8"/><line x1="318.2" y1="456" x2="319.8" y2="456" stroke="#111" stroke-width="0.8"/><line x1="318.2" y1="458" x2="319.8" y2="458" stroke="#111" stroke-width="0.8"/><line x1="318.2" y1="463" x2="319.8" y2="463" stroke="#111" stroke-width="0.8"/><line x1="318.2" y1="466" x2="319.8" y2="466" stroke="#111" stroke-width="0.8"/><line x1="318.2" y1="469" x2="319.8" y2="469" stroke="#111" stroke-width="0.8"/><line x1="318.2" y1="476" x2="319.8" y2="476" stroke="#111" stroke-width="0.8"/><line x1="318.2" y1="479" x2="319.8" y2="479" stroke="#111" stroke-width="0.8"/><line x1="318.2" y1="482" x2="319.8" y2="482" stroke="#111" stroke-width="0.8"/><line x1="318.2" y1="484" x2="319.8" y2="484" stroke="#111" stroke-width="0.8"/><line x1="318.2" y1="489" x2="319.8" y2="489" stroke="#111" stroke-width="0.8"/><line x1="317.6" y1="471.9" x2="319.8" y2="471.9" stroke="#111" stroke-width="0.8"/><line x1="317.6" y1="473.0" x2="319.8" y2="473.0" stroke="#111" stroke-width="0.8"/><line x1="317.6" y1="474.09999999999997" x2="319.8" y2="474.09999999999997" stroke="#111" stroke-width="0.8"/><line x1="334.2" y1="491.1" x2="334.2" y2="494" stroke="#111" stroke-width="1"/><line x1="359.8" y1="491.1" x2="359.8" y2="494" stroke="#111" stroke-width="1"/><line x1="382" y1="491.1" x2="382" y2="494" stroke="#111" stroke-width="1"/><line x1="322" y1="491.1" x2="322" y2="492.6" stroke="#111" stroke-width="0.8"/><line x1="324" y1="491.1" x2="324" y2="492.6" stroke="#111" stroke-width="0.8"/><line x1="341" y1="491.1" x2="341" y2="492.6" stroke="#111" stroke-width="0.8"/><line x1="344" y1="491.1" x2="344" y2="492.6" stroke="#111" stroke-width="0.8"/><line x1="347" y1="491.1" x2="347" y2="492.6" stroke="#111" stroke-width="0.8"/><line x1="350" y1="491.1" x2="350" y2="492.6" stroke="#111" stroke-width="0.8"/><line x1="352" y1="491.1" x2="352" y2="492.6" stroke="#111" stroke-width="0.8"/><line x1="354" y1="491.1" x2="354" y2="492.6" stroke="#111" stroke-width="0.8"/><line x1="356" y1="491.1" x2="356" y2="492.6" stroke="#111" stroke-width="0.8"/><line x1="358" y1="491.1" x2="358" y2="492.6" stroke="#111" stroke-width="0.8"/><line x1="362" y1="491.1" x2="362" y2="492.6" stroke="#111" stroke-width="0.8"/><line x1="365" y1="491.1" x2="365" y2="492.6" stroke="#111" stroke-width="0.8"/><line x1="368" y1="491.1" x2="368" y2="492.6" stroke="#111" stroke-width="0.8"/><line x1="371" y1="491.1" x2="371" y2="492.6" stroke="#111" stroke-width="0.8"/><line x1="373" y1="491.1" x2="373" y2="492.6" stroke="#111" stroke-width="0.8"/><line x1="375" y1="491.1" x2="375" y2="492.6" stroke="#111" stroke-width="0.8"/><line x1="377" y1="491.1" x2="377" y2="492.6" stroke="#111" stroke-width="0.8"/><line x1="379" y1="491.1" x2="379" y2="492.6" stroke="#111" stroke-width="0.8"/><line x1="380" y1="491.1" x2="380" y2="492.6" stroke="#111" stroke-width="0.8"/><line x1="385" y1="491.1" x2="385" y2="492.6" stroke="#111" stroke-width="0.8"/><line x1="388" y1="491.1" x2="388" y2="492.6" stroke="#111" stroke-width="0.8"/><line x1="391" y1="491.1" x2="391" y2="492.6" stroke="#111" stroke-width="0.8"/><line x1="393" y1="491.1" x2="393" y2="492.6" stroke="#111" stroke-width="0.8"/><line x1="395" y1="491.1" x2="395" y2="492.6" stroke="#111" stroke-width="0.8"/><line x1="397" y1="491.1" x2="397" y2="492.6" stroke="#111" stroke-width="0.8"/><line x1="399" y1="491.1" x2="399" y2="492.6" stroke="#111" stroke-width="0.8"/><line x1="401" y1="491.1" x2="401" y2="492.6" stroke="#111" stroke-width="0.8"/><line x1="326.5" y1="491.1" x2="326.5" y2="493.2" stroke="#111" stroke-width="0.7"/><line x1="327.7" y1="491.1" x2="327.7" y2="493.2" stroke="#111" stroke-width="0.7"/><line x1="328.9" y1="491.1" x2="328.9" y2="493.2" stroke="#111" stroke-width="0.7"/><line x1="330.1" y1="491.1" x2="330.1" y2="493.2" stroke="#111" stroke-width="0.7"/><line x1="331.3" y1="491.1" x2="331.3" y2="493.2" stroke="#111" stroke-width="0.7"/><line x1="332.5" y1="491.1" x2="332.5" y2="493.2" stroke="#111" stroke-width="0.7"/><line x1="333.7" y1="491.1" x2="333.7" y2="493.2" stroke="#111" stroke-width="0.7"/><line x1="334.9" y1="491.1" x2="334.9" y2="493.2" stroke="#111" stroke-width="0.7"/><line x1="336.1" y1="491.1" x2="336.1" y2="493.2" stroke="#111" stroke-width="0.7"/><line x1="337.3" y1="491.1" x2="337.3" y2="493.2" stroke="#111" stroke-width="0.7"/><text x="303.8" y="420.1" font-size="6.6" fill="#111" stroke="#111" stroke-width="0.1">10<tspan font-size="4.6" dy="-2.8">5</tspan><tspan dy="2.8"></tspan></text><text x="303.8" y="440.3" font-size="6.6" fill="#111" stroke="#111" stroke-width="0.1">10<tspan font-size="4.6" dy="-2.8">4</tspan><tspan dy="2.8"></tspan></text><text x="303.8" y="462.6" font-size="6.6" fill="#111" stroke="#111" stroke-width="0.1">10<tspan font-size="4.6" dy="-2.8">3</tspan><tspan dy="2.8"></tspan></text><text x="310.2" y="475.6" font-size="6.6" text-anchor="middle" fill="#111" stroke="#111" stroke-width="0.1">0</text><text x="298.8" y="489.0" font-size="6.6" fill="#111" stroke="#111" stroke-width="0.1">−10<tspan font-size="4.6" dy="-2.8">3</tspan><tspan dy="2.8"></tspan></text><text x="334.2" y="503.5" font-size="6.6" text-anchor="middle" fill="#111" stroke="#111" stroke-width="0.1">0</text><text x="354.5" y="503.5" font-size="6.6" fill="#111" stroke="#111" stroke-width="0.1">10<tspan font-size="4.6" dy="-2.8">3</tspan><tspan dy="2.8"></tspan></text><text x="376.5" y="503.5" font-size="6.6" fill="#111" stroke="#111" stroke-width="0.1">10<tspan font-size="4.6" dy="-2.8">4</tspan><tspan dy="2.8"></tspan></text><text x="0" y="0" font-size="8.6" text-anchor="middle" textLength="17.2" lengthAdjust="spacingAndGlyphs" transform="translate(296.6 449.2) rotate(-90)" fill="#111" stroke="#111" stroke-width="0.28">SSC-A</text><text x="341.9" y="516.5" font-size="8.6" textLength="37.7" lengthAdjust="spacingAndGlyphs" fill="#111" stroke="#111" stroke-width="0.28">HLA-DR-FITC</text><text x="366.6" y="479.6" font-size="7.2" textLength="30.2" lengthAdjust="spacingAndGlyphs" fill="#111" stroke="#111" stroke-width="0.1">HLA-DR<tspan font-size="4.6" dy="-2.8">+</tspan><tspan dy="2.8"></tspan></text><text x="397.9" y="488.1" font-size="7.2" text-anchor="end" fill="#111" stroke="#111" stroke-width="0.1">42.0</text><line x1="438.6" y1="409.2" x2="438.6" y2="494.9" stroke="#222" stroke-width="1.45"/><line x1="437.9" y1="494.4" x2="518.7" y2="494.4" stroke="#222" stroke-width="1.35"/><line x1="435.2" y1="494.4" x2="438.6" y2="494.4" stroke="#222" stroke-width="1.1"/><text x="433.0" y="497.09999999999997" font-size="7.6" text-anchor="end" fill="#111" stroke="#111" stroke-width="0.1">0</text><line x1="435.2" y1="454.04999999999995" x2="438.6" y2="454.04999999999995" stroke="#222" stroke-width="1.1"/><text x="433.0" y="456.74999999999994" font-size="7.6" text-anchor="end" fill="#111" stroke="#111" stroke-width="0.1">50</text><line x1="435.2" y1="413.7" x2="438.6" y2="413.7" stroke="#222" stroke-width="1.1"/><text x="433.0" y="416.4" font-size="7.6" text-anchor="end" textLength="14.0" lengthAdjust="spacingAndGlyphs" fill="#111" stroke="#111" stroke-width="0.1">100</text><line x1="457.3" y1="494.4" x2="457.3" y2="497.4" stroke="#222" stroke-width="1"/><line x1="500" y1="494.4" x2="500" y2="497.4" stroke="#222" stroke-width="1"/><text x="0" y="0" font-size="8.6" text-anchor="middle" textLength="31" lengthAdjust="spacingAndGlyphs" transform="translate(416.3 454.8) rotate(-90)" fill="#111" stroke="#111" stroke-width="0.28">%HLA-DR<tspan font-size="5" dy="-3">+</tspan><tspan dy="3"></tspan></text><text x="440.2" y="410.8" font-size="7.2" textLength="39.1" lengthAdjust="spacingAndGlyphs" fill="#111" stroke="#111" stroke-width="0.1"><tspan font-style="italic">p</tspan> = 0.0004</text><line x1="447.3" y1="413.6" x2="466.9" y2="413.6" stroke="#555" stroke-width="1.4"/><text x="485.7" y="410.8" font-size="7.2" textLength="33" lengthAdjust="spacingAndGlyphs" fill="#111" stroke="#111" stroke-width="0.1"><tspan font-style="italic">p</tspan> = 0.001</text><line x1="491.2" y1="413.4" x2="510.5" y2="413.4" stroke="#555" stroke-width="1.4"/><path d="M446.6 458.2L449.2 462.8L444.0 462.8Z" fill="#f3bb2c"/><path d="M451.8 454.5L454.4 459.1L449.2 459.1Z" fill="#f3bb2c"/><path d="M448.8 460.0L451.4 464.6L446.2 464.6Z" fill="#f3bb2c"/><path d="M452.1 471.9L454.7 476.5L449.5 476.5Z" fill="#f3bb2c"/><path d="M446.3 477.4L448.9 482.0L443.7 482.0Z" fill="#f3bb2c"/><path d="M492.1 451.3L494.7 455.9L489.5 455.9Z" fill="#f3bb2c"/><path d="M489.0 465.2L491.6 469.8L486.4 469.8Z" fill="#f3bb2c"/><path d="M494.5 468.3L497.1 472.9L491.9 472.9Z" fill="#f3bb2c"/><path d="M494.9 476.6L497.5 481.2L492.3 481.2Z" fill="#f3bb2c"/><path d="M489.0 481.7L491.6 486.3L486.4 486.3Z" fill="#f3bb2c"/><path d="M467.7 421.1L470.1 423.5L467.7 425.9L465.3 423.5Z" fill="#f3bb2c"/><path d="M463.1 425.1L465.5 427.5L463.1 429.9L460.7 427.5Z" fill="#f3bb2c"/><path d="M465.3 426.9L467.7 429.3L465.3 431.7L462.9 429.3Z" fill="#f3bb2c"/><path d="M465.3 437.0L467.7 439.4L465.3 441.8L462.9 439.4Z" fill="#f3bb2c"/><path d="M508.1 423.3L510.5 425.7L508.1 428.1L505.7 425.7Z" fill="#f3bb2c"/><path d="M505.5 427.9L507.9 430.3L505.5 432.7L503.1 430.3Z" fill="#f3bb2c"/><path d="M510.5 430.3L512.9 432.7L510.5 435.1L508.1 432.7Z" fill="#f3bb2c"/><path d="M508.1 442.6L510.5 445.0L508.1 447.4L505.7 445.0Z" fill="#f3bb2c"/><line x1="443.9" y1="462.9" x2="454.9" y2="462.9" stroke="#222" stroke-width="1.1"/><line x1="460.4" y1="428" x2="470.5" y2="428" stroke="#222" stroke-width="1.1"/><line x1="487.2" y1="470.6" x2="497.6" y2="470.6" stroke="#222" stroke-width="1.1"/><line x1="503.1" y1="431.6" x2="513.2" y2="431.6" stroke="#222" stroke-width="1.1"/><text x="446.9" y="506.5" font-size="7.6" textLength="20.8" lengthAdjust="spacingAndGlyphs" fill="#111" stroke="#111" stroke-width="0.1">CD4<tspan font-size="4.8" dy="-3">+</tspan><tspan dy="3"></tspan></text><text x="451.2" y="515.8" font-size="8" fill="#111" stroke="#111" stroke-width="0.1">T<tspan font-size="5.8" dy="1.8">EM</tspan><tspan dy="-1.8"></tspan></text><text x="490" y="506.5" font-size="7.6" textLength="20.8" lengthAdjust="spacingAndGlyphs" fill="#111" stroke="#111" stroke-width="0.1">CD4<tspan font-size="4.8" dy="-3">+</tspan><tspan dy="3"></tspan></text><text x="494.3" y="515.8" font-size="8" fill="#111" stroke="#111" stroke-width="0.1">T<tspan font-size="5.8" dy="1.8">CM</tspan><tspan dy="-1.8"></tspan></text><text x="444.0" y="530.4" font-size="8.6" font-weight="bold" textLength="68" lengthAdjust="spacingAndGlyphs" fill="#111">Activated CLL signature</text><path d="M442.8 538.8L445.1 542.8L440.5 542.8Z" fill="#f3bb2c"/><text x="448.9" y="543" font-size="7.2" textLength="12.6" lengthAdjust="spacingAndGlyphs" fill="#111" stroke="#111" stroke-width="0.1">Low</text><path d="M483.8 537.9L486.7 540.8L483.8 543.7L480.9 540.8Z" fill="#f3bb2c"/><text x="490" y="543" font-size="7.2" textLength="13.8" lengthAdjust="spacingAndGlyphs" fill="#111" stroke="#111" stroke-width="0.1">High</text>
</svg></body></html>
